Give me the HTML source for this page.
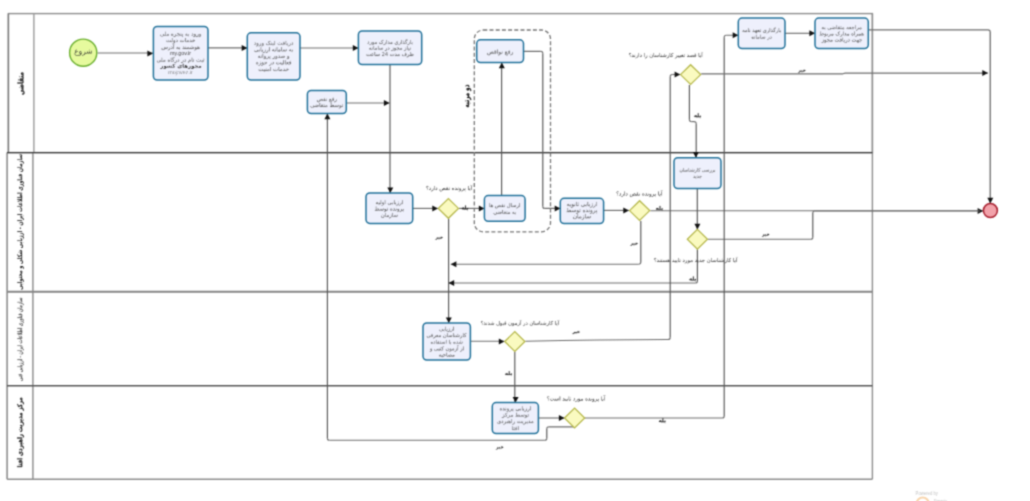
<!DOCTYPE html>
<html><head><meta charset="utf-8"><style>
html,body{margin:0;padding:0;background:#fff;width:1030px;height:501px;overflow:hidden}
svg{display:block;font-family:"Liberation Sans",sans-serif}

</style></head><body><div id="w">
<svg width="1030" height="501" viewBox="0 0 1030 501"><defs><filter id="bl" x="-2%" y="-2%" width="104%" height="104%" color-interpolation-filters="sRGB"><feConvolveMatrix order="3" kernelMatrix="1 3 1 3 9 3 1 3 1" divisor="25" edgeMode="none" preserveAlpha="false"/></filter></defs><g filter="url(#bl)">
<rect x="8.4" y="13.6" width="864" height="139" fill="none" stroke="#8e8e8e" stroke-width="1.4"/>
<line x1="8.4" y1="13.6" x2="8.4" y2="152.4" stroke="#7a7a7a" stroke-width="1.4"/>
<line x1="33.9" y1="13.6" x2="33.9" y2="152.4" stroke="#9a9a9a" stroke-width="1.4"/>
<line x1="7.1" y1="152.4" x2="7.1" y2="479.3" stroke="#8e8e8e" stroke-width="1.6"/>
<line x1="32.9" y1="152.4" x2="32.9" y2="479.3" stroke="#999" stroke-width="1.6"/>
<line x1="872.4" y1="13.6" x2="872.4" y2="479.3" stroke="#8e8e8e" stroke-width="1.4"/>
<line x1="7.1" y1="479.3" x2="872.4" y2="479.3" stroke="#8e8e8e" stroke-width="1.6"/>
<line x1="7" y1="152.7" x2="872.4" y2="152.7" stroke="#3a3a3a" stroke-width="1.3"/>
<line x1="7" y1="291.7" x2="872.4" y2="291.7" stroke="#858585" stroke-width="2"/>
<line x1="7" y1="385.8" x2="872.4" y2="385.8" stroke="#555" stroke-width="1.5"/>
<path d="M97.5 53.0H153.0" fill="none" stroke="#6e6e6e" stroke-width="1.15"/>
<polygon points="153,53.4 147.4,50.4 147.4,56.4" fill="#111"/>
<path d="M208.0 47.8H247.0" fill="none" stroke="#6e6e6e" stroke-width="1.15"/>
<polygon points="247.3,47.9 241.70000000000002,44.9 241.70000000000002,50.9" fill="#111"/>
<path d="M300.0 48.0H358.0" fill="none" stroke="#6e6e6e" stroke-width="1.15"/>
<polygon points="358.4,48 352.79999999999995,45.0 352.79999999999995,51.0" fill="#111"/>
<path d="M390.0 65.0V193.0" fill="none" stroke="#555" stroke-width="1.15"/>
<polygon points="390.3,193 387.3,187.4 393.3,187.4" fill="#111"/>
<path d="M346.3 103.0H389.5" fill="none" stroke="#6e6e6e" stroke-width="1.15"/>
<polygon points="389.5,103 383.9,100.0 383.9,106.0" fill="#111"/>
<path d="M412.7 208.4H437.9" fill="none" stroke="#6e6e6e" stroke-width="1.15"/>
<polygon points="437.9,208.4 432.29999999999995,205.4 432.29999999999995,211.4" fill="#111"/>
<path d="M458.9 208.4H484.4" fill="none" stroke="#6e6e6e" stroke-width="1.15"/>
<polygon points="484.4,208.4 478.79999999999995,205.4 478.79999999999995,211.4" fill="#111"/>
<path d="M501.6 195.6V62.6" fill="none" stroke="#555" stroke-width="1.15"/>
<polygon points="501.8,62.6 498.8,68.2 504.8,68.2" fill="#111"/>
<path d="M523.5 51.4H540.8M544.8 208.4H560.3" fill="none" stroke="#6e6e6e" stroke-width="1.15"/>
<path d="M540.8 51.4Q542.8 51.4 542.8 53.4M542.8 206.4Q542.8 208.4 544.8 208.4" fill="none" stroke="#6e6e6e" stroke-width="1.15"/>
<path d="M542.8 53.4V206.4" fill="none" stroke="#555" stroke-width="1.15"/>
<polygon points="560.3,208.4 554.6999999999999,205.4 554.6999999999999,211.4" fill="#111"/>
<path d="M603.6 210.4H628.9" fill="none" stroke="#6e6e6e" stroke-width="1.15"/>
<polygon points="628.9,210.5 623.3,207.5 623.3,213.5" fill="#111"/>
<path d="M650.3 210.7H983.2" fill="none" stroke="#6e6e6e" stroke-width="1.15"/>
<polygon points="983.2,210.9 977.6,207.9 977.6,213.9" fill="#111"/>
<path d="M638.6 264.2H450.8" fill="none" stroke="#6e6e6e" stroke-width="1.15"/>
<path d="M640.8 262.0Q640.8 264.2 638.6 264.2" fill="none" stroke="#6e6e6e" stroke-width="1.15"/>
<path d="M640.8 221.0V262.0" fill="none" stroke="#555" stroke-width="1.15"/>
<polygon points="450.8,264.3 456.40000000000003,261.3 456.40000000000003,267.3" fill="#111"/>
<path d="M448.6 218.6V323.0" fill="none" stroke="#555" stroke-width="1.15"/>
<polygon points="448.8,323 445.8,317.4 451.8,317.4" fill="#111"/>
<path d="M695.4 283.0H448.6" fill="none" stroke="#6e6e6e" stroke-width="1.15"/>
<path d="M697.4 281.0Q697.4 283.0 695.4 283.0" fill="none" stroke="#6e6e6e" stroke-width="1.15"/>
<path d="M697.4 249.3V281.0" fill="none" stroke="#555" stroke-width="1.15"/>
<polygon points="448.6,283.1 454.20000000000005,280.1 454.20000000000005,286.1" fill="#111"/>
<path d="M697.3 188.5V229.4" fill="none" stroke="#555" stroke-width="1.15"/>
<polygon points="697.4,229.4 694.4,223.8 700.4,223.8" fill="#111"/>
<path d="M707.8 239.2H810.8M814.8 211.0H980.0" fill="none" stroke="#6e6e6e" stroke-width="1.15"/>
<path d="M810.8 239.2Q812.8 239.2 812.8 237.2M812.8 213.0Q812.8 211.0 814.8 211.0" fill="none" stroke="#6e6e6e" stroke-width="1.15"/>
<path d="M812.8 237.2V213.0" fill="none" stroke="#555" stroke-width="1.15"/>
<path d="M470.4 341.2H504.4" fill="none" stroke="#6e6e6e" stroke-width="1.15"/>
<polygon points="504.4,341.4 498.79999999999995,338.4 498.79999999999995,344.4" fill="#111"/>
<path d="M672.2 74.5H680.2" fill="none" stroke="#6e6e6e" stroke-width="1.15"/>
<path d="M525.3 341.2Q600.0 339.5 668.0 339.5M668.0 339.5Q670.2 339.5 670.2 337.5M670.2 76.6Q670.2 74.5 672.2 74.5" fill="none" stroke="#6e6e6e" stroke-width="1.15"/>
<path d="M670.2 337.5V76.6" fill="none" stroke="#555" stroke-width="1.15"/>
<polygon points="680.2,74.5 674.6,71.5 674.6,77.5" fill="#111"/>
<path d="M514.8 351.7V402.6" fill="none" stroke="#555" stroke-width="1.15"/>
<polygon points="515.6,402.6 512.6,397.0 518.6,397.0" fill="#111"/>
<path d="M538.4 418.0H564.5" fill="none" stroke="#6e6e6e" stroke-width="1.15"/>
<polygon points="564.5,418 558.9,415.0 558.9,421.0" fill="#111"/>
<path d="M584.8 418.0H722.2M726.2 35.2H738.3" fill="none" stroke="#6e6e6e" stroke-width="1.15"/>
<path d="M722.2 418.0Q724.2 418.0 724.2 416.0M724.2 37.2Q724.2 35.2 726.2 35.2" fill="none" stroke="#6e6e6e" stroke-width="1.15"/>
<path d="M724.2 416.0V37.2" fill="none" stroke="#555" stroke-width="1.15"/>
<polygon points="738.3,35.2 732.6999999999999,32.2 732.6999999999999,38.2" fill="#111"/>
<path d="M574.6 426.8H548.8M544.8 440.2H329.4" fill="none" stroke="#6e6e6e" stroke-width="1.15"/>
<path d="M548.8 426.8Q546.8 426.8 546.8 428.8M546.8 438.2Q546.8 440.2 544.8 440.2M329.4 440.2Q327.4 440.2 327.4 438.2" fill="none" stroke="#6e6e6e" stroke-width="1.15"/>
<path d="M546.8 428.8V438.2M327.4 438.2V113.6" fill="none" stroke="#555" stroke-width="1.15"/>
<polygon points="327.4,113.6 324.4,119.19999999999999 330.4,119.19999999999999" fill="#111"/>
<path d="M691.6 121.6H694.0" fill="none" stroke="#6e6e6e" stroke-width="1.15"/>
<path d="M689.4 119.8Q689.4 121.6 691.6 121.6M694.0 121.6Q696.2 121.6 696.2 123.6" fill="none" stroke="#6e6e6e" stroke-width="1.15"/>
<path d="M689.4 84.9V119.8M696.2 123.6V157.7" fill="none" stroke="#555" stroke-width="1.15"/>
<polygon points="695.9,157.7 692.9,152.1 698.9,152.1" fill="#111"/>
<path d="M701.2 73.8H843.0M843.0 73.8L845.0 73.1M845.0 73.1H987.9" fill="none" stroke="#6e6e6e" stroke-width="1.15"/>
<polygon points="987.9,73.1 982.3,70.1 982.3,76.1" fill="#111"/>
<path d="M785.0 33.3H815.0" fill="none" stroke="#6e6e6e" stroke-width="1.15"/>
<polygon points="815,33.3 809.4,30.299999999999997 809.4,36.3" fill="#111"/>
<path d="M868.3 29.8H988.0" fill="none" stroke="#6e6e6e" stroke-width="1.15"/>
<path d="M988.0 29.8Q990.2 29.8 990.2 32.0" fill="none" stroke="#6e6e6e" stroke-width="1.15"/>
<path d="M990.2 32.0V203.4" fill="none" stroke="#555" stroke-width="1.15"/>
<polygon points="990.3,203.4 987.3,197.8 993.3,197.8" fill="#111"/>
<rect x="474.3" y="30" width="76.2" height="201.8" rx="9" fill="none" stroke="#777" stroke-width="1.3" stroke-dasharray="4 2.2"/>
<rect x="153.4" y="26.5" width="54.6" height="53.5" rx="3.8" fill="#eef0fc" stroke="#22729a" stroke-width="1.5"/>
<rect x="247.3" y="32.8" width="52.7" height="47.2" rx="3.8" fill="#eef0fc" stroke="#22729a" stroke-width="1.5"/>
<rect x="358.4" y="31" width="63.3" height="33.6" rx="3.8" fill="#eef0fc" stroke="#22729a" stroke-width="1.5"/>
<rect x="307.4" y="90.5" width="38.9" height="23.1" rx="3.8" fill="#eef0fc" stroke="#22729a" stroke-width="1.5"/>
<rect x="476.7" y="39.8" width="46.8" height="22.8" rx="3.8" fill="#eef0fc" stroke="#22729a" stroke-width="1.5"/>
<rect x="366" y="193" width="46.7" height="30.4" rx="3.8" fill="#eef0fc" stroke="#22729a" stroke-width="1.5"/>
<rect x="484.4" y="195.6" width="40.7" height="25.7" rx="3.8" fill="#eef0fc" stroke="#22729a" stroke-width="1.5"/>
<rect x="560.3" y="198.3" width="43.3" height="25.2" rx="3.8" fill="#eef0fc" stroke="#22729a" stroke-width="1.5"/>
<rect x="674" y="157.7" width="47.0" height="30.8" rx="3.8" fill="#eef0fc" stroke="#22729a" stroke-width="1.5"/>
<rect x="738.3" y="18.1" width="46.7" height="30.4" rx="3.8" fill="#eef0fc" stroke="#22729a" stroke-width="1.5"/>
<rect x="815" y="18.1" width="53.3" height="30.4" rx="3.8" fill="#eef0fc" stroke="#22729a" stroke-width="1.5"/>
<rect x="423" y="323" width="47.4" height="37.1" rx="3.8" fill="#eef0fc" stroke="#22729a" stroke-width="1.5"/>
<rect x="492.3" y="402.6" width="46.1" height="30.9" rx="3.8" fill="#eef0fc" stroke="#22729a" stroke-width="1.5"/>
<polygon points="438.29999999999995,208.4 448.4,198.5 458.5,208.4 448.4,218.3" fill="#fafac0" stroke="#b4b648" stroke-width="1.2"/>
<polygon points="629.5,210.6 639.6,200.7 649.7,210.6 639.6,220.5" fill="#fafac0" stroke="#b4b648" stroke-width="1.2"/>
<polygon points="680.5,74.6 690.6,64.69999999999999 700.7,74.6 690.6,84.5" fill="#fafac0" stroke="#b4b648" stroke-width="1.2"/>
<polygon points="687.3,239.3 697.4,229.4 707.5,239.3 697.4,249.20000000000002" fill="#fafac0" stroke="#b4b648" stroke-width="1.2"/>
<polygon points="504.69999999999993,341.5 514.8,331.6 524.9,341.5 514.8,351.4" fill="#fafac0" stroke="#b4b648" stroke-width="1.2"/>
<polygon points="564.5,418 574.6,408.1 584.7,418 574.6,427.9" fill="#fafac0" stroke="#b4b648" stroke-width="1.2"/>
<circle cx="83.2" cy="52.7" r="13.6" fill="#e6fa9e" stroke="#6cb030" stroke-width="1.4"/>
<circle cx="990.4" cy="210.6" r="7.0" fill="#f2a2aa" stroke="#a82030" stroke-width="1.5"/>
<path fill="#575757" stroke="#575757" stroke-width="0.12" d="M182.4 36.6L182.4 36.9L182.7 37L182.8 36.6ZM188.6 36.1L188.6 36.4L188.8 36.4L188.8 36.2ZM178.4 36.1L178.2 36.2L178.2 36.4L178.4 36.4ZM182.9 36L182.8 36.3L183.1 36.3L183.1 36.1ZM182.2 36L182.1 36.3L182.4 36.3L182.4 36.1ZM198.1 34.3L197.9 34.3L198 35.1L197.8 35.7L197.2 36.3L196 36.6L196 37L196.5 37L197.2 36.8L198 36.2L198.4 35.4L198.4 34.6ZM200.5 34.2L199.8 34.1L199.3 34.5L199.3 35.2L199.8 35.6L200.3 35.6L200.4 35.9L199.8 36.4L198.6 36.6L198.6 37L199.8 36.9L200.6 36.3L200.8 35.9L200.8 34.6ZM199.8 34.5L200.2 34.5L200.5 34.8L200.5 35.2L200.4 35.3L199.8 35.2L199.6 34.8ZM195.2 34.2L194.6 34.1L194.1 34.4L194 34.7L194.1 35.3L194.3 35.5L195.1 35.6L195.2 35.7L195.1 36L194.3 36.5L193.3 36.6L193.3 37L194.6 36.9L195 36.6L195.5 36.2L195.7 35.6L195.7 34.8L195.6 34.5ZM194.4 34.7L194.7 34.5L195 34.5L195.2 34.7L195.2 35.2L195.1 35.3L194.7 35.2L194.4 35ZM171.8 33.8L171.3 34.4L171.3 35.2L171.4 35.4L171.9 35.7L172.5 35.7L173 35.5L173.4 35L173.2 34.5L172.7 34ZM171.8 34.4L172 34.2L172.5 34.3L172.9 34.7L172.9 35.1L172.5 35.4L172 35.4L171.7 35.1ZM185.5 34.7L185.5 35.1L185.6 35.3L185.8 35.4L186.7 35.4L186.9 35.3L187.4 35.6L188.4 35.6L188.6 35.5L188.8 35.2L188.9 34.2L188.5 34.2L188.5 35L188 35.3L187.6 35.3L187.3 35L187 34.3L187 33.8L186.9 33.7L186.7 33.7L186.5 34.1L185.9 34.2ZM186.6 34.3L186.8 34.6L186.8 35L186.4 35.2L186 35.2L185.8 35L185.9 34.6L186.4 34.3ZM173.6 37L174.6 36.9L175.3 36.5L175.7 36.1L175.9 35.5L176.2 35.6L177.5 35.6L178.3 35.3L178.7 34.8L178.8 34.8L179.3 35.4L179.7 35.6L180.6 35.6L181 35.4L181.3 35.6L182.3 35.6L182.6 35.5L182.8 35.1L182.8 34.2L182.4 34.2L182.4 34.8L182.3 35.1L182 35.3L181.5 35.3L181.2 35L181.2 34.2L180.8 34.2L180.8 35L180.4 35.3L179.7 35.2L179.3 34.7L179.3 34.6L179.6 34.4L179.6 34.1L178.2 33.6L177.2 33.6L177.2 34L177.3 34.1L178.5 34.1L179 34.3L177.7 35.2L176.4 35.3L176 35L175.9 34.4L175.8 34.3L175.5 34.3L175.6 34.5L175.6 35.4L175.5 35.6L174.8 36.3L174.4 36.5L173.6 36.6ZM192.5 33.4L192.1 33.4L192.5 33.8L192.8 34.3L192.8 34.8L192.4 35.2L192.1 35.3L191.5 35.2L191.5 35.5L191.8 35.6L192.6 35.5L192.9 35.4L193.1 35.1L193.2 34.4L193.1 34.1ZM180.9 33.1L180.9 33.4L181.1 33.4L181.1 33.1ZM168.8 34.6L168.6 34.4L168.3 34.2L167.5 34.2L167.2 34.4L166.8 35.2L166.6 35.3L166.1 35.3L165.8 35.2L165.6 34.8L165.6 31.7L165.3 31.7L165.3 34.8L165 35.2L164.6 35.3L164.3 35.1L163.9 34.5L163.4 34.4L163.1 34.5L162.8 35L163.3 35.6L162.7 36L161.5 36L161.2 35.9L160.8 35.4L161 34.7L160.7 34.7L160.6 34.8L160.4 35.5L160.6 35.9L161 36.2L161.3 36.3L162.7 36.3L163.3 36.1L163.6 35.7L163.6 35.3L163.3 35.1L163.5 34.7L164 35.4L164.4 35.6L165.2 35.6L165.3 35.5L165.6 35.5L165.7 35.6L167 35.6L167.2 35.5L167.5 35.7L168.3 35.7L168.5 35.6L168.8 35.3ZM167.7 34.5L168.1 34.5L168.3 34.7L168.3 35.2L168.1 35.4L167.7 35.4L167.4 35.2L167.4 34.8ZM174.7 40.6L174 40.5L173.5 40.9L173.5 41.6L174 42L174.5 42L174.6 42.3L174 42.8L172.8 43L172.8 43.4L174 43.3L174.8 42.7L175 42.3L175 41ZM174 40.9L174.4 40.9L174.7 41.2L174.7 41.6L174.6 41.7L174 41.6L173.8 41.2ZM184.2 40.4L183.9 40.4L183.9 40.8L183.4 41.4L182.8 41.6L182.2 41.6L182.1 41.7L180.9 41.6L180.4 41.2L180.4 40.7L180.5 40.5L180.2 40.5L180.1 40.6L180.1 41.4L180.4 41.8L181 42L183 41.9L183.8 41.6L184.2 41ZM182.2 40L182.2 40.2L182.4 40.4L182.4 40ZM181.5 40L181.5 40.2L181.8 40.4L181.9 40ZM168.5 40L168.5 40.2L168.8 40.4L168.9 40ZM167.9 40L167.9 40.2L168.1 40.4L168.2 40ZM189.6 42L190.5 42L191.1 41.7L191.5 42L192.9 42L193.7 41.7L194.1 41.2L194.9 40.8L194.9 40.5L194.4 40.2L193.5 40.1L193.4 40L192.5 40L192.5 40.4L192.6 40.5L193.8 40.5L194.2 40.7L193.4 41.4L193 41.6L191.9 41.7L191.3 41.2L191.2 40.6L190.6 39.8L190.2 39.8L190.6 40.2L190.9 40.7L190.9 41.2L190.5 41.6L189.6 41.7ZM176.9 39.8L176.5 39.8L176.9 40.2L177.2 40.7L177.2 41.2L176.8 41.6L176.5 41.7L175.9 41.6L175.9 41.9L176.2 42L177.1 41.9L177.3 41.8L177.5 41.5L177.6 40.8L177.5 40.5ZM193.8 39.2L193.5 39.2L193.5 39.6L193.8 39.5ZM185.2 38.1L185.2 41.4L185.4 41.7L185.8 42L187 42L187.2 41.9L187.5 42.1L188.3 42.1L188.7 41.8L188.7 40.9L188.4 40.6L187.5 40.6L187.2 40.9L187 41.4L186.7 41.7L186 41.7L185.7 41.4L185.7 38.1ZM187.6 41L188 40.9L188.4 41.2L188.4 41.6L188.2 41.8L187.5 41.7L187.4 41.5ZM172.3 38.1L172 38.1L172 41.4L171.6 41.7L170.9 41.6L170.7 41.2L170.7 40.6L170.5 40.4L170.2 40.4L170.3 40.7L169.8 41.4L169.1 41.6L168.6 41.6L168.5 41.7L167.7 41.7L167.1 41.5L166.7 41L166.8 40.5L166.6 40.5L166.4 40.8L166.5 41.5L166.8 41.8L167.4 42L168.8 42L168.9 41.9L169.8 41.8L170.2 41.5L170.9 42L171.9 42L172.1 41.9L172.3 41.6ZM179.7 49.3L179.7 49.7L179.9 49.7L179.9 49.3ZM169.9 47.5L169.7 47.5L169.8 48.3L169.6 49L169 49.6L167.8 49.9L167.8 50.2L168.2 50.2L169 50L169.8 49.4L170.2 48.7L170.2 47.9ZM176.5 48L176.5 48.3L176.9 48.7L177.8 48.7L178.1 48.5L178.5 48.9L179.5 48.9L179.9 48.5L180 47.4L179.6 47.4L179.6 48.2L179.2 48.5L178.7 48.5L178.2 48L178.2 47.4L178 47L177.9 47L177.7 47.3L177.3 47.3L176.9 47.5ZM177.7 47.5L177.9 47.8L177.9 48.2L177.4 48.4L177 48.3L176.9 48.1L177.3 47.6ZM167.5 47L167.3 46.9L167 47L167 48.1L166.8 48.4L166.6 48.4L166.2 48.2L166.1 48L166.1 47.3L165.7 47.3L165.7 47.9L165.3 48.4L165 48.4L164.8 48.2L164.5 47.8L164.5 47.3L164.1 47.3L164.3 47.9L164.3 48.8L163.5 49.7L162.9 49.8L162.2 49.4L162.1 49L162.2 48.9L162.2 48.3L162.4 48L162 48L161.7 48.5L161.7 49.4L162.2 50L163.5 50.1L164 49.9L164.4 49.4L164.8 48.8L164.9 48.9L165.4 48.9L165.7 48.8L165.9 48.4L166.1 48.8L166.8 48.9L167.3 48.4ZM182.6 48.9L183.5 48.9L184.1 48.5L184.5 48.9L185.5 48.9L185.9 48.7L186.2 48.9L187.3 48.9L187.5 48.8L187.9 49L188.7 49L188.9 48.8L189.2 48.9L190.3 48.9L190.8 48.5L191.1 48.9L191.8 48.9L192 48.8L192.3 48.4L192.5 48.8L193.2 48.9L193.7 48.4L193.8 48.1L193.8 47L193.4 47L193.4 48.2L193 48.5L192.6 48.2L192.5 48L192.5 47.4L192.4 47.3L192 47.4L192 48L191.6 48.5L191.1 48.3L190.9 47.8L190.9 47.3L190.6 47.4L190.6 48.1L190 48.5L189.5 48.5L189.1 48.2L189 47.8L188.7 47.4L187.9 47.4L187.4 47.8L187.3 48.2L187 48.5L186.4 48.5L186.1 48.3L186.1 47.4L185.6 47.4L185.6 48.2L185.2 48.5L184.9 48.5L184.3 48.1L184.2 47.4L183.6 46.6L183.2 46.6L183.6 47.1L183.8 47.5L183.8 48.1L183.5 48.4L182.6 48.5ZM188.1 47.8L188.4 47.8L188.7 48L188.7 48.4L188.4 48.7L188.1 48.7L187.8 48.4L187.8 48.1ZM171.9 46.6L171.5 46.6L172.1 47.3L172.2 48L171.9 48.3L171.5 48.5L170.9 48.4L170.9 48.8L171.1 48.9L172.1 48.8L172.5 48.3L172.5 47.4ZM199.5 48.1L199.3 47.6L198.7 47L197.6 46.4L197.6 46.8L197.9 47L197.5 47.3L197.6 48.4L197.5 48.5L196.6 48.5L196.4 48.3L196.4 47.9L196.1 47.4L195.8 47.3L195.2 47.4L194.8 47.8L194.8 48.4L195.4 48.9L195.8 48.9L196 49.1L195.4 49.7L194.2 49.9L194.2 50.2L194.8 50.2L195.6 50L196.1 49.7L196.5 48.9L197.9 48.9L198.1 48.8L198.3 49L199.1 49.1L199.3 49L199.5 48.7ZM195.4 47.8L195.8 47.8L196.1 48.1L196.1 48.4L196 48.5L195.4 48.4L195.2 48.1ZM198.9 47.6L199.2 48.1L199.2 48.5L199 48.8L198.7 48.8L198.5 48.4L198.8 48.2L198.8 47.8ZM198 47.3L198.3 47.3L198.5 47.6L198.2 48.2L197.9 48L197.9 47.4ZM192.5 46.4L192.3 46.4L192.3 46.8L192.5 46.6ZM191.6 46.4L191.6 46.8L191.8 46.8L191.8 46.4ZM185.7 46.3L185.7 46.6L186 46.6L186 46.4ZM192.1 45.7L191.9 45.7L191.9 46.1L192.1 46ZM173.5 45L173.5 48.9L173.9 48.9L173.9 45ZM172.8 44.4L173.2 44.2L173.9 44.5L174.4 44.3L174.5 44.1L174.1 44.3L173.6 44.3L173.3 44.1L172.8 44.2ZM187.1 54.4L187.1 54.9L187.5 54.9L187.5 54.4ZM177.3 54.4L177.3 54.9L177.8 54.9L177.8 54.4ZM190.9 52.1L190.5 52.1L190.1 52.5L190 52.4L190 52.1L189.7 52.1L189.7 54.9L190 54.9L190 53.1L190.1 52.8L190.5 52.4L190.9 52.4ZM188.4 52.1L188.4 54.9L188.9 54.9L188.9 52.1ZM184.4 52.1L185.3 54.9L185.9 54.9L186.9 52.1L186.4 52.1L185.6 54.4L185.4 54.2L184.9 52.5L184.9 52.2L184.7 52.1ZM182 52.2L181.7 52.5L181.6 52.9L181.6 54.1L181.8 54.6L182.4 54.9L183.2 54.9L183.6 54.7L184 54.1L184 52.9L183.7 52.4L183.2 52.1ZM182.6 52.3L183.2 52.4L183.5 52.8L183.6 53.1L183.5 54.2L182.9 54.7L182.4 54.6L182 54.2L181.9 53.9L181.9 53L182 52.8ZM180.8 52.1L180.5 52.1L180.5 52.4L180.4 52.5L180.3 52.3L179.8 52.1L179.2 52.1L178.7 52.5L178.6 52.9L178.6 54.2L178.8 54.7L179.1 54.9L179.8 54.9L180.4 54.4L180.5 54.6L180.5 55.2L180.1 55.7L179.6 55.8L179 55.3L178.8 55.3L178.7 55.6L179 55.9L180 56L180.4 55.9L180.8 55.3ZM179.6 52.3L180 52.4L180.4 52.8L180.5 53.1L180.4 54.2L179.8 54.7L179.2 54.6L178.9 53.9L179 52.8ZM177.1 52.1L176.7 52.1L176.2 53.7L175.9 54.3L175.7 54L175 52.1L174.5 52.1L175.7 54.8L175.4 55.5L175.2 55.7L174.8 55.8L174.8 56L175.2 56L175.8 55.6ZM170.4 52.1L170.4 54.9L170.8 54.9L170.8 52.9L170.9 52.6L171.4 52.3L171.8 52.4L172.1 52.8L172.1 54.9L172.4 54.9L172.4 53.1L172.5 52.8L173.1 52.3L173.3 52.3L173.7 52.9L173.7 54.9L174.1 54.9L174.1 52.6L173.6 52.1L173.1 52.1L172.5 52.5L171.9 52.1L171.4 52.1L170.8 52.5L170.7 52.4L170.7 52.1ZM188.4 51.1L188.4 51.4L188.9 51.4L188.9 51.1ZM202.1 62.1L202.1 62.4L202.3 62.4L202.3 62.2ZM183.2 60.3L182.9 60.4L183 60.5L183 61.5L182.9 61.7L182.1 62.4L181 62.6L181 63L182 62.9L183 62.3L183.3 61.7L183.3 61.3L183.4 61.2L183.4 60.7ZM176.5 60.3L176.3 60.3L176.4 61.1L176.2 61.7L175.6 62.3L174.4 62.6L174.4 63L174.8 63L175.6 62.7L176.4 62.2L176.7 61.4L176.7 60.6ZM204 60.2L203.6 60.2L203.5 61.1L203.2 61.3L202.7 61.3L202.4 61.1L202.4 60.2L202 60.2L202 61L201.5 61.3L200.9 61.2L200.7 60.8L200.7 60.2L200.6 59.9L200.3 59.9L200.4 60.3L199.8 61L199.2 61.2L198.7 61.2L198.6 61.3L197.4 61.2L197.1 61.1L196.8 60.6L196.9 60.1L196.6 60.2L196.5 60.8L196.9 61.4L197.5 61.6L198.8 61.6L198.9 61.5L199.8 61.4L200.3 61.1L200.9 61.6L201.8 61.6L202.2 61.4L202.5 61.6L203.5 61.6L204 61.1ZM190.4 59.9L189.6 59.8L189.2 60.2L189.1 60.8L188.7 61L188.4 61.3L188.3 61.6L188.3 63L188.7 63L188.7 61.6L189.1 61.3L189.5 61.5L190.2 61.5L190.7 61.2L190.7 60.4ZM189.4 60.6L189.7 60.3L190.2 60.3L190.4 60.6L190.4 60.8L190.1 61.2L189.8 61.2L189.4 61ZM168.3 59.8L167.9 60.4L167.9 61.2L168 61.4L168.4 61.7L169 61.7L169.5 61.5L169.9 61L169.8 60.5L169.2 59.9ZM168.3 60.4L168.5 60.2L169 60.3L169.4 60.7L169.4 61.1L169 61.4L168.5 61.4L168.2 61.1ZM198.6 59.6L198.6 59.8L198.8 59.9L198.9 59.6ZM197.9 59.6L197.9 59.8L198.1 59.9L198.3 59.6ZM185.2 59.4L184.7 59.4L185.2 59.9L185.5 60.4L185.5 60.7L184.8 61.3L184.1 61.2L184.1 61.5L184.3 61.6L185 61.6L185.5 61.4L185.8 61L185.7 59.9ZM178.5 59.4L178.1 59.4L178.6 60.1L178.7 60.7L178.5 61.1L178.1 61.3L177.5 61.2L177.5 61.5L177.6 61.6L178.6 61.5L179.1 61.1L179.1 60.2ZM204.1 59L204 59.4L204.3 59.4L204.3 59.2ZM203.4 59L203.3 59.4L203.6 59.4L203.6 59.2ZM193.5 59L193.5 59.4L193.8 59.4L193.8 59ZM203.8 58.4L203.6 58.7L204 58.7L204 58.5ZM191.8 57.7L191.8 61L191.9 61.3L192.3 61.6L193.3 61.6L193.8 61.3L193.9 60.2L193.4 60.2L193.4 61L193.1 61.3L192.5 61.3L192.2 61L192.2 57.7ZM170.9 57.7L170.9 61.2L171 61.4L171.3 61.6L173 61.6L173.2 61.5L173.7 61L173.7 60.5L173.5 60.1L172.7 59.2L172.7 58.8L173 58.6L174.4 58.1L174.5 58L174.5 57.7L172.9 58.3L172.2 58.7L172.2 59.3L173.2 60.5L173.2 61L172.8 61.3L171.6 61.3L171.2 61L171.2 57.7ZM165.3 60.6L165.2 60.4L164.8 60.2L164 60.2L163.7 60.4L163.4 61.2L163.1 61.3L162.6 61.3L162.4 61.2L162.1 60.8L162.1 57.7L161.8 57.7L161.8 60.8L161.6 61.2L161.1 61.3L160.8 61.1L160.4 60.5L159.9 60.4L159.7 60.5L159.3 61L159.8 61.6L159.2 62L158 62L157.8 61.9L157.3 61.4L157.5 60.7L157.2 60.7L157.1 60.8L157 61.5L157.1 61.9L157.5 62.2L157.9 62.3L159.2 62.3L159.8 62.1L160.1 61.7L160.1 61.3L159.8 61.1L160 60.7L160.6 61.4L160.9 61.6L161.7 61.6L161.8 61.5L162.1 61.5L162.2 61.6L163.5 61.6L163.7 61.5L164 61.7L164.8 61.7L165 61.6L165.3 61.3ZM164.3 60.5L164.6 60.5L164.8 60.7L164.8 61.2L164.6 61.4L164.3 61.4L163.9 61.2L163.9 60.8ZM174.5 56.9L172.7 57.7L172.5 57.7L172.2 58L172.6 58L174.2 57.3L174.5 57.3ZM287.9 45.3L287.8 45.6L288.2 45.6L288.2 45.4ZM287.3 45.3L287.2 45.6L287.5 45.6L287.5 45.4ZM273.3 45.3L273.3 45.6L273.5 45.6L273.5 45.4ZM272.8 45.3L272.6 45.4L272.6 45.6L272.8 45.6ZM290.5 43.6L290.3 43.5L290.1 43.6L290.2 43.7L290.2 44.6L290 45.1L289.6 45.4L289 45.7L288.2 45.9L288.2 46.2L289.2 46.1L289.9 45.7L290.3 45.3L290.5 44.8ZM260.8 43.5L260.6 43.5L260.7 44.3L260.5 45L259.9 45.5L258.7 45.9L258.7 46.2L259.1 46.2L259.9 46L260.7 45.4L261 44.6L261 43.8ZM263.2 43.4L262.5 43.3L261.9 43.7L261.9 44.4L262.5 44.8L263 44.8L263.1 45.1L262.5 45.6L261.3 45.9L261.3 46.2L262.5 46.1L263.3 45.5L263.5 45.1L263.5 43.8ZM262.5 43.7L262.9 43.7L263.2 44.1L263.2 44.4L263.1 44.5L262.5 44.4L262.3 44.1ZM257.8 43.3L257.2 43.3L256.8 43.7L256.8 44.4L256.9 44.6L257.3 44.8L257.8 44.8L257.9 45.1L257.3 45.6L256.1 45.9L256.1 46.2L256.8 46.2L257.5 46L258 45.6L258.3 45L258.3 43.9ZM257.1 43.9L257.3 43.7L257.7 43.7L257.9 43.9L258 44.4L257.9 44.5L257.5 44.5L257.1 44.2ZM279.8 42.8L279.8 43L280 43.1L280.1 42.8ZM279.1 42.8L279.1 43L279.4 43.1L279.5 42.8ZM292.4 42.6L291.9 42.6L292.6 43.4L292.6 44.1L292.2 44.4L291.9 44.5L291.3 44.4L291.3 44.7L291.6 44.8L292.2 44.8L292.9 44.4L293 43.5L292.6 42.7ZM255.2 42.6L254.7 42.6L255.2 43L255.4 43.5L255.4 44.1L255.1 44.4L254.7 44.5L254.1 44.4L254.1 44.7L254.4 44.8L255.3 44.7L255.5 44.6L255.7 44.3L255.8 43.6L255.7 43.3ZM284.8 43.3L284.7 43.1L284.7 42.8L284.1 42.4L283.4 42.5L283.1 42.9L283.2 43.6L283.7 43.9L284 43.9L284.1 43.8L284.3 43.9L283.9 44.4L283.5 44.5L282.4 44.5L282.2 44.4L282 44.1L282 43.4L281.8 43.1L281.5 43.1L281.6 43.5L281.1 44.2L280.4 44.4L279.9 44.4L279.8 44.5L278.6 44.4L278.3 44.3L278 43.8L278.1 43.3L277.8 43.4L277.7 44.1L278.1 44.6L278.7 44.8L280 44.8L280.1 44.7L281.1 44.6L281.5 44.3L282.2 44.8L283.9 44.8L284.4 44.5L284.7 44.1ZM283.5 43L283.8 42.8L284.1 42.8L284.3 43L284.3 43.4L284.1 43.6L283.8 43.6L283.5 43.4ZM271.3 42.2L271.3 42.6L271.6 42.6L271.6 42.4ZM283.9 41.5L283.8 41.8L284.1 41.8L284.1 41.6ZM285.8 40.9L285.8 44.4L285.9 44.6L286.3 44.8L287.4 44.8L287.8 44.3L287.8 43.4L287.5 43.4L287.4 44.3L287 44.5L286.5 44.5L286.1 44.2L286.1 40.9ZM266.1 43.9L266.2 44.5L266.6 44.8L267.1 45.1L268.4 45.1L268.5 45L268.8 45L269.5 44.6L269.9 44.3L270 44.5L270.4 44.8L271.1 44.8L271.4 44.6L271.8 44.8L272.7 44.8L273 44.6L273.4 44.8L274.5 44.8L274.7 44.7L274.9 44.4L274.9 40.9L274.6 40.9L274.6 44.1L274.5 44.3L274.2 44.5L273.6 44.5L273.3 44.2L273.3 43.4L272.8 43.4L272.8 44.2L272.5 44.5L272 44.5L271.7 44.3L271.7 43.4L271.2 43.4L271.2 44.2L271 44.4L270.5 44.4L268.7 42.2L269.1 41.8L270.4 41.3L270.5 41.2L270.5 40.9L269.8 41.1L268.4 41.8L268.3 42.2L268.5 42.7L269.4 43.7L269.4 44.1L269.1 44.4L268.2 44.7L267.4 44.7L266.8 44.5L266.6 44.3L266.6 43.6L266.7 43.5L266.4 43.5ZM292.3 51.7L292.3 52.1L292.5 52.1L292.5 51.7ZM262.9 51.7L262.8 52.1L263.1 52.1L263.1 51.9ZM262.2 51.7L262.1 52.1L262.5 52.1L262.5 51.9ZM259.4 51.7L259.3 52.1L259.6 52.1L259.6 51.9ZM268 49.9L267.8 49.9L267.9 50.7L267.7 51.4L267.1 52L265.8 52.3L265.8 52.7L266.3 52.7L267.1 52.4L267.9 51.9L268.2 51.1L268.2 50.3ZM265.4 49.9L265.1 50.1L265.2 50.2L265.2 51.2L265.1 51.4L264.3 52.1L263.1 52.3L263.1 52.7L263.7 52.7L264.7 52.3L265.4 51.6L265.6 50.8L265.6 50.4ZM259.6 49.8L259.3 49.8L259.3 50.5L259.2 50.7L258.8 51L258.5 50.8L258 50.2L257.8 50.1L257.3 50.2L256.9 50.6L257.4 51.3L256.8 51.6L255.6 51.6L255.3 51.5L254.9 51.1L255.1 50.4L254.8 50.4L254.7 50.5L254.5 51.2L254.7 51.5L255.1 51.9L255.4 52L256.8 52L257.4 51.7L257.7 51.4L257.7 51L257.4 50.7L257.6 50.4L258.2 51.1L258.5 51.3L259.2 51.3L259.4 51.2L259.6 50.7ZM289.1 50.4L289.1 50.7L289.5 51.1L290.4 51.1L290.7 51L291.1 51.3L292.1 51.3L292.5 51L292.6 49.8L292.2 49.8L292.2 50.6L291.8 51L291.3 51L290.8 50.4L290.8 49.8L290.6 49.4L290.5 49.4L290.3 49.7L289.9 49.7L289.5 49.9ZM290.3 49.9L290.5 50.2L290.5 50.6L290 50.8L289.6 50.7L289.5 50.5L289.9 50.1ZM272.3 50.3L272.3 50.8L272.6 51.1L273.5 51.1L273.8 51L274.2 51.3L275.2 51.3L275.5 51.2L275.7 50.7L275.7 49.8L275.3 49.8L275.3 50.5L275.1 50.8L274.9 51L274.2 50.8L273.9 50.2L273.9 49.5L273.8 49.4L273.5 49.4L273.3 49.7L272.7 49.8ZM273.4 49.9L273.6 50.6L273.2 50.8L272.9 50.8L272.6 50.6L272.6 50.4L273 50.1ZM265.1 48.9L265.1 49.1L265.3 49.3L265.4 48.9ZM275.5 48.7L275.3 49L275.7 49L275.7 48.8ZM281.3 47.3L281.3 50.6L281.7 51.2L281.9 51.3L283 51.3L283.5 51L283.8 51.3L284.5 51.3L285 51L285.4 51.3L285.9 51.3L286.3 51L286.5 50.3L286.5 49.4L286.4 49.3L286.1 49.4L286.1 50.6L285.7 51L285.3 50.7L285.1 49.7L284.7 49.7L284.6 50.6L284.2 51L283.7 50.6L283.6 49.7L283.3 49.7L283.3 50.4L282.9 50.8L282.7 51L282.1 51L281.8 50.6L281.8 47.3ZM276.8 47.3L276.8 50.7L277.3 51.3L278.5 51.3L278.6 51.2L279.1 51.4L279.9 51.4L280.1 51.3L280.3 51L280.3 50.3L280.2 50.1L279.9 49.8L279.1 49.8L278.8 49.9L278.5 50.7L278.2 51L277.6 51L277.3 50.7L277.2 50.4L277.2 47.3ZM279.3 50.2L279.6 50.2L279.9 50.4L279.9 50.8L279.6 51.1L279.3 51.1L279 50.8L279 50.5ZM269.1 47.3L269.1 51.3L269.6 51.3L269.6 47.3ZM260.8 47.3L260.8 50.8L260.9 51.1L261.2 51.3L262.3 51.3L262.6 51.2L262.8 50.7L262.8 49.8L262.5 49.8L262.5 50.5L262.2 50.8L261.6 51L261.2 50.7L261.1 50.5L261.1 47.3ZM269.9 58.8L269.9 59L270.1 59.1L270.2 58.8ZM270.3 58.1L270.2 58.4L270.5 58.4L270.5 58.2ZM269.6 58.1L269.5 58.4L269.9 58.4L269.9 58.2ZM274.5 56.4L274.3 56.4L274.4 57.4L274 58.1L273.1 58.6L272.3 58.8L272.3 59.1L272.8 59.1L273.6 58.9L274 58.6L274.5 58.2L274.7 57.6L274.7 56.6ZM270.2 56.3L269.9 56.3L269.9 57L269.8 57.2L269.4 57.4L268.7 57.3L268.4 56.7L268.4 56.4L268.1 56.4L268.2 57.2L267.9 57.9L267.4 58.4L266.1 58.8L266.1 59.1L266.7 59.1L267.6 58.8L268.1 58.4L268.5 57.6L268.7 57.7L269.8 57.7L270 57.6L270.2 57.2ZM288.6 56.3L287.9 56.2L287.5 56.5L287.4 56.8L287.5 57.4L287.7 57.6L288.5 57.7L288.6 57.9L288.5 58.1L287.7 58.6L286.7 58.8L286.7 59.1L287.9 59L288.4 58.8L288.9 58.3L289.1 57.7L289.1 57L289 56.6ZM287.8 56.8L288.1 56.6L288.4 56.6L288.6 56.8L288.6 57.3L288.5 57.4L288.1 57.3L287.8 57.1ZM276.9 56.3L276.2 56.2L276 56.3L275.6 56.7L275.6 57.2L276 57.6L276.8 57.7L276.9 57.9L276.6 58.2L276 58.6L274.9 58.8L274.9 59.1L276.2 59L276.6 58.8L277.1 58.3L277.3 57.2L277.2 57.1L277.2 56.7ZM276.1 56.7L276.2 56.6L276.6 56.6L276.9 57L276.9 57.3L276.8 57.4L276.3 57.3L276.1 57.1ZM265.2 56.2L264.7 56.2L264.2 56.6L264.2 57.3L264.3 57.5L264.8 57.7L265.2 57.7L265.3 58L264.8 58.5L263.5 58.8L263.5 59.1L264.2 59.1L265 58.9L265.5 58.5L265.8 57.9L265.8 56.8ZM264.5 56.8L264.8 56.6L265.1 56.6L265.3 56.8L265.5 57.3L265.3 57.4L265 57.4L264.5 57.1ZM258.1 57L258.4 57.5L259.5 57.5L259.7 57.4L260.1 57.7L261.2 57.7L261.6 57.2L261.6 56.3L261.3 56.3L261.2 57.2L260.8 57.4L260.3 57.4L259.9 57.1L259.8 55.9L259.7 55.8L259.5 55.8L259.2 56.2L258.9 56.2L258.4 56.4ZM259.3 56.4L259.6 57.1L259.1 57.3L258.8 57.3L258.6 57.1L258.6 56.8L258.9 56.5ZM278.1 57.7L279 57.7L279.6 57.4L280 57.7L281.2 57.7L281.6 57.4L282.1 57.7L283.5 57.7L284.2 57.5L284.7 57.1L284.7 56.3L284.1 55.9L283.4 55.9L282.8 56.3L282 57.1L281.7 56.8L281.7 56.5L281.4 56.5L281.4 56.8L281.1 57.3L280.4 57.4L279.8 57L279.7 56.3L279.1 55.5L278.7 55.5L279.1 55.9L279.4 56.4L279.4 57L279 57.3L278.1 57.4ZM284.3 56.6L284.3 56.8L283.7 57.3L283.2 57.3L283.1 57.4L282.4 57.4L282.3 57.3L283.1 56.5L283.5 56.3L284 56.3ZM261.4 55.1L261.3 55.5L261.6 55.5L261.6 55.3ZM262.7 53.8L262.7 57.7L263.1 57.7L263.1 53.8ZM282.3 64.6L282.2 65L282.5 65L282.5 64.8ZM281.6 64.6L281.5 65L281.8 65L281.8 64.8ZM271.3 63L271.1 62.8L270.9 63L271 63.1L271 64L270.8 64.4L270.4 64.8L269.8 65.1L269 65.2L269 65.5L270 65.4L270.7 65.1L271.1 64.6L271.3 64.2ZM260.7 62.8L260.4 63L260.5 63.1L260.5 64.1L260.4 64.3L259.6 65L258.4 65.2L258.4 65.5L259 65.5L260 65.2L260.7 64.5L260.9 63.7L260.9 63.3ZM256.6 62.4L256.3 62.7L256.3 63.1L256.2 63.2L256.3 64L256.8 64.3L257.4 64.3L257.9 64.1L258.2 63.6L258.2 63.3L258 62.8L257.5 62.5ZM256.9 62.7L257.5 63L257.9 63.4L257.4 64L256.9 64L256.6 63.7L256.6 63ZM278.5 62.2L278.5 62.4L278.7 62.5L278.8 62.2ZM277.8 62.2L277.8 62.4L278 62.5L278.1 62.2ZM266.9 62.6L266.5 62.4L265.6 62.3L265.5 62.2L264.5 62.2L264.5 62.5L264.7 62.6L265.8 62.6L266.2 62.8L265.5 63.5L264.4 63.9L263.5 63.9L263.3 63.1L262.9 62.6L262.3 62.6L261.8 63L261.7 63.3L261.8 63.9L262.1 64.1L262.9 64.2L263 64.3L262.5 64.9L262.1 65.1L261 65.2L261 65.5L261.8 65.5L262.7 65.2L263.2 64.8L263.4 64.2L264.9 64.2L265.7 63.9L266.5 63.2L266.9 63ZM262.2 63.3L262.4 63.1L262.7 63.1L263.1 63.6L262.9 63.9L262.6 63.9L262.2 63.5ZM273.1 61.9L272.7 61.9L273.4 62.7L273.4 63.4L273 63.7L272.7 63.9L272.1 63.7L272.1 64.1L272.3 64.2L273 64.2L273.7 63.7L273.8 62.8L273.4 62ZM260.4 61.8L260.4 62L260.6 62.2L260.7 61.8ZM290.1 60.8L290 61.1L290.3 61.1L290.3 60.9ZM285.1 60.2L285.1 63.7L285.3 64.1L285.6 64.2L286.7 64.2L287.5 63.7L288.2 64.2L290.1 64.2L290.7 63.9L290.9 63.4L291 62.6L290.9 62.5L290.9 62.2L290.3 61.7L289.6 61.8L289.3 62.3L289.3 62.7L289.6 63.2L289.9 63.3L290.4 63.2L290.5 63.3L290.1 63.7L289.8 63.9L288.4 63.9L287.8 63.5L288.3 63L288.3 62.5L287.9 62.3L287 62.3L286.8 62.4L286.6 62.7L287 63.5L286.6 63.9L285.8 63.9L285.5 63.5L285.5 60.2ZM287.2 62.8L287.4 62.6L287.6 62.6L287.8 62.8L287.5 63.2ZM289.8 62.4L290 62.2L290.3 62.2L290.5 62.4L290.5 62.7L290.3 63L290 63L289.8 62.7ZM284 60.2L283.5 60.2L283.5 63.5L283.2 63.9L282.6 63.9L282.3 63.6L282.2 63.4L282.2 62.7L281.8 62.7L281.8 63.4L281.7 63.6L281.4 63.9L281.1 63.9L280.6 63.5L280.5 62.5L280.1 62.5L280.1 63.1L279.8 63.4L279 63.7L278.6 63.7L278.5 63.9L277.1 63.7L276.6 63.3L276.8 62.6L276.5 62.6L276.3 62.8L276.3 63.5L276.5 63.9L277.2 64.2L278.7 64.2L278.8 64.1L279.6 64L280.1 63.6L280.8 64.2L281.7 64.2L281.8 64.1L282.2 64.1L282.3 64.2L283.4 64.2L283.9 63.9L284 63.5ZM264.7 71.4L264.6 71.7L264.9 71.7L264.9 71.5ZM264 71.4L264 71.7L264.3 71.7L264.3 71.5ZM277.7 69.2L277.4 69.2L277.4 69.7L276.9 70.2L276.2 70.5L275.7 70.5L275.6 70.6L274.3 70.5L273.9 70.1L273.9 69.6L274 69.3L273.6 69.3L273.5 69.5L273.5 70.2L273.9 70.7L274.4 70.9L276.5 70.8L277.3 70.5L277.7 69.9ZM258.7 69.7L258.8 70.4L259.2 70.7L259.7 70.9L261.1 70.9L261.2 70.8L262.1 70.7L262.6 70.4L263.2 70.9L264.2 70.9L264.5 70.7L264.8 70.9L265.7 70.9L266.1 70.7L266.4 70.9L267.5 70.9L267.8 70.8L268.1 71L268.9 71L269.1 70.9L269.4 70.6L269.4 69.9L269.2 69.7L268.9 69.5L268.1 69.5L267.9 69.6L267.5 70.4L267.2 70.6L266.6 70.6L266.3 70.2L266.3 69.5L265.8 69.5L265.8 70.2L265.5 70.6L265.1 70.6L264.7 70.4L264.7 69.5L264.3 69.5L264.3 70.2L263.8 70.6L263.5 70.6L263.1 70.4L262.9 69.2L262.6 69.2L262.7 69.6L262.1 70.2L261.4 70.5L261 70.5L260.9 70.6L260.1 70.6L259.4 70.4L259.1 69.9L259.2 69.3L259 69.3ZM268.3 69.8L268.7 69.8L268.9 70L268.9 70.5L268.7 70.7L268.3 70.7L268 70.5L268 70.1ZM275.7 68.9L275.7 69.1L275.9 69.2L275.9 68.9ZM275 68.9L275 69.1L275.2 69.2L275.3 68.9ZM260.9 68.9L260.9 69.1L261.1 69.2L261.2 68.9ZM260.2 68.9L260.2 69.1L260.4 69.2L260.5 68.9ZM283.1 70.9L284 70.9L284.6 70.6L285.1 70.9L286.4 70.9L287.2 70.6L287.7 70.1L288.5 69.7L288.5 69.3L288 69.1L287.1 69L287 68.9L286.1 68.9L286.1 69.2L286.2 69.3L287.3 69.3L287.8 69.6L287 70.2L286.5 70.5L285.4 70.6L284.8 70.1L284.7 69.5L284.2 68.7L283.7 68.7L284.2 69.1L284.4 69.6L284.4 70.1L284 70.5L283.1 70.6ZM266 68.3L266 68.7L266.2 68.7L266.2 68.3ZM287.3 68.1L287.1 68.1L287.1 68.4L287.3 68.3ZM278.7 67L278.7 70.4L279.2 70.9L280.5 70.9L280.7 70.8L281 71L281.8 71L282 70.9L282.2 70.6L282.2 69.9L281.9 69.5L281 69.5L280.8 69.6L280.5 70.2L280.1 70.6L279.5 70.6L279.2 70.4L279.1 70L279.1 67ZM280.9 70.5L280.9 70.2L281.2 69.8L281.6 69.8L281.9 70.1L281.9 70.4L281.6 70.7L281.2 70.7ZM270.4 67L270.4 70.9L270.8 70.9L270.8 67ZM412.2 44.2L412.1 44.5L412.4 44.5L412.4 44.3ZM409.5 42.6L409.3 42.5L409.1 42.6L409.2 42.7L409.2 43.5L409 44L408.7 44.3L408 44.6L407.3 44.7L407.3 45L408.2 44.9L408.9 44.6L409.3 44.2L409.5 43.7ZM400.3 42.5L400.1 42.5L400.2 43.2L400 43.9L399.5 44.4L398.3 44.7L398.3 45L398.7 45L399.5 44.8L400.2 44.3L400.6 43.5L400.6 42.8ZM385.4 42.5L385.1 42.6L385.2 42.7L385.2 43.6L385.1 43.9L384.3 44.5L383.3 44.7L383.3 45L384.2 44.9L385.2 44.4L385.5 43.9L385.5 43.4L385.6 43.3L385.6 42.9ZM371.3 42.5L371.1 42.5L371.2 43.2L371 43.9L370.5 44.4L369.3 44.7L369.3 45L369.7 45L370.5 44.8L371.2 44.3L371.6 43.5L371.6 42.8ZM371.8 45L372.4 45L373.3 44.7L373.7 44.3L374 43.7L375.2 43.7L375.3 43.6L375.6 43.9L376.4 43.9L376.6 43.7L376.8 43.4L376.8 42.8L376.5 42.4L375.6 42.4L375.4 42.5L375.2 43.1L374.8 43.4L374 43.4L373.8 42.7L373.4 42.3L372.9 42.3L372.5 42.5L372.4 42.7L372.4 43.3L372.5 43.5L372.9 43.7L373.4 43.7L373.5 44L372.9 44.5L371.8 44.7ZM375.5 43.3L375.5 43.1L375.8 42.7L376.1 42.7L376.5 43L376.5 43.2L376.1 43.5L375.8 43.5ZM372.7 42.9L372.9 42.7L373.3 42.7L373.5 42.9L373.6 43.3L373.5 43.4L373.2 43.4L372.7 43.1ZM398 42.1L397.7 41.8L397.4 41.7L396.6 41.8L396.3 42.1L396.4 42.8L397 43.1L397.3 43.1L397.5 43.3L397.5 43.5L397.1 43.9L396.4 44.1L395.7 44.1L395.4 44L395.1 43.5L395.3 43L394.9 43L394.8 43.2L394.8 43.7L395.2 44.3L395.8 44.5L396.7 44.4L397.4 44.2L397.8 43.9L397.9 43.2L397.6 42.9L396.9 42.7L396.6 42.4L397 42L397.4 42L397.6 42.1L397.7 42.4L398 42.4ZM387.8 43.7L388.6 43.7L389 43.4L389.3 43.4L389.4 43.6L389.6 43.7L390.6 43.7L390.9 43.6L391.2 43.9L391.9 43.9L392.1 43.7L392.3 43.4L392.3 42.8L392.2 42.6L391.9 42.4L391.2 42.4L390.9 42.6L390.5 43.3L389.9 43.4L389.4 43.1L389.3 42.5L388.9 41.8L388.7 41.6L388.3 41.6L388.8 42.3L388.9 42.9L388.7 43.2L388.3 43.4L387.8 43.4ZM391.4 42.7L391.7 42.7L391.9 42.9L391.9 43.3L391.7 43.5L391.4 43.5L391.1 43.3L391.1 43ZM368.5 41.6L368 41.6L368.5 42L368.7 42.5L368.7 43L368.4 43.3L368 43.4L367.5 43.3L367.5 43.6L367.7 43.7L368.6 43.6L368.8 43.5L369 43.2L369.1 42.6L369 42.3ZM403.4 40.8L403.2 40.8L403.2 41.1L403.4 41ZM410.5 40L410.5 43.3L410.6 43.5L410.9 43.7L412 43.7L412.2 43.6L412.4 43.2L412.4 42.4L412.1 42.4L412.1 43L411.9 43.3L411.2 43.4L410.9 43.2L410.8 43L410.8 40ZM407.4 40L406.4 40.3L405.4 40.9L405.2 41.4L406.3 42.8L406.3 43L406.1 43.3L405.8 43.4L404.8 43.4L404.3 43L404.2 42.4L403.9 41.8L403.5 41.6L403.2 41.6L403.9 42.5L403.9 43L403.2 43.4L402.7 43.4L402.7 43.7L403.5 43.7L404.1 43.4L404.5 43.7L406.1 43.7L406.3 43.6L406.6 43.2L406.6 42.6L406.2 41.9L405.7 41.4L405.7 41.2L406.3 40.8L407.3 40.4L407.4 40.3ZM401.4 40L401.4 43.7L401.8 43.7L401.8 40ZM386.5 40L386.5 43.7L386.8 43.7L386.8 40ZM383.4 40L382.6 40.2L381.4 40.9L381.3 41.2L381.4 41.5L382.3 42.7L382.3 43L382 43.3L381.1 43.6L380.1 43.5L379.7 43.2L379.7 42.6L379.8 42.5L379.4 42.5L379.2 42.9L379.3 43.4L379.7 43.7L380.3 44L381.3 44L382.4 43.5L382.6 43.3L382.7 42.8L382.6 42.5L381.9 41.6L381.7 41.2L382 40.9L383.3 40.4L383.4 40.3ZM407.4 39.3L405.4 40.1L405.4 40.3L407.4 39.6ZM409.1 50L409 50.4L409.3 50.4L409.3 50.2ZM408.4 50L408.3 50.4L408.7 50.4L408.7 50.2ZM397.8 50L397.8 50.4L398 50.4L398 50.2ZM406 48.3L405.7 48.5L405.8 48.6L405.8 49.5L405.7 49.7L404.9 50.4L403.9 50.6L403.9 50.9L404.4 50.9L405.4 50.6L406 49.9L406.2 49.2L406.2 48.8ZM393.2 48.3L392.9 48.5L393 48.6L393 49.5L392.9 49.7L392.1 50.4L391.1 50.6L391.1 50.9L391.6 50.9L392.6 50.6L393.2 49.9L393.4 49.2L393.4 48.8ZM386.8 48.3L386.6 48.3L386.7 49.1L386.5 49.7L385.9 50.3L384.8 50.6L384.8 50.9L385.2 50.9L385.9 50.7L386.7 50.2L387 49.4L387 48.7ZM369.3 48.9L369.6 49.4L370.6 49.4L370.8 49.3L371.2 49.6L372.2 49.6L372.6 49.1L372.6 48.2L372.3 48.2L372.2 49.1L371.9 49.3L371.3 49.3L371 49L370.9 47.9L370.8 47.8L370.6 47.8L370.4 48.1L370.1 48.1L369.6 48.3ZM370.5 48.3L370.7 49L370.3 49.2L370 49.2L369.7 49L369.7 48.8L370.1 48.5ZM393.6 50.9L394.7 50.8L395.1 50.6L395.5 50.2L395.9 49.6L397.1 49.6L397.9 49.3L398.3 48.9L398.4 48.9L398.9 49.4L399.3 49.6L400.3 49.6L400.5 49.5L400.8 49.7L401.5 49.7L401.7 49.6L401.9 49.3L401.9 48.7L401.6 48.2L400.8 48.2L400.6 48.3L400.3 49L400.1 49.2L399.5 49.3L398.9 48.8L399.1 48.5L399.1 48.1L399 48L398.2 47.8L397.8 47.8L397.7 47.7L396.8 47.7L396.8 48L396.9 48.1L398.1 48.1L398.5 48.3L397.3 49.2L395.9 49.3L395.7 48.6L395.2 48.1L394.8 48.1L394.4 48.3L394.3 48.6L394.3 49.2L394.4 49.4L394.8 49.6L395.2 49.6L395.3 49.8L394.8 50.4L393.6 50.6ZM400.7 49.2L400.7 49L401 48.6L401.3 48.6L401.6 48.9L401.6 49.1L401.3 49.4L401 49.4ZM394.6 48.8L394.8 48.6L395.1 48.6L395.3 48.8L395.4 49.2L395.3 49.3L395 49.3L394.6 49ZM388.7 47.5L388.3 47.5L388.8 48.1L388.9 48.8L388.7 49.1L388.3 49.3L387.8 49.2L387.8 49.5L387.9 49.6L388.8 49.5L389.3 49.1L389.3 48.2ZM405.7 47.4L405.7 47.6L405.9 47.7L406 47.4ZM392.9 47.4L392.9 47.6L393.1 47.7L393.2 47.4ZM410.3 47.2L410.3 47.5L410.5 47.5L410.5 47.2ZM372.4 47.2L372.3 47.5L372.6 47.5L372.6 47.3ZM407.1 45.9L407.1 49.1L407.5 49.6L408.6 49.6L408.7 49.5L410 49.6L410.3 49.5L410.6 49L410.6 48.2L410.2 48.2L410.2 49L409.8 49.3L409.4 49.3L409.1 49.1L409 48.9L409 48.2L408.7 48.2L408.7 48.9L408.4 49.2L407.8 49.3L407.5 49.1L407.4 48.8L407.4 45.9ZM378 45.9L378 49.1L378.4 49.6L379.5 49.6L379.9 49.3L380.3 49.6L380.9 49.6L381.3 49.3L381.8 49.6L382.2 49.6L382.6 49.3L382.7 49.1L382.7 47.8L382.6 47.7L382.4 47.8L382.4 48.9L382.3 49.1L382 49.3L381.7 49.1L381.5 48.7L381.5 48.1L381.1 48.1L381 48.9L380.9 49.1L380.5 49.3L380.1 48.8L380.1 48.1L379.8 48.1L379.8 48.6L379.4 49.2L379.1 49.3L378.5 49.2L378.3 48.8L378.3 45.9ZM373.7 45.9L373.7 49.2L373.8 49.4L374.1 49.6L375.3 49.6L375.5 49.5L375.8 49.7L376.6 49.7L377 49.2L377 48.8L376.8 48.3L376.6 48.2L375.8 48.2L375.4 48.6L375.3 49L375 49.3L374.3 49.3L374 49L374 45.9ZM376 48.6L376.4 48.6L376.6 48.8L376.6 49.2L376.4 49.4L376 49.4L375.7 49.2L375.7 48.9ZM394.2 54.3L393.7 54.3L393.8 54.4L393.7 54.9L393.4 55.2L392.8 55.4L392.2 55.4L392.1 55.6L391 55.4L390.5 55.1L390.5 54.6L390.6 54.4L390.3 54.4L390.2 54.5L390.1 55L390.2 55.3L390.5 55.7L391.1 55.9L393 55.8L393.7 55.4L394.1 55.1ZM392.5 54L392.2 54L392.2 54.3L392.5 54.2ZM391.8 54L391.6 54L391.6 54.3L391.8 54.2ZM368.5 54L368.5 54.2L368.7 54.3L368.8 54ZM367.8 54L367.8 54.2L368 54.3L368.1 54ZM394.9 55.9L395.9 55.9L396.4 55.6L396.8 55.9L397.9 55.9L398 55.8L398.3 56L399.1 56L399.5 55.7L399.5 54.8L399.2 54.5L398.3 54.5L398 54.8L397.9 55.2L397.6 55.6L397 55.6L396.6 55.2L396.5 54.6L396 53.7L395.4 53.7L396 54.3L396.2 55L395.5 55.6L394.9 55.6ZM398.4 54.9L398.9 54.8L399.2 55.1L399.2 55.4L399 55.7L398.3 55.6L398.2 55.3ZM406.4 54.1L406.3 53.8L405.9 53.5L405.5 53.5L404.9 54L404.9 54.6L405.1 54.9L405.4 55L406 54.9L406.1 55L405.5 55.6L404.6 55.7L404.5 55.8L403.2 55.8L402.7 55.6L402.4 55.2L402.5 54.6L402.2 54.6L402 54.7L402 55.4L402.3 55.8L403 56.1L404.5 56.1L404.6 56L405.6 55.9L406.3 55.3L406.4 55ZM405.5 54L405.8 54L406.1 54.3L405.9 54.7L405.6 54.7L405.2 54.4ZM411.6 53.4L411.5 53.7L411.9 53.7L411.9 53.5ZM373.6 54.7L373.4 54.7L372.7 55L372.4 55L372 54.5L372.1 54.1L372.4 53.7L373 53.6L373 53.3L372.6 53.3L372.5 53.4L372.2 53.4L371.8 53.8L371.7 54.6L371.8 54.9L372.2 55.2L371.9 55.4L371.4 55.4L371.3 55.6L370.7 55.4L370.5 55.1L370.5 54.5L370.4 54.3L370.1 54.3L370.2 54.6L369.6 55.2L369 55.4L368.6 55.4L368.5 55.6L367.3 55.4L367.1 55.3L366.8 54.9L366.9 54.4L366.5 54.5L366.4 55.1L366.9 55.7L367.4 55.9L368.7 55.9L368.8 55.8L369.6 55.7L370.1 55.3L370.7 55.9L371.7 55.9L373.6 55ZM405.6 52.7L405.5 53L405.8 53L405.8 52.8ZM386.7 52.2L385.2 54.5L385.2 55L386.8 55L386.9 55.1L386.9 55.9L387.2 55.9L387.2 55.1L387.3 55L387.8 55L387.8 54.7L387.3 54.7L387.2 54.6L387.2 52.2ZM386.8 52.7L386.9 52.8L386.9 54.6L386.8 54.7L385.6 54.7L385.5 54.6ZM382.1 52.4L382.1 52.8L382.6 52.6L383.5 52.6L383.9 53.1L383.9 53.4L383.6 54L382.1 55.4L382.1 55.9L384.3 55.9L384.3 55.6L382.7 55.6L382.6 55.4L384.1 53.8L384.3 53.3L384.1 52.6L383.6 52.2L382.4 52.2ZM413.5 54.7L413.1 54.3L412.2 54.2L411.5 54.5L410.9 55.1L410.8 55L410.8 52.1L410.5 52.1L410.5 55.3L410.3 55.6L409.5 55.6L409.1 55.2L409 54.6L408.6 54.6L408.7 54.7L408.7 55.7L408.4 56.1L407.8 56.6L406.7 56.8L406.7 57.2L407.4 57.2L408.3 56.7L408.8 56.3L409.1 55.8L409.3 55.9L412.3 55.9L412.4 55.8L412.7 55.8L413.4 55.3ZM413 54.7L413 55L412.7 55.3L412 55.4L411.9 55.6L411.3 55.6L411.2 55.4L411.9 54.7L412.3 54.5L412.7 54.5ZM374.6 52.1L374.6 55.2L375 55.8L375.2 55.9L376.2 55.9L376.7 55.6L377 55.9L377.6 55.9L377.8 55.8L378.1 55.4L378.3 55.8L378.9 55.9L379.4 55.4L379.5 55.1L379.5 54.1L379.2 54L379.1 54.1L379.1 55.2L378.8 55.6L378.7 55.6L378.3 55L378.3 54.4L377.8 54.4L377.8 55L377.4 55.6L377 55.3L376.8 54.8L376.8 54.4L376.5 54.4L376.5 55.1L375.9 55.6L375.4 55.6L375.1 55.2L375.1 52.1ZM336.3 99.5L336 99.6L336.1 99.7L336.1 100.7L336 100.9L335.2 101.6L334.1 101.8L334.1 102.2L335.1 102L336.1 101.5L336.4 100.9L336.4 100.5L336.5 100.4L336.5 100ZM326.7 99.4L326.4 99.4L326.4 100.1L326.2 100.4L326 100.5L325.2 100.5L325.1 100.4L325.2 100.1L325.2 99.4L325.1 99.2L324.8 99L324.2 99L323.8 99.3L323.9 100.4L323.8 100.5L322.9 100.5L322.6 100.3L322.6 100L322.7 99.8L322.6 99.7L322.6 99.4L322.3 99.2L321.3 99.1L320.6 99.5L319.9 100.2L319.7 99.8L319.4 99.8L319.5 100L319.5 100.9L319.4 101.3L319 101.6L318.5 101.8L318.1 101.8L317.5 101.5L317.4 100.9L317.5 100.8L317.5 100.4L317.7 100.1L317.3 100.1L317 100.7L317 101.5L317.5 102L318.8 102.2L319.2 101.9L319.7 101.5L319.9 100.7L320.1 100.8L321.5 100.8L321.6 100.7L322.3 100.6L322.7 100.8L324.1 100.8L324.2 100.7L326.3 100.8L326.5 100.7L326.7 100.3ZM322.2 99.7L322.2 100L321.6 100.4L321.1 100.4L321 100.5L320.4 100.5L320.2 100.4L321 99.6L321.5 99.4L321.9 99.4ZM324.5 99.3L324.9 99.6L324.8 100.1L324.4 100.3L324.2 100.1L324.1 99.6ZM333.8 98.9L333.4 98.4L332.8 98.4L332.4 98.7L332.2 99.1L332.4 99.6L332.8 100L333.2 100L333.4 100.1L333.1 100.4L332.8 100.4L332.7 100.5L331.3 100.5L330.6 100.1L331.1 99.6L331.1 99.3L330.7 99L329.9 99L329.5 99.3L329.5 99.6L329.8 100L329.4 100.5L329.4 101.4L329.8 101.9L330.5 102.2L331.5 102.2L332 101.9L332 101.6L331.3 101.8L330.5 101.8L330 101.6L329.7 101.3L329.7 100.7L330.2 100.3L331.1 100.8L333 100.8L333.4 100.7L333.7 100.4L333.9 99.7L333.9 99.1ZM333.2 100L333.4 99.8L333.5 100L333.4 100.1ZM330 99.6L330.2 99.3L330.5 99.3L330.6 99.4L330.4 99.7ZM332.7 99.1L332.9 98.9L333.2 98.9L333.5 99.1L333.5 99.4L333.2 99.6L332.9 99.6L332.7 99.4ZM326.5 98.3L326.4 98.6L326.7 98.6L326.7 98.4ZM324.6 98L324.6 98.2L324.9 98.3L325 98ZM324 98L324 98.2L324.2 98.3L324.3 98ZM333 97.5L332.9 97.9L333.2 97.9L333.2 97.6ZM342.7 105.5L342.3 105.5L342.2 106.4L341.9 106.6L341.2 106.6L341 106.3L341 105.9L340.7 105.5L340.5 105.4L339.8 105.5L339.5 105.9L339.6 106.6L339.8 106.8L340.6 106.9L340.7 107L340.2 107.6L339.8 107.8L338.8 107.9L338.8 108.2L339.6 108.2L340.2 108L340.8 107.6L341.1 106.9L342.2 106.9L342.7 106.4ZM339.9 105.9L340 105.8L340.5 105.8L340.7 106.1L340.7 106.5L340.6 106.6L340.1 106.5L339.9 106.3ZM318.6 105.6L318.5 105.4L318.1 105.1L317.4 105.1L316.8 105.5L316 106.3L315.8 106L315.8 105.7L315.4 105.7L315.3 106.3L314.9 106.6L314.5 106.5L314 105.8L313.5 105.7L313.2 105.8L312.9 106.3L313.4 106.9L312.8 107.2L311.6 107.2L311.4 107.1L310.9 106.7L311.2 106L310.8 106L310.7 106.1L310.6 106.8L310.7 107.1L311.2 107.5L311.5 107.6L312.8 107.6L313.4 107.4L313.7 107L313.7 106.6L313.4 106.4L313.6 106L314.1 106.7L314.5 106.9L315.1 106.9L315.6 106.6L316.1 106.9L317.4 106.9L318.3 106.6L318.6 106.3ZM318.3 105.8L318.3 105.9L317.7 106.5L317.1 106.5L317 106.6L316.4 106.6L316.3 106.5L316.4 106.3L317.2 105.6L317.9 105.5ZM316 104.5L315.9 104.8L316.2 104.8L316.2 104.6ZM342.8 104.4L342.7 104.7L343 104.7L343 104.5ZM342.1 104.4L342 104.7L342.3 104.7L342.3 104.5ZM324.5 104.4L324.4 104.7L324.7 104.7L324.7 104.5ZM323.8 104.4L323.7 104.7L324 104.7L324 104.5ZM322.5 104L322.3 104L322.3 104.4L322.5 104.3ZM321.6 104L321.6 104.3L321.8 104.4L321.8 104ZM330 106.9L332.9 106.9L333.4 106.7L333.7 106.7L334.1 106.9L335.1 106.9L335.5 106.6L335.8 106.9L336.5 106.9L336.7 106.8L336.9 106.5L337.4 106.9L337.8 106.9L338 106.8L338.5 106.3L338.5 105L338.1 104.9L338.1 106L338 106.4L337.6 106.6L337.2 106L337.2 105.4L336.8 105.4L336.7 105.6L336.7 106.1L336.3 106.6L335.9 106.5L335.7 106.1L335.7 105.4L335.3 105.4L335.3 106.1L334.9 106.5L334.3 106.6L334 106.4L334 106L334.1 105.9L334 105.8L334 105.5L333.4 105.1L332.7 105.1L332.1 105.5L331.4 106.1L331.3 106L331.3 103.1L330.9 103.1L330.9 106.5L330.8 106.6L330 106.6ZM333.6 105.8L333.6 106L333 106.5L332.5 106.5L332.4 106.6L331.8 106.6L331.6 106.5L332.4 105.7L332.9 105.5L333.2 105.5ZM319.6 103.1L319.6 106.3L319.7 106.6L320.2 106.9L321.7 106.9L321.8 106.8L323.9 106.9L324.2 106.7L324.5 106.9L325.7 106.9L325.8 106.8L326.1 107L326.9 107L327.1 106.9L327.3 106.6L327.3 105.9L327 105.5L326.1 105.5L325.9 105.6L325.7 106.3L325.3 106.6L324.6 106.5L324.4 106.3L324.4 105.5L324 105.5L324 106L323.8 106.5L323.6 106.6L322.8 106.6L322.6 106.4L322.8 106.1L322.8 105.5L322.7 105.3L322.4 105L321.7 105L321.4 105.4L321.3 105.9L321.5 106.4L321.3 106.6L320.4 106.6L320.1 106.3L320.1 103.1ZM326 106.5L326 106.3L326.4 105.8L326.7 105.8L327 106.1L327 106.4L326.7 106.7L326.4 106.7ZM322.2 105.4L322.5 105.8L322.1 106.4L321.7 106L321.7 105.7ZM512.8 52.4L512.5 52.3L512.3 52.4L512.4 52.5L512.4 53.5L512.2 54L511.8 54.3L511.1 54.7L510.3 54.8L510.3 55.2L511.3 55L512.1 54.7L512.5 54.2L512.8 53.7ZM502.3 52.2L501.9 52.2L501.9 52.9L501.8 53.1L501.4 53.4L500.7 53.4L500.5 53L500.5 52.6L500.1 52.2L499.9 52L499.1 52.2L498.8 52.6L498.9 53.4L499.1 53.6L500 53.7L500.1 53.8L499.6 54.4L499.1 54.7L498.1 54.8L498.1 55.2L498.9 55.2L499.6 54.9L500.2 54.4L500.6 53.7L501.8 53.7L502 53.6L502.3 53.1ZM499.3 52.6L499.4 52.5L499.9 52.5L500.1 52.9L500.1 53.2L500 53.4L499.5 53.2L499.3 53ZM509.9 51.6L509.3 51.1L508.8 51.1L508.4 51.4L508.2 51.7L508.4 52.4L508.8 52.8L509.2 52.8L509.3 52.6L509.6 52.8L509.1 53.2L508.7 53.4L507.2 53.4L506.6 53.1L506.4 52.9L506.9 52.5L507 52.3L506.9 51.9L506.6 51.7L505.6 51.7L505.2 51.9L505.2 52.4L505.5 52.9L505.1 53.2L505 53.6L505.1 54.4L505.6 54.9L506.2 55.2L507.3 55.2L508 54.9L508 54.6L507.2 54.8L506 54.7L505.5 54.2L505.5 53.6L505.6 53.4L506 53.1L506.9 53.7L509.1 53.7L509.6 53.5L509.9 52.9L509.9 52.4L510 52.3ZM505.7 52.3L506 52L506.3 52L506.4 52.2L506.2 52.5L506 52.5ZM508.7 51.8L509 51.6L509.3 51.6L509.6 51.8L509.6 52.2L509.3 52.4L509 52.4L508.7 52.2ZM496.2 51.7L496 51.4L495.6 51.1L495.1 51.1L494.5 51.6L494.5 52.3L494.6 52.5L495 52.8L495.4 52.8L495.6 52.6L495.7 52.8L495.3 53.2L495 53.4L493.6 53.4L493.3 53.1L493.3 52.8L493.4 52.6L493.3 52.5L493.3 52.2L492.7 51.8L492 51.8L491.5 52L490.4 53L490.2 52.6L489.8 52.6L489.9 52.8L489.9 53.8L489.8 54.2L489.5 54.6L488.9 54.8L488.5 54.8L487.8 54.4L487.7 53.8L487.8 53.7L487.8 53.2L488 52.9L487.5 52.9L487.3 53.6L487.3 54.4L487.8 55L489.2 55.2L489.7 54.9L490.2 54.4L490.4 53.6L490.6 53.7L492.1 53.7L492.2 53.6L493 53.5L493.4 53.7L495.2 53.7L495.8 53.5L496.2 52.8ZM492.9 52.5L492.9 52.8L492.2 53.2L491.7 53.2L491.6 53.4L490.9 53.4L490.8 53.2L491.6 52.4L492.1 52.2L492.6 52.2ZM495.1 51.6L495.6 51.6L495.8 51.9L495.6 52.4L495.2 52.4L494.8 51.9ZM502 51L501.9 51.3L502.3 51.3L502.3 51.1ZM509.1 50.1L509 50.5L509.3 50.5L509.3 50.2ZM495.6 50.1L495.6 50.5L495.8 50.5L495.8 50.2ZM495.1 50.1L494.8 50.2L494.8 50.5L495.1 50.5ZM497.2 49.5L497.2 53.7L497.7 53.7L497.7 49.5ZM396 204.6L396 204.9L396.2 204.9L396.2 204.7ZM395.6 204.6L395.4 204.7L395.4 204.9L395.6 204.9ZM392.7 204.6L392.6 204.9L392.9 204.9L392.9 204.7ZM379.6 204.6L379.5 204.9L379.8 204.9L379.8 204.7ZM378.9 204.6L378.8 204.9L379.1 204.9L379.1 204.7ZM401.1 202.8L400.8 202.9L400.9 203L400.9 204L400.8 204.2L400 204.9L398.9 205.1L398.9 205.5L399.9 205.3L400.9 204.8L401.2 204.2L401.2 203.8L401.4 203.7L401.4 203.2ZM398.7 202.9L398.5 202.8L398.2 202.9L398.4 203.1L398.4 203.9L398.1 204.3L397.1 205L396.4 205.1L396.4 205.5L397.4 205.3L398 205L398.5 204.6L398.7 204.1ZM392.9 202.7L392.6 202.7L392.5 203.6L392.1 203.8L391.9 203.8L391.1 202.9L390.5 203L390.2 203.3L390.2 203.7L390.6 204.1L390 204.5L388.9 204.5L388.6 204.3L388.2 204L388.2 203.5L388.4 203.2L388 203.2L387.9 203.3L387.9 204.2L388.7 204.8L390 204.8L390.8 204.5L391 204.1L391 203.9L390.7 203.6L390.8 203.2L390.9 203.2L391.7 204.1L392.5 204.1L392.9 203.6ZM383.5 202.7L382.8 202.6L382.2 203L382.2 203.7L382.8 204.1L383.2 204.1L383.4 204.3L382.8 204.9L381.6 205.1L381.6 205.5L382.8 205.3L383.6 204.8L383.8 204.3L383.8 203.1ZM382.8 203L383.1 203L383.5 203.3L383.5 203.7L383.4 203.8L382.8 203.7L382.6 203.3ZM398.5 201.8L398.2 201.8L398.2 202.1L398.5 202ZM402.2 200.2L402.2 204.1L402.6 204.1L402.6 200.2ZM394 200.2L394 203.7L394.1 203.9L394.5 204.1L395.5 204.1L395.9 203.8L396 202.7L395.6 202.7L395.6 203.5L395.2 203.8L394.7 203.8L394.4 203.5L394.4 200.2ZM384.9 200.2L384.9 204.1L385.2 204.1L385.2 200.2ZM381.1 200.2L380.8 200.2L380.8 203.5L380.4 203.8L379.7 203.7L379.5 203.5L379.5 202.7L379.1 202.7L379 203.6L378.7 203.8L378.1 203.8L377.8 203.5L377.7 202.3L377.6 202.2L377.4 202.2L377.1 202.6L376.8 202.6L376.4 202.8L376 203.3L376.1 203.7L376.4 203.9L377.4 203.9L377.6 203.8L378 204.1L379 204.1L379.2 203.9L379.6 204.1L380.7 204.1L380.9 204L381.1 203.7ZM377.2 202.8L377.5 203.5L377 203.7L376.7 203.7L376.5 203.5L376.5 203.2L376.8 202.9ZM403.2 211.5L403.2 211.8L403.4 211.8L403.4 211.5ZM403.5 210.8L403.5 211.1L403.7 211.1L403.7 210.9ZM403.1 210.8L402.9 210.9L402.9 211.1L403.1 211.1ZM403.5 209L403.1 209L403.1 209.8L402.7 210.1L402.2 210.1L401.9 209.8L401.7 209.2L401.6 209.1L401.3 209.1L401.4 209.4L401.4 210.2L401.3 210.5L400.6 211.1L400.2 211.4L399.4 211.5L399.4 211.8L400.4 211.7L401.1 211.4L401.5 210.9L401.7 210.4L402 210.5L403 210.5L403.2 210.4L403.5 209.8ZM398.7 209L398.1 208.9L397.9 209L397.5 209.5L397.5 209.9L397.9 210.4L398.6 210.5L398.7 210.6L398.5 210.9L397.9 211.4L396.9 211.5L396.9 211.8L398.1 211.7L398.5 211.5L399 211L399.2 209.9L399.1 209.8L399.1 209.5ZM398 209.5L398.1 209.4L398.5 209.4L398.7 209.7L398.7 210L398.6 210.1L398.2 210L398 209.8ZM387.7 209L387.3 209L387.3 209.8L387 210.1L386.3 210.1L386.1 209.9L386.1 209.5L385.7 209L385.5 208.9L384.9 209L384.5 209.4L384.5 210L385.1 210.5L385.5 210.5L385.6 210.7L385.1 211.2L383.9 211.5L383.9 211.8L385.1 211.7L385.7 211.2L386.2 210.5L387.2 210.5L387.4 210.4L387.7 209.8ZM385.1 209.4L385.5 209.4L385.7 209.7L385.7 210L385.6 210.1L385.1 210L384.9 209.7ZM390.4 209.1L390.4 210.1L390.6 210.5L390.9 210.6L391.5 210.6L392.2 210.2L392.3 210L392.3 209.5L391.9 208.9L391.4 208.7L390.7 208.7ZM391.1 209L391.6 209.2L392 209.7L391.9 210L391.5 210.2L391.1 210.2L390.7 209.9L390.7 209.4ZM393.6 208.2L394.1 208.7L394.3 209.1L394.3 209.7L394 210L393.1 210.1L393.1 210.5L394 210.5L394.5 210.1L395 210.5L396 210.5L396.4 210.1L396.5 209L396.1 209L396.1 209.8L395.7 210.1L395.3 210.1L394.7 209.7L394.7 209.2L394.4 208.6L394.1 208.2ZM396.2 207.9L396.2 208.2L396.4 208.2L396.4 207.9ZM387.7 207.9L387.7 208.2L388 208.2L388 208ZM387.3 207.9L387.1 208L387.1 208.2L387.3 208.2ZM374.9 210.5L377.7 210.5L378.3 210.2L378.7 210.2L379.1 210.5L380.1 210.5L380.5 210.1L380.9 210.5L381.5 210.5L381.7 210.4L382 210L382.2 210.4L382.9 210.5L383.4 210L383.5 209.7L383.5 208.6L383.4 208.5L383.1 208.6L383.1 209.8L382.7 210.1L382.6 210.1L382.2 209.6L382.2 208.9L381.7 208.9L381.7 209.6L381.3 210.1L380.9 209.9L380.6 209.4L380.6 208.9L380.3 208.9L380.3 209.7L380 210L379.3 210.1L379 209.9L379 209.1L378.9 208.9L378.4 208.7L377.4 208.8L376.3 209.7L376.2 209.6L376.2 206.6L375.9 206.6L375.9 210L375.7 210.1L374.9 210.1ZM378.6 209.4L378.6 209.5L378 210L377.4 210L377.3 210.1L376.7 210.1L376.6 210L376.7 209.8L377.5 209.1L378.2 209ZM391.2 215.5L391 215.5L391.1 216.3L390.9 216.9L390.3 217.5L389.1 217.8L389.1 218.2L389.5 218.2L390.3 217.9L391 217.5L391.4 216.6L391.4 215.8ZM384.1 215L383.6 215L383.9 215.5L383.9 216.5L383.2 217.3L382.9 217.3L382.7 217.4L382.1 217.3L381.6 216.8L381.6 215.9L381.7 215.7L381.3 215.7L381.3 216.3L381.2 216.4L381.3 217L381.7 217.5L382.2 217.7L383 217.7L383.7 217.4L384 217.2L384.3 216.4L384.3 215.7ZM390.9 214.5L390.9 214.7L391.1 214.8L391.2 214.5ZM382.6 214.5L382.4 214.5L382.4 214.8L382.6 214.7ZM392.3 212.9L392.3 216.2L392.6 216.7L392.9 216.8L394 216.8L394.4 216.5L394.7 216.8L395.4 216.8L395.6 216.7L395.9 216.4L396.1 216.7L396.7 216.8L397.3 216.4L397.4 216L397.4 214.9L397.1 214.8L397 214.9L397 216.2L396.6 216.5L396.5 216.5L396.1 215.9L396.1 215.3L395.6 215.3L395.6 215.9L395.2 216.5L394.7 216.3L394.5 215.7L394.5 215.3L394.2 215.3L394.2 216L393.6 216.5L393.1 216.5L392.7 216.2L392.7 212.9ZM385.3 212.9L385.3 216.4L385.4 216.6L385.7 216.8L387 216.8L387.1 216.7L387.5 216.9L388.3 216.9L388.5 216.8L388.7 216.5L388.7 215.8L388.6 215.6L388.3 215.4L387.5 215.4L387.3 215.5L387 216.3L386.6 216.5L386.1 216.5L385.7 216.3L385.6 216L385.6 212.9ZM387.7 215.7L388.1 215.7L388.3 215.9L388.3 216.4L388.1 216.6L387.7 216.6L387.4 216.4L387.4 216ZM518.3 205.7L518.1 205.7L518.2 206.4L518 207.1L517.5 207.6L516.3 207.9L516.3 208.3L516.7 208.3L517.5 208L518.2 207.5L518.6 206.8L518.6 206ZM504.8 205.6L504.3 205.6L504.3 206.3L503.9 206.7L503.1 206.7L503 206.5L503.3 205.9L503.1 205.8L503.1 205.5L502.7 205.2L502.2 205.2L502 205.3L501.8 205.6L501.9 206.5L501.8 206.7L500.9 206.7L500.6 206.4L500.7 205.8L500.4 205.4L499.4 205.3L498.6 205.7L498.1 206.3L497.9 206.2L497.9 206L497.6 206L497.6 207.2L497.1 207.7L496.6 207.9L496 207.8L495.7 207.5L495.7 206.7L495.9 206.2L495.4 206.2L495.2 207L495.2 207.4L495.4 207.9L495.7 208.2L496.9 208.3L497.4 208L497.8 207.6L498 206.9L498.2 207L499.5 207L499.6 206.9L500.4 206.8L500.7 207L502.1 207L502.2 206.9L504.2 207L504.4 206.9L504.6 206.5ZM500.3 205.8L500.3 206.1L499.9 206.4L499.2 206.5L499.1 206.7L498.5 206.7L498.4 206.5L499 205.9L499.5 205.6L499.9 205.6ZM502.4 205.5L502.8 205.8L502.8 206.1L502.6 206.3L502.3 206.3L502.1 205.9ZM504.4 204.5L504.4 204.8L504.6 204.8L504.6 204.6ZM502.6 204.2L502.6 204.4L502.8 204.5L502.9 204.2ZM502 204.2L502 204.4L502.2 204.5L502.3 204.2ZM519.4 203.2L519.4 207L519.8 207L519.8 203.2ZM511.1 203.2L511.1 206.3L511.4 206.9L511.6 207L512.7 207L513.1 206.7L513.4 207L514.1 207L514.3 206.9L514.5 206.5L514.7 206.9L515.3 207L515.9 206.5L516 206.2L516 205.2L515.7 205.1L515.6 205.2L515.6 206.3L515.2 206.7L515.1 206.7L514.7 206.1L514.7 205.5L514.3 205.5L514.3 206.1L513.8 206.7L513.4 206.4L513.2 205.9L513.2 205.5L512.9 205.5L512.9 206.2L512.4 206.7L511.8 206.7L511.5 206.3L511.5 203.2ZM510.1 203.2L509.7 203.2L509.7 206.7L509.6 206.9L508.9 207.4L508.2 207.5L507.6 207.1L507.6 206.5L507.7 206.4L507.5 206.3L507.3 206.4L507.2 206.8L507.3 207.3L507.5 207.6L508 207.8L508.7 207.8L508.8 207.7L509.1 207.7L509.8 207.3L510.1 206.3ZM489.6 203.2L489.6 206.5L489.7 206.8L490 207L491.3 207L491.5 206.9L492 207.2L492.7 207.1L492.9 206.9L492.9 206.2L492.7 205.8L491.9 205.1L491 204.6L491 204.9L491.3 205.2L490.9 205.6L491 206.5L490.9 206.7L490.2 206.7L489.9 206.3L489.9 203.2ZM492.2 205.9L492.5 206.1L492.5 206.7L492.3 206.9L492 206.9L491.9 206.7ZM491.5 205.5L491.7 205.5L491.9 205.7L491.9 205.9L491.6 206.4L491.3 206L491.3 205.7ZM515.5 214.2L515.4 214.5L515.7 214.5L515.7 214.3ZM501.5 212.5L501.4 212.2L500.9 212L500.3 212L499.7 212.4L498.9 213.1L498.7 212.9L498.7 212.6L498.4 212.6L498.3 213.1L497.8 213.4L497.4 213.3L497 212.7L496.5 212.6L496.2 212.7L495.9 213.1L496.3 213.7L495.8 214.1L494.6 214.1L494.4 214L494 213.5L494.2 212.9L493.9 212.9L493.8 213L493.7 213.6L493.8 214L494.2 214.3L494.5 214.4L495.8 214.4L496.3 214.2L496.7 213.9L496.7 213.4L496.3 213.2L496.6 212.9L497.1 213.5L497.4 213.7L498.1 213.7L498.5 213.4L499 213.7L500.3 213.7L501.2 213.4L501.5 213.1ZM501.2 212.7L501.2 212.8L500.5 213.3L500 213.3L499.9 213.4L499.3 213.4L499.2 213.3L499.3 213.1L500.1 212.5L500.7 212.4ZM512.5 212.8L512.5 213.3L512.8 213.5L513.7 213.5L513.9 213.4L514.3 213.7L515.3 213.7L515.7 213.2L515.7 212.4L515.4 212.4L515.4 212.9L515.2 213.3L515 213.4L514.3 213.3L514 212.7L514 212L513.9 211.9L513.7 211.9L513.5 212.2L512.9 212.4ZM513.6 212.5L513.8 213.1L513.4 213.3L513 213.3L512.8 213.1L512.8 212.9L513.2 212.6ZM498.9 211.4L498.8 211.7L499.1 211.7L499.1 211.5ZM507.2 211.3L507.1 211.6L507.4 211.6L507.4 211.4ZM506.5 211.3L506.4 211.6L506.7 211.6L506.7 211.4ZM505.2 211L505 211L505 211.3L505.2 211.2ZM504.4 211L504.4 211.2L504.6 211.3L504.6 211ZM502.4 210L502.4 213.1L502.6 213.4L503 213.7L504.5 213.7L504.6 213.6L506.6 213.7L506.8 213.5L507.2 213.7L508.3 213.7L508.4 213.6L508.8 213.9L509.5 213.9L509.7 213.7L509.9 213.4L509.9 212.8L509.6 212.4L508.8 212.4L508.6 212.5L508.3 213.1L507.9 213.4L507.3 213.3L507.1 213.1L507.1 212.4L506.7 212.4L506.7 212.9L506.5 213.3L506.3 213.4L505.6 213.4L505.3 213.2L505.6 213L505.6 212.4L505.4 212.1L505.1 211.9L504.5 211.9L504.2 212.2L504.1 212.8L504.3 213.2L504.1 213.4L503.2 213.4L502.9 213.1L502.9 210ZM508.7 213.3L508.7 213.1L509 212.7L509.3 212.7L509.6 213L509.6 213.2L509.3 213.5L509 213.5ZM504.9 212.2L505.2 212.7L504.8 213.2L504.5 212.9L504.5 212.6ZM589.8 206.5L589.8 206.8L590 206.8L590 206.6ZM589.3 206.5L589.1 206.6L589.1 206.8L589.3 206.8ZM586.2 206.5L586.2 206.8L586.4 206.8L586.4 206.5ZM570.8 206.5L570.7 206.8L571 206.8L571 206.6ZM570.1 206.5L570 206.8L570.3 206.8L570.3 206.6ZM595.3 204.7L595.1 204.6L594.9 204.7L595 204.8L595 205.8L594.7 206.2L594.4 206.6L593.7 206.9L592.9 207L592.9 207.4L593.9 207.3L594.6 206.9L595.1 206.5L595.3 206ZM592.4 204.6L592.2 204.6L592.2 204.9L592.3 205.1L592.2 206L591.5 206.7L591 206.9L590.2 207L590.2 207.4L590.6 207.4L591.5 207.2L592.3 206.6L592.6 205.9L592.6 204.8ZM586.5 204.5L586.1 204.5L586.1 205.3L585.7 205.6L585.5 205.6L584.6 204.7L583.9 204.8L583.7 205.2L583.7 205.5L584.1 206L583.5 206.3L582.3 206.3L582 206.2L581.6 205.9L581.6 205.3L581.7 205.1L581.4 205.1L581.2 205.2L581.2 206.1L582.1 206.7L583.5 206.7L584.3 206.3L584.5 206L584.5 205.8L584.2 205.4L584.3 205.1L584.4 205.1L585.2 206L585.9 206L586.4 205.6ZM575.1 204.5L574.8 204.5L574.8 205.2L574.7 205.4L574.3 205.6L573.6 205.6L573.4 205.3L573.4 204.9L573 204.5L572.8 204.3L572.1 204.5L571.7 204.9L571.9 205.6L572.1 205.9L572.9 206L573 206.1L572.6 206.7L572.1 206.9L571 207L571 207.4L571.9 207.4L572.6 207.2L573.2 206.7L573.5 206L574.7 206L574.9 205.9L575.1 205.4ZM572.2 204.9L572.3 204.8L572.8 204.8L573 205.2L573 205.5L572.9 205.6L572.4 205.5L572.2 205.3ZM567.1 205.2L567.4 205.8L568.5 205.8L568.7 205.6L569.2 206L570.2 206L570.7 205.4L570.7 204.5L570.3 204.5L570.2 205.4L569.9 205.6L569.3 205.6L568.9 205.3L568.8 204.1L568.7 204L568.5 204L568.2 204.3L567.9 204.3L567.4 204.6ZM568.3 204.6L568.6 205.3L568.1 205.5L567.8 205.5L567.5 205.3L567.5 205.1L567.9 204.7ZM592 203.5L592 203.8L592.3 203.9L592.4 203.5ZM578.5 203.3L578.4 203.6L578.8 203.6L578.8 203.4ZM577.8 203.3L577.7 203.6L578.1 203.6L578.1 203.4ZM574.9 203.3L574.8 203.6L575.1 203.6L575.1 203.4ZM578.2 202.6L578.1 202.9L578.4 202.9L578.4 202.7ZM596.4 201.9L596.4 206L596.7 206L596.7 201.9ZM587.6 201.9L587.6 205.3L587.7 205.6L588.2 206L589.2 206L589.7 205.6L589.8 204.5L589.3 204.5L589.3 205.3L589 205.6L588.4 205.6L588.1 205.3L588.1 201.9ZM576.3 201.9L576.3 205.5L576.4 205.8L576.8 206L578 206L578.2 205.9L578.4 205.4L578.4 204.5L578.1 204.5L578.1 205.2L577.8 205.5L577.1 205.6L576.8 205.4L576.7 205.2L576.7 201.9ZM596.6 213.1L596.6 213.5L596.8 213.5L596.8 213.1ZM596.9 212.4L596.9 212.8L597.1 212.8L597.1 212.6ZM596.4 212.4L596.2 212.6L596.2 212.8L596.4 212.8ZM596.9 210.6L596.4 210.6L596.4 211.4L596.1 211.7L595.5 211.7L595.1 211.4L595 210.8L594.9 210.7L594.6 210.7L594.7 210.9L594.7 211.9L594.6 212.1L593.9 212.8L593.4 213L592.6 213.1L592.6 213.5L593.6 213.4L594.3 213L594.8 212.6L595 212L595.3 212.1L596.3 212.1L596.6 212L596.9 211.4ZM591.9 210.6L591.2 210.4L590.9 210.6L590.6 211L590.6 211.5L590.9 212L591.7 212.1L591.9 212.2L591.6 212.6L590.9 213L589.9 213.1L589.9 213.5L591.2 213.4L591.6 213.1L592.1 212.7L592.3 211.5L592.2 211.4L592.2 211ZM591 211L591.2 210.9L591.6 210.9L591.9 211.3L591.9 211.6L591.7 211.7L591.3 211.6L591 211.4ZM580.2 210.6L579.8 210.6L579.8 211.4L579.4 211.7L578.7 211.7L578.5 211.5L578.5 211L578.1 210.6L577.9 210.4L577.2 210.6L576.8 210.9L576.8 211.6L577.4 212.1L577.9 212.1L578 212.3L577.4 212.9L576.1 213.1L576.1 213.5L577.4 213.4L578.1 212.9L578.6 212.1L579.7 212.1L579.9 212L580.2 211.4ZM577.4 210.9L577.9 210.9L578.1 211.3L578.1 211.6L578 211.7L577.4 211.6L577.2 211.3ZM583.1 210.7L583.1 211.7L583.3 212.1L583.5 212.2L584.2 212.2L584.9 211.9L585.1 211.6L585.1 211L584.6 210.4L584.1 210.2L583.4 210.2ZM583.8 210.6L584.4 210.8L584.7 211.3L584.6 211.6L584.2 211.9L583.8 211.9L583.4 211.5L583.4 210.9ZM586.5 209.7L586.9 210.2L587.2 210.7L587.2 211.3L586.8 211.6L585.9 211.7L585.9 212.1L586.8 212.1L587.4 211.7L587.9 212.1L588.9 212.1L589.4 211.7L589.5 210.6L589 210.6L589 211.4L588.7 211.7L588.2 211.7L587.6 211.3L587.6 210.8L587.3 210.1L586.9 209.7ZM589.2 209.4L589.2 209.7L589.4 209.7L589.4 209.4ZM580.2 209.4L580.2 209.7L580.5 209.7L580.5 209.5ZM579.8 209.4L579.5 209.5L579.5 209.7L579.8 209.7ZM566.6 212.1L569.7 212.1L570.3 211.9L570.7 211.9L571.1 212.1L572.2 212.1L572.6 211.7L573 212.1L573.7 212.1L573.9 212L574.1 211.6L574.4 212L575.1 212.1L575.7 211.6L575.8 211.3L575.8 210.1L575.7 210L575.3 210.1L575.3 211.4L575 211.7L574.9 211.7L574.4 211.2L574.4 210.4L573.9 210.4L573.9 211.2L573.4 211.7L573 211.5L572.7 210.9L572.7 210.4L572.4 210.4L572.4 211.3L572 211.6L571.3 211.7L571 211.5L571 210.7L570.9 210.4L570.4 210.2L569.3 210.3L568.2 211.3L568 211.2L568 208L567.7 208L567.7 211.6L567.6 211.7L566.6 211.7ZM570.6 210.9L570.6 211L569.9 211.6L569.3 211.6L569.2 211.7L568.6 211.7L568.5 211.6L568.6 211.4L569.5 210.7L570.2 210.6ZM583.9 216.8L583.7 216.8L583.8 217.6L583.5 218.3L582.9 218.9L581.7 219.2L581.7 219.6L582.1 219.6L582.9 219.4L583.7 218.9L584.1 218L584.1 217.1ZM576.4 216.3L575.9 216.3L576.1 216.8L576.1 217.8L575.4 218.7L575.1 218.7L575 218.8L574.3 218.7L573.8 218.2L573.8 217.3L573.9 217L573.4 217L573.4 217.6L573.3 217.7L573.4 218.4L573.9 218.9L574.4 219.1L575.2 219.1L576 218.8L576.3 218.5L576.6 217.7L576.6 217ZM583.5 215.7L583.5 216L583.8 216.1L583.9 215.7ZM574.9 215.7L574.6 215.7L574.6 216.1L574.9 216ZM585.1 214.1L585.1 217.5L585.4 218.1L585.6 218.2L586.8 218.2L587.3 217.8L587.6 218.2L588.3 218.2L588.6 218.1L588.8 217.7L589 218.1L589.8 218.2L590.3 217.7L590.5 217.4L590.5 216.2L590.1 216.1L590 216.2L590 217.5L589.6 217.8L589.5 217.8L589 217.3L589 216.5L588.6 216.5L588.6 217.3L588.1 217.8L587.6 217.6L587.4 217L587.4 216.5L587.1 216.5L587.1 217.4L586.5 217.8L585.9 217.8L585.5 217.5L585.5 214.1ZM577.7 214.1L577.7 217.7L577.8 218L578.1 218.2L579.4 218.2L579.5 218.1L580 218.3L580.8 218.3L581.1 218.2L581.3 217.8L581.3 217.1L581.2 216.9L580.8 216.7L580 216.7L579.8 216.8L579.4 217.6L579.1 217.8L578.5 217.8L578.1 217.6L578 217.4L578 214.1ZM580.2 217L580.6 217L580.8 217.3L580.8 217.7L580.6 218L580.2 218L579.9 217.7L579.9 217.4ZM714.8 171.8L714.8 172.1L715 172.1L715 171.9ZM711.2 170.3L711 170.3L711.1 171L710.9 171.5L710.4 172L709.4 172.3L709.4 172.6L709.8 172.6L710.4 172.4L711.1 171.9L711.4 171.3L711.4 170.6ZM696.4 170.3L696.2 170.3L696.3 171L696.1 171.5L695.6 172L694.5 172.3L694.5 172.6L694.9 172.6L695.6 172.4L696.3 171.9L696.5 171.3L696.5 170.6ZM715.1 170.2L714.7 170.2L714.7 170.9L714.3 171.2L713.8 171.1L713.6 170.8L713.5 170.3L713.2 170.3L713.3 171.2L713.1 171.5L712.6 172L712.2 172.2L711.6 172.3L711.6 172.6L712.1 172.6L712.8 172.3L713.3 171.9L713.6 171.4L713.8 171.4L714.6 171.4L714.8 171.4L715 171.1ZM682.3 169.9L681.9 169.9L682.1 170.3L682.1 171.2L681.5 171.8L681.2 171.8L681.1 171.9L680.6 171.8L680.2 171.4L680.2 170.7L680.3 170.5L679.9 170.5L679.9 171L679.8 171.1L679.9 171.6L680.3 172L680.7 172.2L681.3 172.2L682 171.9L682.2 171.7L682.5 171.1L682.5 170.5ZM709.1 169.8L709 169.7L708.7 169.8L708.7 170.9L708.4 171.2L708.1 171L707.9 170.1L707.6 170.1L707.5 170.9L707.1 171.2L706.7 170.9L706.6 170.1L706.4 170.1L706.4 170.7L706.3 170.9L705.9 171.2L705.7 171.2L705.2 170.6L704.9 170.4L704.4 170.5L704.3 170.7L704.3 171.1L704.5 171.4L704.1 171.7L703.1 171.7L702.8 171.6L702.5 171.4L702.5 170.9L702.6 170.7L702.4 170.7L702.3 170.8L702.2 171.4L702.5 171.8L702.9 172L704.1 172L704.8 171.6L704.9 171.4L704.5 170.9L704.8 170.7L705.5 171.4L706.2 171.4L706.5 171.2L706.8 171.4L707.4 171.4L707.7 171.2L708.2 171.4L708.5 171.4L708.7 171.4L709 171ZM681 169.4L680.8 169.4L680.8 169.7L681 169.6ZM692.8 169.4L692.8 169.5L693 169.6L693.1 169.4ZM692.6 169.4L692.4 169.4L692.4 169.6L692.6 169.5ZM690.1 169.3L690 169.5L690.3 169.5L690.3 169.4ZM692.6 168.8L692.6 169L692.7 169.1L692.8 168.8ZM697.3 168.1L697.3 171L697.7 171.4L699.2 171.4L699.4 171.4L699.7 171L699.7 170.4L699.3 169.8L698.8 169.4L698.8 169.2L699.4 168.8L700.3 168.5L700.4 168.4L700.4 168.1L699.5 168.4L698.5 168.9L698.5 169.4L699.4 170.6L699.3 171L698.9 171.2L698 171.2L697.7 171L697.6 170.7L697.6 168.1ZM688.6 168.1L688.6 171.1L688.7 171.4L688.9 171.4L689.9 171.4L690.1 171.3L690.4 171.4L691.3 171.4L691.7 171.2L692 171.4L692.6 171.4L692.9 171.2L693.3 171.4L693.7 171.4L694.1 171.2L694.3 170.6L694.3 169.8L693.9 169.8L693.9 170.9L693.6 171.2L693.1 170.8L693 170.1L692.7 170.2L692.6 170.9L692.4 171.2L691.9 170.9L691.8 170.2L691.7 170.1L691.5 170.2L691.5 170.7L691.4 170.9L691 171.2L690.6 171.2L690.3 170.9L690.3 170.2L690 170.2L690 170.7L689.8 171.1L689.6 171.2L689.1 171.2L688.8 170.9L688.8 168.1ZM683.3 168.1L683.3 171.1L683.5 171.4L683.7 171.4L684.7 171.4L685.1 171.2L685.2 171.4L685.4 171.4L686 171.4L686.4 171.2L686.7 171.4L687.1 171.4L687.5 171.2L687.6 171L687.6 169.8L687.5 169.7L687.3 169.8L687.3 170.8L687.2 171L686.9 171.2L686.7 171L686.5 170.6L686.5 170.1L686.2 170.1L686.1 170.8L686 171L685.6 171.2L685.2 170.7L685.2 170.1L684.9 170.1L684.9 170.5L684.7 171.1L684.4 171.2L683.8 171.1L683.6 170.8L683.6 168.1ZM700.4 178.1L700.3 178.3L700.6 178.3L700.6 178.1ZM696.3 178.1L696.2 178.3L696.5 178.3L696.5 178.1ZM695.7 178.1L695.7 178.3L695.9 178.3L695.9 178.1ZM697 177.7L697.8 177.7L698.2 177.4L698.7 177.7L699.7 177.7L699.8 177.6L700.1 177.6L701 176.9L701.5 176.6L701.5 176.3L700.3 176L699.5 176L699.5 176.1L699.5 176.3L700.5 176.3L701 176.5L699.9 177.3L698.9 177.4L698.5 177.1L698.4 176.5L697.9 175.8L697.5 175.8L697.9 176.2L698.1 176.9L697.5 177.4L697 177.4ZM693.8 175.8L694.2 176.1L694.4 176.5L694.4 177L694.1 177.3L693.4 177.4L693.4 177.7L694.1 177.7L694.6 177.4L695 177.7L695.8 177.7L696.1 177.5L696.3 176.8L696.3 176.4L695.9 176.4L695.9 177.1L695.5 177.4L695.3 177.4L694.8 177L694.7 176.4L694.2 175.8ZM780.5 32.4L780.4 32.7L780.7 32.7L780.7 32.5ZM777.8 30.8L777.6 30.7L777.4 30.8L777.5 30.9L777.5 31.7L777.3 32.2L777 32.5L776.3 32.8L775.6 32.9L775.6 33.2L776.5 33.1L777.2 32.8L777.6 32.4L777.8 31.9ZM768.7 30.7L768.4 30.8L768.5 30.9L768.5 31.8L768.4 32L767.6 32.7L766.5 32.9L766.5 33.2L767.5 33.1L768.5 32.6L768.8 32L768.8 31.6L768.9 31.5L768.9 31.1ZM742.5 31.2L742.8 31.7L743.8 31.7L744 31.6L744.4 31.9L745.5 31.9L745.7 31.8L746 32L746.8 32L747.2 31.5L747.2 31.1L747 30.7L746.8 30.6L746 30.6L745.6 30.9L745.5 31.3L745.2 31.6L744.5 31.6L744.2 31.3L744.1 30.2L744 30.1L743.8 30.1L743.6 30.5L743.2 30.5L742.8 30.7ZM746.2 30.9L746.5 30.9L746.8 31.1L746.8 31.5L746.5 31.7L746.2 31.7L745.9 31.5L745.9 31.2ZM743.7 30.7L743.9 31.3L743.5 31.5L743.1 31.5L742.9 31.3L742.9 31.1L743.2 30.8ZM766.3 30.3L766 30L765.7 29.9L765.3 29.9L764.6 30.2L764.6 30.9L765.4 31.3L765.6 31.3L765.8 31.5L765.8 31.7L765.5 32L764.7 32.3L763.9 32.3L763.5 31.8L763.6 31.2L763.2 31.2L763.1 31.3L763.1 32L763.6 32.5L764.1 32.7L765.7 32.4L766.2 31.8L766.2 31.5L765.9 31.1L765.1 30.8L764.9 30.6L765.3 30.2L765.7 30.2L766 30.6L766.3 30.6ZM752.6 31.9L753.5 31.9L753.9 31.6L754.1 31.6L754.2 31.8L754.4 31.9L755.3 31.9L755.4 32L755.5 32.8L756 33.2L756.4 33.2L756.8 32.9L756.8 32.4L756.6 32.2L756.4 32L756.5 31.9L757.8 31.9L758.5 31.5L759.2 31.9L760.2 31.9L760.4 31.8L760.6 31.5L760.7 30.6L760.3 30.6L760.3 31.3L759.8 31.6L759.3 31.6L758.9 31.3L759.3 30.7L759.2 30.3L758.9 30.1L758 30.1L757.7 30.3L757.7 30.8L758.1 31.3L757.6 31.6L756.5 31.6L756.4 31.5L756.8 31.2L756.8 30.6L756.4 30.3L756 30.3L755.5 30.8L755.4 31.4L755.2 31.6L754.7 31.6L754.2 31.3L754.1 30.7L753.8 30L753.6 29.8L753.1 29.8L753.7 30.5L753.8 31.1L753.6 31.4L753.1 31.6L752.6 31.6ZM755.8 31.9L756.2 32.2L756.4 32.5L756.4 32.7L756.2 32.9L756 32.8L755.7 32.4L755.7 32ZM756.2 30.7L756.4 30.9L756.4 31.1L755.8 31.6L755.7 31.5L755.7 31.2L755.8 31ZM758.1 30.7L758.4 30.5L758.6 30.5L758.8 30.7L758.5 31ZM760.7 29.5L760.6 29.8L760.9 29.8L760.9 29.6ZM760.1 29.5L760.1 29.8L760.3 29.8L760.3 29.6ZM749.8 29.5L749.7 29.8L750.1 29.8L750.1 29.6ZM771.4 29L771.4 29.2L771.7 29.3L771.8 29ZM778.8 28.2L778.8 31.5L778.9 31.7L779.2 31.9L780.3 31.9L780.7 31.4L780.7 30.6L780.4 30.6L780.3 31.4L779.9 31.6L779.4 31.6L779.1 31.3L779.1 28.2ZM775.7 28.2L773.8 29L773.6 29.3L773.7 29.8L774.6 31L774.6 31.2L774.1 31.6L773.1 31.6L772.8 31.5L772.5 31L772.5 30.7L772.3 30.2L771.9 29.8L771.5 29.8L772 30.3L772.2 30.8L772.2 31.1L772 31.4L771.5 31.6L771 31.6L771 31.9L771.9 31.9L772.3 31.6L772.5 31.6L772.6 31.8L772.8 31.9L774.3 31.9L774.7 31.7L774.9 31.4L774.9 30.8L774 29.6L774 29.4L774.8 28.9L775.6 28.6L775.7 28.5ZM769.7 28.2L769.7 31.9L770.1 31.9L770.1 28.2ZM748.1 28.2L748.1 31.4L748.6 31.9L749.6 31.9L749.8 31.8L750.1 31.4L750.1 30.6L749.7 30.6L749.7 31.2L749.5 31.5L748.9 31.6L748.6 31.4L748.5 31.1L748.5 28.2ZM775.7 27.5L773.7 28.3L773.7 28.5L775.7 27.8ZM769.1 37.3L768.9 37.3L769 38L768.8 38.7L768.2 39.2L767.1 39.5L767.1 39.8L767.5 39.8L768.2 39.6L769 39.1L769.3 38.4L769.3 37.6ZM751.6 37.8L752 38.4L752.9 38.4L753.1 38.3L753.6 38.6L754.5 38.6L754.9 38L754.9 37.2L754.6 37.2L754.5 38L754.2 38.3L753.7 38.3L753.4 37.9L753.2 36.9L753.1 36.8L752.9 36.8L752.7 37.1L752.4 37.1L752 37.3ZM752.8 37.3L753 37.9L752.6 38.1L752.3 38.1L752.1 37.9L752.1 37.7L752.4 37.4ZM771 36.4L770.6 36.4L771.1 37.1L771.2 37.7L771 38L770.6 38.3L770.1 38.1L770.1 38.5L770.2 38.6L771.1 38.5L771.5 38L771.5 37.2ZM754.7 36.1L754.6 36.4L754.9 36.4L754.9 36.2ZM760.3 34.8L760.3 38L760.7 38.6L761.9 38.6L762.2 38.3L762.6 38.6L763.2 38.6L763.6 38.3L764.1 38.6L764.5 38.6L764.9 38.3L765.1 38L765.1 36.8L764.9 36.7L764.7 36.8L764.7 37.8L764.6 38L764.3 38.3L764 38L763.8 37.6L763.8 37.1L763.5 37.1L763.4 37.8L763.2 38L762.8 38.3L762.4 37.7L762.4 37.1L762.1 37.1L762.1 37.5L761.8 38.1L761.4 38.3L760.8 38.1L760.6 37.7L760.6 34.8ZM756 34.8L756 38.1L756.1 38.4L756.4 38.6L757.6 38.6L757.8 38.5L758.1 38.7L758.9 38.7L759.3 38.1L759.3 37.7L759.1 37.3L758.9 37.2L758.1 37.2L757.7 37.5L757.6 37.9L757.3 38.3L756.6 38.3L756.3 37.9L756.3 34.8ZM758.4 37.5L758.7 37.5L758.9 37.7L758.9 38.1L758.7 38.4L758.4 38.4L758 38.1L758 37.8ZM852.9 29.5L852.9 29.8L853.2 29.8L853.2 29.6ZM825 29.5L824.8 29.8L825.2 29.8L825.2 29.6ZM861.4 28.2L861.2 27.8L860.9 27.7L860.2 27.7L859.8 28L859.6 28.4L859.3 28.8L858.8 28.8L858.5 28.5L858.2 28.1L858.2 27.8L857.9 27.8L858 28.5L857.8 29.2L857.3 29.7L856.1 30.1L856.1 30.4L856.6 30.4L857.5 30.1L857.9 29.7L858.3 29L858.6 29.1L859.6 29.1L859.9 29L860.2 29.2L860.9 29.2L861.4 28.7ZM860.4 28L860.7 28L860.9 28.2L860.9 28.7L860.7 28.9L860.4 28.9L860.1 28.7L860.1 28.3ZM835.5 27.7L835 27.4L834.4 27.4L833.7 27.7L832.9 28.4L832.7 28.2L832.7 27.9L832.4 27.9L832.3 28.4L831.9 28.8L831.7 28.8L831 28L830.5 27.9L830 28.2L830 28.7L830.4 29.1L829.8 29.4L828.7 29.4L828.4 29.3L828.1 29L828.1 28.4L828.2 28.2L827.9 28.2L827.8 28.3L827.7 29L828.1 29.5L828.5 29.7L829.8 29.7L830.7 29.3L830.8 29L830.4 28.4L830.7 28.2L831.4 29.1L832.2 29.1L832.6 28.8L833.1 29.1L834.5 29.1L835.1 28.9L835.5 28.4ZM835.2 28L835.2 28.2L834.6 28.7L834.1 28.7L834 28.8L833.4 28.8L833.3 28.7L834 27.9L834.5 27.7L834.9 27.7ZM821.8 28.3L822.1 28.9L823.1 28.9L823.3 28.8L823.8 29.1L824.7 29.1L825.2 28.5L825.2 27.7L824.8 27.7L824.7 28.5L824.4 28.8L823.9 28.8L823.5 28.4L823.4 27.4L823.3 27.3L823.1 27.3L822.9 27.6L822.6 27.6L822.1 27.8ZM823 27.8L823.2 28.4L822.8 28.7L822.5 28.7L822.2 28.4L822.2 28.2L822.6 27.9ZM854.2 27.6L853.8 27.4L852.9 27.3L852.8 27.1L852 27.1L852 27.5L852.1 27.6L853.2 27.6L853.6 27.8L852.8 28.4L852.4 28.7L851.1 28.8L850.7 28.4L851 28L851.1 27.6L850.7 27.3L849.9 27.3L849.5 27.6L849.5 27.9L849.9 28.4L849.4 28.8L848.7 28.8L848.3 28.2L848.2 27.4L847.9 27.3L847.6 27.6L847.1 27.7L846.8 28L846.7 28.5L846.8 28.8L847 28.9L847.9 28.9L848.1 28.8L848.5 29.1L849.6 29.1L850.2 28.7L851 29.1L852.3 29.1L853.1 28.8L853.5 28.3L854.2 27.9ZM847.8 27.8L848 28.1L848 28.4L847.5 28.7L847.2 28.7L847 28.4L847.1 28.1L847.5 27.8ZM850 27.9L850.1 27.6L850.5 27.6L850.6 27.7L850.4 28.1ZM832.9 26.7L832.8 27L833.2 27L833.2 26.8ZM841.3 26.6L841.2 26.9L841.5 26.9L841.5 26.7ZM840.6 26.6L840.5 26.9L840.8 26.9L840.8 26.7ZM839.1 26.3L839.1 26.5L839.3 26.6L839.4 26.3ZM838.5 26.3L838.5 26.5L838.7 26.6L838.8 26.3ZM855.3 25.3L855.3 29.1L855.6 29.1L855.6 25.3ZM836.6 25.3L836.6 28.7L836.7 28.9L837.1 29.1L838.6 29.1L838.7 29L839.2 29L839.3 29.1L840.7 29.1L840.8 29L841.2 29L841.3 29.1L842.5 29.1L842.6 29L842.9 29.2L843.6 29.2L844.1 28.9L844.1 28L843.8 27.7L842.9 27.7L842.6 28L842.5 28.4L842.1 28.8L841.6 28.8L841.4 28.7L841.2 28.3L841.2 27.7L840.8 27.7L840.8 28.3L840.6 28.7L840.4 28.8L839.7 28.8L839.5 28.7L839.7 27.7L839.5 27.5L839.2 27.3L838.7 27.3L838.2 27.6L838.2 28.3L838.4 28.4L838.2 28.8L837.3 28.8L836.9 28.4L836.9 25.3ZM843 28.1L843.4 28L843.8 28.3L843.8 28.7L843.5 28.9L842.9 28.8L842.8 28.5ZM839 27.6L839.3 27.9L839.2 28.3L838.9 28.5L838.7 28.3L838.6 27.9ZM827.4 35.7L827.4 36L827.6 36L827.6 35.8ZM842.2 34.1L842 34L841.8 34.1L841.9 34.2L841.9 35.1L841.6 35.5L841.3 35.8L840.7 36.2L839.9 36.3L839.9 36.6L840.9 36.5L841.5 36.2L842 35.7L842.2 35.3ZM833.3 34.3L833.2 34.1L832.9 33.9L832.1 33.9L831.8 34.1L831.5 34.9L831.3 35L830.7 35L830.4 34.7L830.2 34.3L830.2 34L829.9 34L830 34.7L829.8 35.4L829.2 35.9L828 36.3L828 36.6L828.6 36.6L829.4 36.3L829.9 35.9L830.3 35.2L830.5 35.3L831.6 35.3L831.8 35.2L832.1 35.4L832.9 35.4L833.1 35.3L833.3 35ZM832.4 34.2L832.7 34.2L832.9 34.4L832.9 34.9L832.7 35.1L832.4 35.1L832 34.9L832 34.5ZM827.7 33.9L827.3 33.9L827.3 34.6L826.8 35L826.2 35L826 34.2L825.5 33.8L825.1 33.8L824.7 34L824.6 34.2L824.6 34.9L824.7 35.1L825.1 35.3L825.5 35.3L825.7 35.5L825.1 36L823.9 36.3L823.9 36.6L824.6 36.6L825.4 36.3L825.9 35.8L826.2 35.3L827.2 35.3L827.4 35.2L827.6 34.9ZM824.9 34.4L825.1 34.2L825.4 34.2L825.7 34.4L825.8 34.9L825.7 35L825.3 35L824.9 34.6ZM852 33.6L851.6 34.1L851.6 34.9L851.7 35.1L852.1 35.4L852.7 35.4L853.2 35.2L853.5 34.6L853.4 34.2L852.9 33.7ZM852 34.1L852.2 33.9L852.7 34L853.1 34.4L853.1 34.7L852.7 35.1L852.2 35.1L851.9 34.7ZM844.4 35.3L845.3 35.3L845.9 35L846.3 35.3L847.4 35.3L847.6 35.2L847.9 35.4L848.7 35.4L849.1 34.9L849.1 34.4L848.9 34L848.7 33.9L847.9 33.9L847.5 34.2L847.4 34.6L847.1 35L846.5 35L846.1 34.6L846 34L845.4 33.1L844.9 33.1L845.4 33.7L845.6 34.4L845 35L844.4 35ZM848.1 34.2L848.5 34.2L848.7 34.4L848.7 34.9L848.5 35.1L848.1 35.1L847.8 34.9L847.8 34.5ZM863.6 34.6L863.3 34L862.7 33.5L861.8 32.9L861.8 33.3L862 33.5L861.6 33.7L861.6 34.5L861.8 34.6L861.6 35L860.9 35L860.6 34.6L860.5 34.2L860.1 33.9L859.3 33.9L858.9 34.2L858.8 34.6L858.5 35L858 35L857.5 34.6L857.4 34L857 34L857.1 34.1L857.1 35.1L856.9 35.5L856.2 36L855.2 36.3L855.2 36.6L855.8 36.6L856.8 36.2L857.2 35.7L857.5 35.2L857.8 35.3L858.8 35.3L858.9 35.2L859.3 35.4L860 35.4L860.3 35.2L860.6 35.3L862 35.3L862.1 35.2L862.6 35.5L863.2 35.5L863.5 35.3ZM859.4 34.3L859.8 34.2L860.1 34.5L860.1 34.9L859.9 35.1L859.3 35L859.2 34.7ZM862.9 34.1L863.3 34.6L863.3 35L863.1 35.2L862.7 35.2L862.5 35L862.7 34.7ZM862.4 33.8L862.5 33.9L862.5 34.4L862.2 34.7L862 34.4L862 33.9L862.1 33.8ZM854.4 31.5L854.4 35.3L854.8 35.3L854.8 31.5ZM843.2 31.5L843.2 35.3L843.5 35.3L843.5 31.5ZM840 31.5L838.7 31.9L838.1 32.3L837.9 32.6L838 33.1L838.5 33.7L838.9 34.3L838.9 34.5L838.6 34.9L837.8 35.2L836.7 35.1L836.5 35L836.1 34.5L836.4 34L835.9 34L835.8 34.2L835.8 34.7L836.2 35.3L836.8 35.5L837.9 35.5L839.1 35.1L839.3 34.7L839.3 34.1L838.4 33L838.3 32.7L838.6 32.4L838.8 32.4L840 31.8ZM820.6 31.5L820.6 34.9L820.5 35L819.6 35L819.6 35.3L822.4 35.3L823.3 35L823.6 34.6L823.6 34L823.5 33.8L823.1 33.6L822.1 33.7L821.3 34.2L821.1 34.5L820.9 34.4L820.9 31.5ZM823.3 34.2L823.3 34.3L822.6 34.9L822.1 34.9L822 35L821.4 35L821.3 34.9L821.4 34.6L822.2 34L822.8 33.9ZM860.5 41.9L860.4 42.2L860.7 42.2L860.7 42ZM844.7 41.9L844.6 42.2L844.9 42.2L844.9 42ZM844.1 41.9L844 42.2L844.3 42.2L844.3 42ZM828.2 41.9L828.1 42.2L828.4 42.2L828.4 42ZM847.2 40.3L847 40.2L846.8 40.3L846.9 40.4L846.9 41.3L846.7 41.7L846.4 42L845.7 42.4L844.9 42.5L844.9 42.8L845.9 42.7L846.6 42.4L847 41.9L847.2 41.5ZM823.7 40.3L823.4 40.2L823.2 40.3L823.3 40.5L823.3 41.3L823.1 41.7L822.1 42.4L821.4 42.5L821.4 42.8L822.4 42.7L823 42.4L823.4 41.9L823.7 41.5ZM861.8 40L861.4 39.8L860.5 39.7L860.4 39.5L859.5 39.5L859.5 40L860.6 40L861.2 40.2L860.4 40.8L859.4 41.2L858.3 41.2L858.2 41.1L858.6 40.7L858.6 40.1L858.2 39.9L857.6 40L857.3 40.3L857.2 40.9L856.9 41.2L856.5 41.2L856.1 40.8L856 39.9L855.6 39.9L855.6 40.4L855.3 40.7L854.6 41.1L854.1 41.1L854 41.2L852.7 41.1L852.3 40.6L852.4 40L852.2 40L852 40.2L852 40.8L852.2 41.2L852.8 41.5L854.2 41.5L854.4 41.4L855.1 41.3L855.8 40.9L855.9 41.2L856.3 41.5L857.1 41.5L857.2 41.6L857.3 42.4L857.8 42.8L858.2 42.8L858.6 42.5L858.6 41.9L858.5 41.7L858.2 41.6L858.3 41.5L859.9 41.5L860.2 41.4L861.2 40.6L861.8 40.3ZM857.6 41.5L858 41.7L858.2 42L858.2 42.2L858 42.5L857.8 42.4L857.5 41.9L857.5 41.6ZM858 40.2L858.2 40.4L858.2 40.6L857.6 41.2L857.5 41.1L857.5 40.7L857.6 40.5ZM854 39.5L854 39.8L854.2 39.9L854.4 39.5ZM853.4 39.5L853.4 39.8L853.6 39.9L853.7 39.5ZM836.9 39.5L836.9 39.8L837.2 39.9L837.3 39.5ZM836.3 39.5L836.3 39.8L836.5 39.9L836.6 39.5ZM823.9 42.8L825.1 42.7L825.5 42.5L825.9 42L826.1 41.5L827.5 41.5L828.1 41.3L828.7 40.7L829.6 41.5L830.7 41.5L830.9 41.4L831.2 41.6L832 41.6L832.2 41.5L832.4 41.2L832.4 40.5L832.3 40.3L832 40.1L831.2 40.1L830.9 40.3L830.6 41.1L829.9 41.2L829.5 40.9L829.2 40.5L829.5 40.3L829.5 40L829.1 39.8L828.2 39.7L828.1 39.5L827.2 39.5L827.2 40L828.5 40L828.8 40.2L828.1 40.8L827.7 41.1L826.2 41.2L826 40.4L825.6 40L825.1 40L824.6 40.3L824.5 40.6L824.6 41.2L824.8 41.4L825.6 41.5L825.7 41.6L825.3 42.1L824.8 42.4L823.9 42.5ZM831.4 40.4L831.8 40.4L832 40.6L832 41.1L831.8 41.3L831.4 41.3L831.1 41.1L831.1 40.7ZM825 40.6L825.2 40.4L825.5 40.4L825.8 40.9L825.6 41.2L825.4 41.2L825 40.8ZM848.9 39.3L848.5 39.3L849.2 40.1L849.2 40.7L848.8 41.1L848.5 41.2L848 41.1L848 41.4L848.2 41.5L848.8 41.5L849.5 41.1L849.6 40.2L849.2 39.4ZM823.4 39.2L823.2 39.2L823.2 39.5L823.4 39.4ZM841.7 40L841.6 39.9L841.6 39.5L841.1 39.1L840.4 39.2L840.1 39.7L840.2 40.3L840.6 40.6L840.9 40.6L841.1 40.5L841.3 40.6L840.8 41.1L840.5 41.2L839.4 41.2L839.2 41.1L839 40.7L839 40.1L838.9 39.9L838.6 39.9L838.7 40.2L838.1 40.8L837.5 41.1L837.1 41.1L836.9 41.2L835.8 41.1L835.5 40.9L835.2 40.5L835.3 40L835 40.1L834.9 40.7L835.3 41.3L835.9 41.5L837.2 41.5L837.3 41.4L838.1 41.3L838.6 40.9L839.2 41.5L840.8 41.5L841.4 41.2L841.6 40.7ZM840.5 39.8L840.7 39.5L841.1 39.5L841.3 39.8L841.3 40.1L841.1 40.3L840.7 40.3L840.5 40.1ZM840.8 38.2L840.7 38.6L841.1 38.6L841.1 38.4ZM842.7 37.7L842.7 41.1L842.8 41.3L843.1 41.5L844.2 41.5L844.6 40.9L844.6 40.1L844.3 40.1L844.2 40.9L843.9 41.2L843.3 41.2L843 40.8L843 37.7ZM447.4 331L447.3 331.3L447.7 331.3L447.7 331.1ZM446.8 331L446.7 331.3L447 331.3L447 331.1ZM444.1 331L444 331.3L444.3 331.3L444.3 331.1ZM452.3 329.3L452.1 329.3L452.2 330L451.9 330.7L451.4 331.2L450.2 331.5L450.2 331.9L450.7 331.9L451.4 331.6L452.2 331.1L452.5 330.4L452.5 329.6ZM449.8 329.3L449.5 329.4L449.6 329.5L449.6 330.5L449.5 330.7L448.7 331.3L447.7 331.5L447.7 331.9L448.2 331.9L449.2 331.5L449.8 330.9L450 330.1L450 329.7ZM444.3 329.2L444 329.2L444 329.8L443.9 330L443.6 330.3L443.3 330.1L442.8 329.5L442.6 329.4L442.1 329.5L441.8 329.9L442.2 330.6L441.7 330.9L440.5 330.9L440.3 330.8L439.9 330.4L440.1 329.7L439.7 329.7L439.6 329.8L439.5 330.5L439.6 330.8L440.1 331.1L440.4 331.2L441.7 331.2L442.2 331L442.5 330.7L442.5 330.3L442.2 330L442.4 329.7L443 330.4L443.3 330.6L443.9 330.6L444.1 330.5L444.3 330ZM449.5 328.3L449.5 328.5L449.7 328.7L449.8 328.3ZM453.3 326.8L453.3 330.6L453.8 330.6L453.8 326.8ZM445.4 326.8L445.4 330.1L445.5 330.4L445.8 330.6L446.9 330.6L447.1 330.5L447.3 330L447.3 329.2L447 329.2L447 329.8L446.8 330.1L446.2 330.3L445.8 330L445.7 329.8L445.7 326.8ZM462.1 335.8L461.8 335.7L461.6 335.8L461.7 335.9L461.7 336.8L461.5 337.2L461.2 337.5L460.6 337.8L459.8 337.9L459.8 338.3L460.8 338.2L461.4 337.8L461.8 337.4L462.1 337ZM446 335.3L445.7 335.3L445.9 335.9L445.9 336.4L445.7 337L445.4 337.3L444.8 337.5L444.1 337.4L443.8 337.1L443.7 336.8L443.8 335.9L443.4 335.9L443.3 336.1L443.3 337L443.5 337.4L444.2 337.8L444.9 337.8L445.6 337.6L446 337.2L446.2 336.8L446.2 335.7ZM440.8 335.9L440.4 335.6L439.6 335.6L439.3 335.9L439.2 336.3L438.8 336.7L438.2 336.7L437.7 336.3L438.1 335.8L438.1 335.5L437.7 335.2L436.9 335.2L436.5 335.5L436.5 335.7L436.9 336.3L436.4 336.7L435.7 336.7L435.4 336.3L435.3 335.8L435.2 335.7L434.9 335.7L435 335.9L435 336.8L434.9 337L434.2 337.6L433.8 337.8L433.1 337.9L433.1 338.3L434 338.2L434.7 337.8L435.1 337.4L435.3 336.9L435.5 337L436.6 337L436.9 336.9L437.2 336.5L438 337L439.2 337L439.3 336.9L439.6 337.1L440.3 337.1L440.8 336.8ZM439.7 336L440.1 335.9L440.4 336.2L440.4 336.5L440.2 336.8L439.6 336.7L439.5 336.4ZM437 335.6L437.1 335.5L437.4 335.5L437.6 335.8L437.2 336ZM444.4 334.7L444.4 334.9L444.6 335.1L444.7 334.7ZM458 334.6L458 334.8L458.2 334.9L458.2 334.6ZM457.3 334.6L457.3 334.8L457.6 334.9L457.7 334.6ZM432.7 335.1L432.2 334.6L431.8 334.6L431.3 334.9L431.2 335.2L431.3 335.8L431.8 336.1L432.1 336.1L432.2 336L432.4 336.1L432 336.5L431.7 336.7L430.8 336.7L430.5 336.4L430.2 335.9L429.6 335.8L429.4 335.9L429.1 336.3L429.5 336.9L429.4 337.1L429 337.3L427.8 337.3L427.2 336.8L427.4 336.1L427.1 336.1L426.8 336.4L427 337.2L427.7 337.6L429 337.6L429.3 337.5L429.8 337.1L429.8 336.7L429.5 336.4L429.7 336.1L430.3 336.8L430.6 337L432 337L432.4 336.8L432.7 336.2L432.7 335.8L432.8 335.7ZM431.7 335.3L431.9 335.1L432.2 335.1L432.4 335.3L432.4 335.6L432.2 335.8L431.9 335.8L431.7 335.6ZM454.8 334.5L454.8 334.8L455 334.8L455 334.6ZM457.7 334L457.7 334.2L457.9 334.3L458 334ZM432 333.8L431.9 334.1L432.2 334.1L432.2 333.9ZM463 333.2L463 336.5L463.1 336.8L463.4 337L465.1 337L465.3 336.9L465.7 336.3L465.7 335.9L465.5 335.5L464.7 334.6L464.7 334.3L465.1 334.1L466.3 333.7L466.4 333.6L466.4 333.2L464.9 333.8L464.3 334.2L464.3 334.7L465.3 335.9L465.3 336.3L464.8 336.7L463.8 336.7L463.4 336.4L463.3 336.2L463.3 333.2ZM453.1 333.2L453.1 336.3L453.4 336.9L453.6 337L454.6 337L454.9 336.8L455.2 337L456.2 337L456.6 336.7L456.9 337L457.6 337L457.8 336.9L458 336.5L458.4 337L458.8 337L459.4 336.5L459.5 336.3L459.5 335.2L459.2 335.2L459.2 336.1L459.1 336.4L458.7 336.7L458.3 336.3L458.2 336.1L458.2 335.6L458.1 335.5L457.9 335.5L457.8 335.7L457.8 336.2L457.7 336.4L457.3 336.7L456.8 336.2L456.8 335.6L456.7 335.5L456.4 335.6L456.4 336.2L455.8 336.7L455.4 336.7L455.1 336.4L455.1 335.6L454.7 335.6L454.7 336.3L454.5 336.5L453.8 336.7L453.5 336.3L453.5 333.2ZM447.2 333.2L447.2 336.3L447.5 336.9L447.7 337L448.8 337L449.2 336.7L449.5 337L450.2 337L450.4 336.9L450.6 336.5L450.8 336.9L451.5 337L452 336.5L452.1 336.2L452.1 335.2L451.8 335.1L451.7 335.2L451.7 336.3L451.4 336.7L451.2 336.7L450.8 336.1L450.8 335.5L450.4 335.5L450.4 336.1L450 336.7L449.5 336.4L449.3 335.9L449.3 335.5L449 335.5L449 336.2L448.5 336.7L447.9 336.7L447.6 336.3L447.6 333.2ZM450.8 344.1L450.8 344.4L451 344.4L451 344.2ZM454 341.9L453.7 342.3L453.7 342.6L453.5 342.7L453.7 343.4L454.1 343.8L454.7 343.8L455.2 343.5L455.5 343.1L455.5 342.8L455.3 342.4L454.8 342ZM454.2 342.3L454.8 342.5L455.2 342.9L454.7 343.4L454.2 343.4L454 343.2L454 342.5ZM431.3 341.9L431 342.3L431 342.6L430.9 342.7L431 343.4L431.4 343.8L432 343.8L432.5 343.5L432.8 343.1L432.8 342.8L432.6 342.4L432.1 342ZM431.5 342.3L432.1 342.5L432.5 342.9L432 343.4L431.5 343.4L431.3 343.2L431.3 342.5ZM456.2 343.6L457.1 343.6L457.6 343.3L458 343.6L459.1 343.6L459.5 343.3L459.9 343.6L460.5 343.6L460.8 343.3L461.4 343.6L461.8 343.6L462 343.5L462.3 343.1L462.4 341.8L462 341.8L462 343L461.7 343.3L461.1 342.9L461 342.1L460.7 342.3L460.6 343L460.3 343.3L459.8 343L459.6 342.3L459.5 342.1L459.3 342.3L459.3 342.8L459.2 343L458.8 343.3L458.4 343.3L457.8 342.9L457.7 342.3L457.2 341.5L456.8 341.5L457.2 341.9L457.4 342.4L457.4 342.9L457.1 343.2L456.2 343.3ZM434.5 341.5L434.1 341.5L434.7 342.3L434.7 342.9L434.4 343.2L434.1 343.3L433.5 343.2L433.5 343.5L433.8 343.6L434.4 343.6L435 343.2L435.1 342.4L434.7 341.6ZM460.8 341.3L460.8 341.5L461 341.6L461.1 341.3ZM460.5 341.3L460.3 341.3L460.3 341.6L460.5 341.5ZM440.6 341.2L440.6 341.5L440.8 341.5L440.8 341.3ZM440.2 341.2L440 341.3L440 341.5L440.2 341.5ZM438.5 340.9L438.2 340.9L438.2 341.2L438.5 341.1ZM460.5 340.6L460.5 340.9L460.7 341L460.8 340.6ZM449.1 339.9L449.1 343L449.2 343.3L449.6 343.6L450.6 343.6L450.8 343.5L451 343.2L451.1 342.3L450.7 342.3L450.7 343L450.2 343.3L449.8 343.3L449.5 343L449.5 339.9ZM446.1 339.9L446.1 343.6L446.4 343.6L446.4 339.9ZM436 339.9L436 343.1L436.4 343.6L437.9 343.6L438 343.5L440.1 343.6L440.4 343.4L440.7 343.6L441.8 343.6L442.1 343.3L442.5 343.6L443.2 343.6L443.5 343.3L444 343.6L444.5 343.6L444.8 343.4L445 343.1L445 341.8L444.9 341.7L444.7 341.8L444.7 342.9L444.6 343.1L444.2 343.3L443.9 343.1L443.7 342.7L443.7 342.1L443.4 342.1L443.3 342.9L443.2 343.1L442.7 343.3L442.3 342.8L442.3 342.1L442 342.1L442 342.6L441.7 343.2L440.9 343.3L440.6 343L440.6 342.3L440.2 342.3L440.2 343L439.9 343.3L439.1 343.3L438.9 343.1L439.1 342.8L439 342.1L438.7 341.8L438 341.8L437.6 342.4L437.6 342.8L437.8 343.1L437.6 343.3L436.7 343.3L436.4 343.1L436.3 342.8L436.3 339.9ZM438.2 342.1L438.7 342.5L438.7 342.8L438.4 343.1L438 342.8L438 342.4ZM438.9 350.6L438.9 351L439.2 351L439.2 350.6ZM462.3 349L462.1 348.9L461.8 349L461.9 349.2L461.9 350L461.7 350.4L460.8 351.1L460 351.2L460 351.5L461 351.4L461.6 351.1L462.1 350.6L462.3 350.2ZM456.6 348.9L456.3 349L456.4 349.1L456.4 350.1L456.3 350.3L455.5 351L454.5 351.2L454.5 351.5L455 351.5L456 351.2L456.6 350.5L456.8 349.8L456.8 349.3ZM449.1 351.5L449.7 351.5L450.5 351.3L450.9 351L451.4 350.2L452.5 350.2L452.6 350.1L453 350.3L453.7 350.3L454.1 350L454.1 349.1L453.8 348.8L453 348.8L452.6 349.1L452.5 349.6L452.2 349.9L451.5 349.9L451.2 349.7L451.1 349L450.7 348.7L450.3 348.7L449.7 349.1L449.7 349.8L450.3 350.2L450.7 350.2L450.8 350.4L450.3 351L449.1 351.2ZM453.1 349.2L453.5 349.1L453.8 349.5L453.8 349.8L453.6 350L453 349.9L452.9 349.7ZM450.3 349.1L450.7 349.1L450.9 349.5L450.9 349.8L450.8 349.9L450.3 349.8L450.1 349.5ZM431.6 348.8L430.9 348.7L430.7 348.8L430.4 349.2L430.4 349.7L430.7 350.1L431.5 350.2L431.6 350.3L431.3 350.6L430.7 351.1L429.7 351.2L429.7 351.5L430.9 351.4L431.3 351.2L431.8 350.7L432 349.7L431.9 349.6L431.9 349.2ZM430.8 349.2L430.9 349.1L431.3 349.1L431.6 349.5L431.6 349.8L431.5 349.9L431 349.8L430.8 349.6ZM448.6 348.5L448.3 348.5L448.5 349.1L448.5 349.7L448.3 350.2L447.9 350.5L447.4 350.7L446.6 350.6L446.3 350.3L446.2 350L446.3 349.1L446 349.1L445.9 349.3L445.9 350.2L446.1 350.6L446.8 351.1L447.5 351.1L448.1 350.8L448.6 350.4L448.8 350L448.8 348.9ZM462.1 348L461.8 348L461.8 348.3L462.1 348.2ZM456.3 348L456.3 348.2L456.5 348.3L456.6 348ZM447 348L447 348.2L447.2 348.3L447.3 348ZM440.9 347.7L440.8 348.1L441.1 348.1L441.1 347.9ZM440.2 347.7L440.1 348.1L440.4 348.1L440.4 347.9ZM463.2 346.5L463.2 350.2L463.6 350.2L463.6 346.5ZM457.7 346.5L457.7 350.2L458 350.2L458 346.5ZM443.8 346.5L442.3 347.1L442 347.1L441.7 347.4L441.7 348L442.7 349.1L442.7 349.6L442.3 349.9L441.2 349.9L441 349.8L440.8 349.5L440.8 348.8L440.4 348.8L440.4 349.5L440.2 349.8L439.6 349.9L439.3 349.6L439.3 348.8L438.8 348.8L438.8 349.6L438.5 349.9L438.3 349.9L437.6 349L437.1 349L436.9 349.1L436.7 349.5L436.7 349.8L437 350.1L436.8 350.4L436.5 350.5L435.4 350.5L435.1 350.4L434.8 350.1L434.8 349.6L434.9 349.3L434.6 349.3L434.4 349.5L434.4 350.3L435.2 350.8L436.5 350.8L437.2 350.5L437.4 350.2L437.4 350L437.1 349.7L437.2 349.3L437.3 349.3L438.1 350.2L438.7 350.2L439 350L439.4 350.2L440.3 350.2L440.4 350.1L440.8 350.1L440.9 350.2L442.5 350.2L443 349.8L443.1 349.1L442 347.6L442.5 347.3L443.7 346.9L443.8 346.8ZM457 345.9L457.3 345.7L458.1 346L458.7 345.7L458.7 345.6L458.5 345.6L458.3 345.8L457.8 345.8L457.5 345.6L457.2 345.6ZM442 356.9L441.9 357.2L442.3 357.2L442.3 357ZM445.6 354.9L445.1 354.7L444.3 354.6L444.2 354.5L443.3 354.5L443.3 354.8L443.4 354.9L444.5 354.9L444.9 355.2L444.2 355.8L443.8 356L442.7 356.1L442.3 355.8L442.3 355.1L441.9 355.1L441.8 355.9L441.5 356.1L441 356.1L440.7 355.8L440.5 355.5L440.5 354.7L440.2 354.6L440 354.9L439.7 354.9L439.3 355.2L438.9 355.8L439.3 356.2L440.2 356.2L440.4 356.1L440.9 356.4L441.8 356.4L442 356.2L442.4 356.4L443.7 356.4L444.4 356.1L444.8 355.7L445.6 355.3ZM440.1 355.2L440.3 355.8L439.9 356L439.6 356L439.4 355.8L439.4 355.6L439.7 355.3ZM446.6 352.7L446.6 356L446.8 356.2L447.1 356.4L448.1 356.4L448.6 356.1L449 356.4L450.4 356.4L451.1 356.1L451.7 356.4L452.7 356.4L452.9 356.3L453.2 356.6L453.9 356.6L454.1 356.4L454.4 356.1L454.4 355.5L454 355.1L453.2 355.1L453 355.2L452.7 355.8L452.3 356.1L451.8 356.1L451.5 355.9L451.6 355.7L451.5 355.1L450.9 354.7L450.3 354.7L449.9 354.9L448.9 355.8L448.7 355.5L448.7 355.3L448.4 355.3L448.4 355.7L447.9 356.1L447.3 356.1L447 355.8L447 352.7ZM453.1 356L453.1 355.8L453.4 355.4L453.7 355.4L454 355.7L454 355.9L453.7 356.2L453.4 356.2ZM451.1 355.3L451.1 355.6L450.5 356L450.1 356L450 356.1L449.4 356.1L449.3 356L450 355.3L450.4 355.1L450.8 355.1ZM513.1 411.2L512.9 411.2L512.9 411.6L513.1 411.5ZM524.1 410.7L524 411L524.3 411L524.3 410.8ZM523.4 410.7L523.3 411L523.6 411L523.6 410.8ZM520.6 410.7L520.5 411L520.8 411L520.8 410.8ZM513.2 410.6L513.1 410.9L513.4 410.9L513.4 410.7ZM512.5 410.6L512.5 410.9L512.8 410.9L512.8 410.7ZM529.1 408.9L528.9 408.9L529 409.7L528.8 410.3L528.2 410.9L527 411.2L527 411.6L527.5 411.6L528.2 411.4L529 410.8L529.4 410L529.4 409.2ZM526.6 408.9L526.2 409L526.3 409.1L526.3 410.1L526.2 410.3L525.4 411L524.3 411.2L524.3 411.6L524.9 411.6L525.9 411.2L526.6 410.6L526.8 409.8L526.8 409.3ZM520.8 408.8L520.5 408.8L520.5 409.4L520.4 409.7L520.1 409.9L519.7 409.8L519.3 409.1L519.1 409L518.5 409.1L518.2 409.6L518.6 410.2L518 410.6L516.8 410.6L516.6 410.5L516.1 410L516.4 409.3L516 409.3L515.9 409.4L515.8 410.1L515.9 410.5L516.4 410.8L516.7 410.9L518 410.9L518.6 410.7L518.9 410.3L518.9 409.9L518.6 409.7L518.8 409.3L519.4 410L519.7 410.2L520.4 410.2L520.6 410.1L520.8 409.7ZM513.2 408.8L512.8 408.8L512.8 409.6L512.3 409.9L511.9 409.9L511.5 409.6L511.4 409L511.3 408.9L511 408.9L511.1 409.1L511.1 410L511 410.2L510.3 410.9L509.9 411.1L509.1 411.2L509.1 411.6L510.1 411.5L510.8 411.1L511.2 410.7L511.4 410.1L511.6 410.2L512.7 410.2L512.9 410.1L513.1 409.8ZM508.4 408.8L507.7 408.7L507.2 409.1L507.2 409.8L507.7 410.2L508.2 410.2L508.3 410.5L507.7 411L506.5 411.2L506.5 411.6L507.7 411.5L508.5 410.9L508.7 410.5L508.7 409.2ZM507.7 409.1L508.1 409.1L508.4 409.4L508.4 409.8L508.3 409.9L507.7 409.8L507.5 409.4ZM500.3 408.4L500 408.8L500 409.1L499.9 409.2L500 410L500.4 410.3L501.1 410.3L501.6 410.1L501.9 409.7L501.9 409.3L501.7 408.9L501.2 408.6ZM500.5 408.8L501.2 409L501.6 409.4L501.1 410L500.5 410L500.3 409.8L500.3 409ZM503.2 408L503.7 408.4L503.9 408.9L503.9 409.4L503.6 409.8L502.7 409.9L502.7 410.2L503.6 410.2L504.1 409.9L504.6 410.2L505.6 410.2L505.9 410L506.2 409.2L506.2 408.8L505.7 408.8L505.7 409.6L505.3 409.9L504.9 409.9L504.4 409.4L504.4 409L504 408.3L503.7 408ZM526.2 407.9L526.2 408.1L526.5 408.2L526.6 407.9ZM505.8 407.7L505.8 408L506 408L506 407.8ZM530.3 406.3L530.3 410.2L530.7 410.2L530.7 406.3ZM522 406.3L522 409.8L522.1 410L522.4 410.2L523.5 410.2L523.8 410.1L524 409.7L524 408.8L523.6 408.8L523.6 409.4L523.4 409.8L522.8 409.9L522.4 409.7L522.3 409.4L522.3 406.3ZM512.9 415.7L512.7 415.3L512.5 415.2L511.7 415.2L511.3 415.5L511.1 416L510.8 416.3L510.2 416.3L509.8 416L509.7 415.3L509.2 415.3L509.4 415.4L509.4 416.4L509.1 416.9L508.5 417.4L507.3 417.6L507.3 418L508 418L509 417.5L509.5 417.1L509.8 416.5L510 416.6L511.1 416.6L511.4 416.5L511.7 416.7L512.5 416.7L512.9 416.2ZM511.9 415.5L512.3 415.5L512.5 415.7L512.5 416.2L512.3 416.4L511.9 416.4L511.6 416.2L511.6 415.8ZM528.5 415.2L528.1 415.2L528.1 416L527.6 416.3L527 416.3L526.7 415.5L526.3 415.1L525.8 415.1L525.4 415.3L525.3 415.5L525.3 416.2L525.4 416.4L525.8 416.6L526.3 416.6L526.4 416.9L525.8 417.4L524.6 417.6L524.6 418L525.3 418L526.2 417.6L526.6 417.2L527 416.6L528 416.6L528.2 416.5L528.4 416.2ZM525.6 415.7L525.8 415.5L526.2 415.5L526.4 415.7L526.5 416.2L526.4 416.3L526.1 416.3L525.6 416ZM503.7 414.2L503.7 414.5L504 414.5L504 414.3ZM528.5 414.1L528.4 414.4L528.8 414.4L528.8 414.2ZM527.9 414.1L527.9 414.4L528.1 414.4L528.1 414.2ZM515.5 416.6L518.4 416.6L519 416.4L519.4 416.4L519.8 416.6L520.8 416.6L521.2 416.3L521.6 416.6L522.2 416.6L522.6 416.3L523.1 416.6L523.6 416.6L523.8 416.5L524.2 416.1L524.3 414.7L524.2 414.6L523.8 414.7L523.8 416L523.5 416.3L523 416.1L522.8 415.1L522.5 415.1L522.4 416L521.9 416.3L521.5 416L521.4 415.1L521 415.1L521 415.7L520.7 416.2L520.5 416.3L519.7 416.2L519.6 416.1L519.7 415.8L519.7 415.3L519.3 415L519 414.8L518.1 415L517.5 415.3L517 415.8L516.9 415.7L516.9 412.7L516.5 412.7L516.5 416.2L516.4 416.3L515.5 416.3ZM519.3 415.6L518.7 416.2L518.1 416.2L518 416.3L517.4 416.3L517.3 416.2L517.9 415.5L518.4 415.2L518.9 415.2L519.1 415.3ZM507.4 412.7L505.9 413.4L505.6 413.4L505.3 413.7L505.3 414.3L506.3 415.5L506.3 416L505.9 416.3L504.6 416.3L504.3 416L504.2 415.4L504.1 415.3L503.7 415.3L503.9 415.5L503.9 416.4L503.7 416.6L503.1 417.3L502.6 417.5L501.8 417.6L501.8 418L502.8 417.9L503.5 417.5L504 417.1L504.2 416.5L504.4 416.6L506.1 416.6L506.7 416.2L506.8 415.5L505.6 413.9L506.1 413.6L507.3 413.2L507.4 413ZM527.6 423.5L527.5 423.8L527.9 423.8L527.9 423.6ZM527 423.5L526.8 423.8L527.2 423.8L527.2 423.6ZM523.1 423.5L523 423.8L523.4 423.8L523.4 423.6ZM522.5 423.5L522.5 423.8L522.7 423.8L522.7 423.6ZM507.2 423.5L507.2 423.8L507.4 423.8L507.4 423.5ZM514.5 421.7L514.3 421.7L514.4 422.5L514.2 423.1L513.6 423.7L512.4 424L512.4 424.4L512.8 424.4L513.6 424.2L514.4 423.6L514.7 422.8L514.7 422ZM527.5 421.6L527.2 421.6L527.2 422.2L527.1 422.5L526.7 422.7L526.1 422.6L525.7 422L525.7 421.7L525.4 421.7L525.5 422.5L525.3 423.1L524.7 423.7L523.5 424L523.5 424.4L524 424.4L524.9 424L525.4 423.7L525.8 422.9L526.1 423L527.1 423L527.3 422.9L527.5 422.5ZM523.1 421.6L522.7 421.6L522.7 422.4L522.2 422.7L521.9 422.7L521.6 422.5L521.4 421.4L521 421.4L521.1 421.7L520.6 422.4L519.9 422.6L519.4 422.6L519.3 422.7L518.1 422.6L517.9 422.5L517.5 422L517.6 421.5L517.3 421.6L517.2 422.2L517.6 422.8L518.2 423L519.6 423L519.7 422.9L520.6 422.8L521 422.5L521.7 423L522.6 423L522.8 422.9L523 422.6ZM519.3 421L519.3 421.2L519.6 421.4L519.7 421ZM518.7 421L518.7 421.2L518.9 421.4L519 421ZM500.7 421.4L500.4 421L500 420.9L499.3 421L498.9 421.4L499 422L499.7 422.4L499.9 422.4L500.2 422.6L500.2 422.8L499.8 423.1L499 423.4L498.2 423.4L498 423.3L497.7 422.8L497.9 422.2L497.5 422.2L497.4 422.5L497.4 423L497.8 423.6L498.4 423.8L499.4 423.7L500 423.5L500.5 423.1L500.6 422.5L500.3 422.1L499.6 421.9L499.3 421.6L499.7 421.2L500 421.2L500.3 421.4L500.4 421.6L500.7 421.6ZM528.4 423L529.3 423L530 422.7L530.3 423L531.6 423L531.7 422.9L532 423.1L532.8 423.1L533.2 422.8L533.2 421.9L532.9 421.6L532 421.6L531.7 421.9L531.6 422.4L531.2 422.7L530.7 422.7L530.1 422.2L530.1 421.8L529.8 421.1L529.4 420.8L529 420.8L529.4 421.2L529.6 421.7L529.6 422.2L529.3 422.6L528.4 422.7ZM532.1 422L532.6 421.9L532.9 422.2L532.9 422.6L532.7 422.8L532 422.7L531.9 422.5ZM502.6 420.8L502.1 420.8L502.6 421.4L502.8 421.8L502.8 422.1L502.2 422.7L501.5 422.6L501.5 422.9L501.7 423L502.4 423L502.8 422.8L503.2 422.4L503.1 421.4ZM510.6 422.1L509.9 421.2L509.5 420.9L508.7 420.6L508.7 420.9L509 421.1L508.7 421.4L508.6 421.7L508.8 422.5L508.7 422.7L507.9 422.7L507.6 422.4L507.6 421.6L507.1 421.6L507.1 422.4L506.8 422.7L506.2 422.7L505.9 422.4L505.8 421.8L505.6 421.7L505.3 421.7L505.4 421.9L505.4 422.8L505.3 423L504.6 423.7L504.2 423.9L503.4 424L503.4 424.4L504.4 424.3L505.1 423.9L505.5 423.5L505.8 422.9L506 423L507 423L507.3 422.8L507.7 423L509 423L509.1 422.9L509.7 423.3L510.1 423.3L510.6 422.9L510.7 422.6L510.6 422.5ZM510 421.9L510.2 422.1L510.4 422.6L510 422.9L509.8 422.9L509.6 422.7ZM509.5 421.5L509.6 421.6L509.6 422L509.2 422.5L509 422.2L508.9 421.7L509.1 421.5ZM511.6 419.1L511.6 423L511.9 423L511.9 419.1ZM514.3 427.5L514.2 427.9L514.6 427.9L514.6 427.6ZM513.7 427.5L513.6 427.9L513.9 427.9L513.9 427.6ZM516.1 426.7L516 427.1L516.4 427.1L516.4 426.9ZM518 426.2L518 430.1L518.4 430.1L518.4 426.2ZM512.2 426.2L512.2 429.7L512.4 430L512.7 430.1L513.8 430.1L514 429.9L514.3 430.1L516.1 430.1L516.7 429.8L516.9 429.3L517 428.5L516.9 428.4L516.9 428.1L516.4 427.6L515.7 427.8L515.4 428.2L515.4 428.6L515.7 429.1L515.9 429.2L516.5 429.1L516.6 429.2L516.1 429.7L515.8 429.8L514.7 429.8L514.2 429.4L514.2 428.6L513.9 428.6L513.8 429.5L513.4 429.8L512.9 429.8L512.5 429.4L512.5 426.2ZM515.8 428.3L516 428.1L516.4 428.1L516.6 428.3L516.6 428.6L516.4 428.9L516 428.9L515.8 428.6Z"/>
<path fill="#333" d="M196.1 68.3L196.1 68.5L196.4 68.6L196.5 68.3ZM190.4 66.3L189.7 66.3L189.8 67.1L189.6 67.7L188.8 68.3L187.8 68.4L187.8 69L188.7 69L190 68.5L190.4 68.1L190.6 67.5L190.6 66.6ZM162.9 66.4L162.8 66.3L162.1 66.3L162 66.4L162.1 66.6L162.1 67.4L162 67.6L161.2 68.3L160.1 68.4L160.1 69L161.1 69L162.1 68.6L162.9 67.7ZM190.9 69L192.8 68.9L193.4 68.5L193.8 68.2L194 67.6L195.5 67.6L195.6 67.5L196 67.5L197 67L197.4 67.4L197.8 67.6L198.8 67.6L199.2 67.5L199.5 67.7L200.5 67.7L200.8 67.6L201.2 67.3L201.2 66.6L200.9 66.3L200.5 66.1L199.7 66.1L199.5 66.2L198.7 67.1L198 67.1L197.7 66.8L197.8 66.5L197.8 66.1L197.7 66L196.9 65.7L196.2 65.7L196.1 65.6L195 65.6L195 66.2L196.6 66.3L196.7 66.4L195.8 67L194.1 67.1L193.9 66.8L193.8 66.4L193.4 66.1L192.1 66.1L191.6 66.4L191.5 66.7L191.6 67.3L191.9 67.5L192.9 67.6L193 67.7L192.3 68.3L190.9 68.4ZM199.8 67.1L199.8 66.8L200.1 66.6L200.4 66.8L200.2 67.2ZM192.4 66.7L192.8 66.5L193.1 67L193 67.1L192.6 67.1ZM190 65.3L190 65.6L190.2 65.6L190.2 65.4ZM181.8 65.6L181.3 65.3L180 65.3L179.5 65.6L179.5 66.2L179.7 66.4L180.4 66.6L180.8 67L180.8 67.2L180.3 67.5L179 67.6L178.5 67.3L178.6 66.6L177.8 66.6L177.6 67.1L177.7 67.6L178.2 68.1L178.5 68.2L180 68.2L181.1 67.9L181.5 67.5L181.7 67L181.2 66.4L180.5 66.2L180.3 66L180.5 65.7L180.9 65.7L181.2 66L181.8 66ZM169.9 65.2L169.6 65.2L169.6 65.5L169.9 65.4ZM169 65.2L169 65.5L169.2 65.5L169.2 65.2ZM169.5 64.5L169.3 64.5L169.3 64.8L169.5 64.7ZM182.7 63.7L182.7 67L182.9 67.5L183.1 67.6L185.2 67.6L185.5 67.5L186 67.9L186.8 67.9L187.2 67.7L187.5 67.4L187.6 66.8L187.2 66.1L186.3 65.4L185.2 65.1L184.9 65.1L184.9 65.6L185.1 65.7L184.7 66.2L184.7 66.7L184.9 67L184.8 67.1L183.9 67.1L183.6 66.8L183.6 63.7ZM186.7 66.6L186.8 66.7L186.8 67.1L186.6 67.3L186.4 67.3L186.3 67.2ZM185.5 66.4L185.8 66.3L185.9 66.6L185.6 66.8L185.5 66.7ZM175.4 63.7L173 64.4L172.6 64.7L172.6 65.3L173.7 66.7L173.5 67.1L171.9 67.1L171.6 66.7L171.6 65.7L170.8 65.7L170.8 66.5L170.5 67L170.2 67L170 66.7L170 66.2L169.9 66.1L169.2 66.1L169.1 66.2L169.1 66.8L168.9 67.1L168.4 66.8L168.2 66.1L167.5 66.1L167.4 66.2L167.4 66.8L167.1 67.1L166.4 67.1L166.1 66.3L165.7 66.1L164.4 66.1L164.2 66.2L163.9 66.5L163.9 67.2L164.5 67.6L165.2 67.6L165.3 67.9L164.6 68.3L163.3 68.4L163.3 69L164.4 69L164.5 68.9L165.4 68.8L166.2 68.1L166.2 67.9L166.4 67.6L167.5 67.6L167.9 67.4L168.2 67.6L169.1 67.6L169.5 67.3L170.1 67.6L171 67.6L171.1 67.5L171.4 67.6L174 67.6L174.4 67.5L174.6 67.3L174.7 66.8L174.6 66.5L173.6 65.2L173.6 64.9L174.1 64.6L175.3 64.3L175.4 64.2ZM164.7 66.7L164.9 66.5L165.2 66.5L165.4 66.7L165.4 67L165.3 67.1L164.9 67.1Z"/>
<path fill="#666" d="M188.8 73.6L188.8 74.1L189.3 74.1L189.3 73.6ZM192.6 71.3L192.1 71.4L191.9 71.7L191.8 71.6L191.8 71.3L191.4 71.3L191.4 74.1L191.8 74.1L191.8 72.5L191.9 72.4L191.9 72.1L192.1 71.7L192.6 71.6ZM190.2 71.3L190.2 74.1L190.6 74.1L190.6 71.3ZM186 71.3L186 71.5L187.3 71.5L187.4 71.7L186 73.5L185.9 74.1L187.9 74.1L187.9 73.9L186.5 73.9L186.4 73.8L187.9 71.6L187.9 71.3ZM183.8 71.3L183.4 71.4L183.1 71.7L182.9 72.3L182.9 73.1L183.1 73.6L183.4 74L184.5 74.1L184.8 74L185.2 73.5L184.9 73.4L184.3 73.9L183.9 73.9L183.4 73.5L183.3 72.9L183.4 72.7L185.4 72.7L185.2 72L184.8 71.4ZM183.3 72.1L183.6 71.7L184.2 71.5L184.8 71.8L184.9 72.4L184.8 72.5L183.4 72.5L183.3 72.4ZM180 71.3L180.4 72.3L181 74.1L181.5 74.1L181.7 73.5L181.9 73.2L182.1 72.3L182.6 71.3L182.1 71.3L181.4 73.4L181.2 73.6L180.4 71.3ZM177.5 71.5L177.4 72L177.7 72L177.7 71.8L178.2 71.5L178.6 71.5L179 71.7L179.1 72.3L179 72.4L177.8 72.4L177.3 72.9L177.2 73.2L177.3 73.8L177.7 74.1L178.4 74.1L179 73.6L179.3 74.1L179.9 74.1L179.9 73.9L179.6 73.9L179.4 73.5L179.4 71.8L179.3 71.6L178.8 71.3L178.1 71.3ZM177.6 73L178.1 72.6L179 72.6L179.1 72.7L179 73.4L178.3 73.9L178 73.9L177.6 73.5ZM176.5 71.3L176.2 71.3L176.2 74.7L175.7 75L175.7 75.2L176.2 75.2L176.4 75.1L176.5 74.9ZM173.8 71.3L173.1 71.8L173.1 72.2L173 72.3L173.1 73.5L173.8 74.1L174.9 74L175.3 73.6L175.5 73L175.4 72L174.9 71.4ZM174.1 71.5L174.7 71.6L175 72.1L175 73.2L174.9 73.5L174.5 73.9L173.8 73.8L173.5 73.3L173.5 72.1L173.8 71.6ZM168.6 71.3L168.6 74.1L169.1 74.1L169.1 72.1L169.2 71.8L169.6 71.5L170.1 71.6L170.3 72L170.3 74.1L170.7 74.1L170.7 72.3L170.8 72L171.3 71.5L171.6 71.5L172 72.1L172 74.1L172.3 74.1L172.3 71.8L171.9 71.3L171.3 71.3L170.8 71.7L170.2 71.3L169.6 71.3L169.1 71.7L169 71.6L169 71.3ZM190.2 70.3L190.2 70.6L190.6 70.6L190.6 70.3ZM176.2 70.3L176.2 70.6L176.5 70.6L176.5 70.3Z"/>
<path fill="#333" stroke="#333" stroke-width="0.1" d="M464.9 190.9L464.9 191.2L465.2 191.3L465.3 190.9ZM470.2 190.4L470.1 190.7L470.4 190.7L470.4 190.5ZM469.5 190.4L469.5 190.7L469.7 190.7L469.7 190.5ZM465.4 190.3L465.3 190.6L465.6 190.6L465.6 190.4ZM464.7 190.3L464.6 190.6L464.9 190.6L464.9 190.4ZM427.3 189.4L427.3 189.9L427.6 189.9L427.6 189.4ZM433.1 188.6L432.9 188.6L433 189.6L432.6 190.3L431.7 190.8L431 190.9L431 191.3L431.4 191.3L432.2 191L432.6 190.8L433.1 190.4L433.3 189.8L433.3 188.8ZM465.3 188.5L464.9 188.5L464.9 189.1L464.8 189.4L464.5 189.6L463.8 189.5L463.5 188.9L463.5 188.6L463.2 188.6L463.3 189.4L463 190L462.5 190.6L461.3 190.9L461.3 191.3L461.8 191.3L462.7 190.9L463.2 190.6L463.6 189.8L463.8 189.9L464.8 189.9L465 189.8L465.3 189.4ZM460.4 188.4L459.8 188.4L459.4 188.8L459.4 189.5L459.5 189.7L459.9 189.9L460.4 189.9L460.5 190.1L459.9 190.7L458.7 190.9L458.7 191.3L459.4 191.3L460.1 191L460.6 190.7L460.9 190L460.9 189ZM459.7 189L459.9 188.8L460.3 188.8L460.5 189L460.6 189.5L460.5 189.6L460.1 189.6L459.7 189.3ZM452.6 188.1L452.1 188.7L452.1 189.5L452.2 189.7L452.7 190L453.2 190L453.8 189.8L454.1 189.3L454 188.8L453.5 188.3ZM452.6 188.7L452.8 188.5L453.2 188.6L453.7 189L453.7 189.4L453.2 189.7L452.8 189.7L452.5 189.4ZM449.5 188.5L449.1 188.5L449.1 189.1L448.9 189.5L448.7 189.6L447.9 189.6L447.8 189.5L447.9 189.1L447.9 188.5L447.8 188.3L447.5 188L446.9 188L446.4 188.4L446.6 189.5L446.4 189.6L445.6 189.6L445.2 189.4L445.2 189L445.3 188.9L445.2 188.8L445.2 188.5L445 188.3L444 188.1L443.2 188.6L442.6 189.3L442.3 188.9L442 188.9L442.1 189L442.1 190L442 190.4L441.7 190.7L441.1 190.9L440.8 190.9L440.1 190.6L440 190L440.1 189.9L440.1 189.5L440.3 189.1L439.9 189.1L439.7 189.8L439.7 190.6L440.1 191.2L441.4 191.3L441.9 191L442.3 190.6L442.6 189.8L442.8 189.9L444.1 189.9L444.2 189.8L445 189.7L445.3 189.9L446.8 189.9L446.9 189.8L449 189.9L449.2 189.8L449.5 189.4ZM444.9 188.8L444.9 189L444.2 189.5L443.8 189.5L443.7 189.6L443 189.6L442.9 189.5L443.7 188.7L444.1 188.5L444.6 188.5ZM447.2 188.4L447.6 188.7L447.5 189.1L447.1 189.4L446.9 189.1L446.8 188.7ZM455.5 187.7L456 188.4L456.1 189L455.9 189.4L455.5 189.6L454.9 189.6L454.9 189.9L455.8 189.9L456.2 189.6L456.5 189.6L456.6 189.8L456.8 189.9L457.8 189.9L458 189.8L458.3 189.4L458.3 188.5L457.9 188.5L457.9 189.1L457.8 189.4L457.5 189.6L457.1 189.6L456.6 189.3L456.5 188.6L456.1 187.9L455.9 187.7ZM436.5 187.7L436.1 187.7L436.8 188.5L436.8 189.1L436.4 189.5L436.1 189.6L435.5 189.5L435.5 189.8L435.8 189.9L436.4 189.9L437.1 189.5L437.2 188.6L436.8 187.8ZM430.2 187.7L429.6 187.7L430.2 188.3L430.4 188.7L430.4 189L429.7 189.6L429.1 189.5L429.1 189.8L429.3 189.9L430 189.9L430.4 189.7L430.7 189.3L430.6 188.3ZM458 187.4L457.9 187.7L458.3 187.7L458.3 187.5ZM449.2 187.4L449.1 187.7L449.5 187.7L449.5 187.5ZM447.3 187L447.3 187.3L447.6 187.4L447.7 187ZM446.7 187L446.7 187.3L446.9 187.4L447 187ZM471.2 186L471.2 189.9L471.6 189.9L471.6 186ZM468.1 186L468.1 189.3L468.2 189.6L468.6 189.9L469.6 189.9L469.8 189.8L470.1 189.5L470.2 188.5L469.7 188.5L469.7 189.3L469.3 189.6L468.8 189.6L468.5 189.3L468.5 186ZM434.3 186L434.3 189.9L434.6 189.9L434.6 186ZM427.2 186L426.5 186.4L426.4 186.6L426.4 187.3L427.3 188.3L427.3 188.8L427.6 188.9L427.6 188.1L426.8 187.3L426.7 186.8L427.2 186.4L427.7 186.4L428.3 186.7L428.3 186.3L427.6 186ZM472.3 185L471.8 185.4L471.3 185.4L471.1 185.1L470.7 185.1L470.5 185.4L470.5 185.6L470.8 185.2L471.6 185.6L472.2 185.4ZM655.2 196.4L655.2 196.7L655.4 196.8L655.6 196.4ZM660.5 195.9L660.4 196.2L660.7 196.2L660.7 196ZM659.8 195.9L659.8 196.2L660 196.2L660 196ZM655.7 195.8L655.6 196.1L655.9 196.1L655.9 195.9ZM655 195.8L654.9 196.1L655.2 196.1L655.2 195.9ZM617.5 194.9L617.5 195.4L617.8 195.4L617.8 194.9ZM623.3 194.1L623.1 194.1L623.2 195.1L622.9 195.8L622 196.3L621.2 196.4L621.2 196.8L621.6 196.8L622.4 196.5L622.9 196.3L623.3 195.9L623.5 195.3L623.5 194.3ZM655.6 194L655.2 194L655.2 194.6L655.1 194.9L654.8 195.1L654.1 195L653.8 194.4L653.8 194.1L653.4 194.1L653.5 194.9L653.3 195.5L652.8 196.1L651.5 196.4L651.5 196.8L652.1 196.8L653 196.4L653.4 196.1L653.9 195.3L654.1 195.4L655.1 195.4L655.3 195.3L655.6 194.9ZM650.6 193.9L650.1 193.9L649.6 194.3L649.6 195L649.8 195.2L650.2 195.4L650.6 195.4L650.8 195.7L650.2 196.2L649 196.4L649 196.8L649.6 196.8L650.4 196.5L650.9 196.2L651.2 195.5L651.2 194.5ZM650 194.5L650.2 194.3L650.5 194.3L650.8 194.5L650.9 195L650.8 195.1L650.4 195.1L650 194.8ZM642.8 193.6L642.4 194.2L642.4 195L642.5 195.2L642.9 195.5L643.5 195.5L644.1 195.3L644.4 194.8L644.3 194.3L643.7 193.8ZM642.8 194.2L643.1 194L643.5 194.1L643.9 194.5L643.9 194.9L643.5 195.2L643.1 195.2L642.7 194.9ZM639.7 194L639.4 194L639.4 194.6L639.1 195L638.9 195.1L638.1 195.1L638 195L638.1 194.6L638.1 194L638 193.8L637.7 193.5L637.1 193.5L636.7 193.9L636.8 195L636.7 195.1L635.8 195.1L635.5 194.9L635.5 194.5L635.6 194.4L635.5 194.3L635.5 194L635.2 193.8L634.2 193.6L633.5 194.1L632.8 194.8L632.6 194.4L632.2 194.4L632.3 194.5L632.3 195.5L632.2 195.9L631.9 196.2L631.3 196.4L631 196.4L630.3 196.1L630.2 195.5L630.3 195.4L630.3 195L630.6 194.6L630.1 194.6L629.9 195.3L629.9 196.1L630.3 196.7L631.7 196.8L632.1 196.5L632.6 196.1L632.8 195.3L633 195.4L634.3 195.4L634.5 195.3L635.2 195.2L635.6 195.4L637 195.4L637.1 195.3L639.3 195.4L639.5 195.3L639.7 194.9ZM635.1 194.3L635.1 194.5L634.5 195L634 195L633.9 195.1L633.2 195.1L633.1 195L633.9 194.2L634.3 194L634.8 194ZM637.5 193.9L637.8 194.2L637.7 194.6L637.4 194.9L637.1 194.6L637 194.2ZM645.7 193.2L646.3 193.9L646.4 194.5L646.2 194.9L645.7 195.1L645.2 195.1L645.2 195.4L646.1 195.4L646.5 195.1L646.7 195.1L646.8 195.3L647.1 195.4L648.1 195.4L648.3 195.3L648.5 194.9L648.5 194L648.2 194L648.2 194.6L648.1 194.9L647.7 195.1L647.4 195.1L646.8 194.8L646.7 194.1L646.4 193.4L646.2 193.2ZM626.8 193.2L626.3 193.2L627 194L627 194.6L626.6 195L626.3 195.1L625.8 195L625.8 195.3L626 195.4L626.6 195.4L627.3 195L627.4 194.1L627 193.3ZM620.4 193.2L619.8 193.2L620.4 193.8L620.6 194.2L620.6 194.5L619.9 195.1L619.3 195L619.3 195.3L619.5 195.4L620.2 195.4L620.6 195.2L621 194.8L620.8 193.8ZM648.3 192.9L648.2 193.2L648.5 193.2L648.5 193ZM639.5 192.9L639.4 193.2L639.7 193.2L639.7 193ZM637.6 192.5L637.6 192.8L637.8 192.9L637.9 192.5ZM636.9 192.5L636.9 192.8L637.1 192.9L637.3 192.5ZM661.5 191.5L661.5 195.4L661.9 195.4L661.9 191.5ZM658.3 191.5L658.3 194.8L658.5 195.1L658.9 195.4L659.9 195.4L660.1 195.3L660.4 195L660.5 194L660 194L660 194.8L659.6 195.1L659.1 195.1L658.8 194.8L658.8 191.5ZM624.5 191.5L624.5 195.4L624.9 195.4L624.9 191.5ZM617.4 191.5L616.7 191.9L616.6 192.1L616.6 192.8L617.5 193.8L617.5 194.3L617.8 194.4L617.8 193.6L617 192.8L616.9 192.3L617.4 191.9L617.9 191.9L618.5 192.2L618.5 191.7L617.8 191.5ZM662.6 190.5L662.1 190.9L661.6 190.9L661.4 190.6L661 190.6L660.8 190.9L660.8 191.1L661.1 190.7L661.9 191.1L662.5 190.9ZM700.8 57.4L700.7 57.7L701 57.7L701 57.5ZM700.2 57.4L700.2 57.7L700.4 57.7L700.4 57.5ZM680.5 57.4L680.4 57.7L680.7 57.7L680.7 57.5ZM679.8 57.4L679.8 57.7L680 57.7L680 57.5ZM678.9 57.4L678.8 57.7L679.2 57.7L679.2 57.5ZM678.3 57.4L678.2 57.7L678.5 57.7L678.5 57.5ZM630 56.4L630 56.9L630.3 56.9L630.3 56.4ZM668.7 55.6L668.5 55.6L668.6 56.4L668.3 57L667.8 57.6L666.6 57.9L666.6 58.3L667 58.3L667.8 58L668.6 57.5L668.9 56.7L668.9 56ZM647 55.6L646.8 55.6L646.9 56.4L646.7 57L646.2 57.6L645 57.9L645 58.3L645.4 58.3L646.2 58L646.9 57.5L647.2 56.7L647.2 56ZM637.7 55.7L637.5 55.6L637.3 55.7L637.4 55.8L637.4 56.7L637.2 57.2L636.9 57.5L636.2 57.8L635.4 57.9L635.4 58.3L636.4 58.1L637.1 57.8L637.5 57.4L637.7 56.9ZM652.5 55.2L652.1 55.2L652.3 55.6L652.3 56.6L651.6 57.4L651.3 57.4L651.2 57.5L650.5 57.4L650.1 56.9L650.1 56.1L650.2 55.8L649.8 55.8L649.8 56.4L649.7 56.5L649.8 57.2L650.2 57.6L650.6 57.8L651.4 57.8L652.2 57.5L652.4 57.3L652.7 56.5L652.7 55.8ZM684.5 55.5L684.2 55.5L684.2 56.2L684.1 56.4L683.8 56.6L683.2 56.6L682.7 56.3L683.1 55.7L683.1 55.3L682.8 55.1L681.9 55.1L681.6 55.3L681.5 55.6L681.9 56.3L681.5 56.6L680.8 56.6L680.5 56.4L680.5 55.5L680 55.5L680 56.3L679.6 56.6L679.3 56.6L678.8 56.3L678.8 55.5L678.5 55.5L678.4 56.4L678.1 56.6L677.4 56.5L677.1 56.1L677.1 55.6L676.7 55.6L676.8 55.7L676.8 56.7L676.5 57.2L675.9 57.7L674.8 57.9L674.8 58.3L675.5 58.3L676.4 57.8L676.9 57.4L677.2 56.8L677.4 56.9L678.4 56.9L678.6 56.7L678.9 56.9L679.9 56.9L680.3 56.7L680.6 56.9L681.6 56.9L682.3 56.5L683 56.9L684.1 56.9L684.3 56.8L684.5 56.4ZM682 55.6L682.2 55.4L682.4 55.4L682.7 55.6L682.3 56ZM641 54.8L640.5 54.8L641 55.3L641.2 55.7L641.2 56.1L640.6 56.6L639.9 56.5L639.9 56.8L640.1 56.9L640.8 56.9L641.2 56.7L641.6 56.3L641.5 55.3ZM632.3 54.8L632.8 55.3L633 56.1L632.4 56.6L631.7 56.6L631.7 56.9L632.7 56.9L633.1 56.6L633.7 56.9L634.7 56.9L635.1 56.4L635.1 55.5L634.8 55.5L634.8 56.1L634.6 56.5L633.9 56.6L633.5 56.3L633.4 55.6L632.8 54.8ZM651.1 54.6L650.9 54.6L650.9 55L651.1 54.9ZM696.1 55.2L695.6 54.5L695 54.5L694.6 54.9L694.5 55.2L694.6 55.7L695 56.1L695.5 56.1L695.6 56.2L695.3 56.5L695 56.5L694.9 56.6L693.8 56.6L693.4 56.3L693.5 56.2L693.5 55.6L693.2 55.3L692.8 55.2L692.2 55.2L691.3 55.7L690.9 56.3L690.6 56.1L690.6 55.7L690.2 55.7L690.2 56.2L690 56.5L689.8 56.6L689.2 56.6L688.8 56.3L688.7 55.6L688.1 54.8L687.6 54.8L688.1 55.3L688.4 56.1L687.7 56.6L687 56.6L687 56.9L688 56.9L688.5 56.6L689 56.9L690 56.9L690.4 56.6L690.9 56.9L692.3 56.9L692.8 56.7L693.3 56.7L693.6 56.9L695.2 56.9L695.6 56.8L695.9 56.5L696.1 55.8ZM695.5 56.1L695.6 56L695.7 56.1L695.6 56.2ZM693.2 56L692.5 56.5L692 56.5L691.8 56.6L691.3 56.6L691.2 56.5L691.7 55.8L692.3 55.5L692.7 55.5L692.9 55.6ZM694.9 55.2L695.1 55L695.5 55L695.7 55.2L695.7 55.5L695.5 55.7L695.1 55.7L694.9 55.5ZM664.6 54.5L664.6 54.8L664.8 54.9L665 54.5ZM664.3 54.5L664.1 54.5L664.1 54.9L664.3 54.8ZM684.6 54.4L684.5 54.8L684.9 54.8L684.9 54.5ZM684 54.4L683.9 54.8L684.2 54.8L684.2 54.5ZM661.5 54.4L661.3 54.8L661.7 54.8L661.7 54.5ZM634.9 54.4L634.8 54.8L635.1 54.8L635.1 54.5ZM682.4 54.2L682.2 54.2L682.2 54.5L682.4 54.4ZM664.3 53.9L664.3 54.1L664.5 54.2L664.6 53.9ZM695.6 53.7L695.5 54L695.8 54L695.8 53.8ZM694.9 53.7L694.8 54L695.1 54L695.1 53.8ZM701.8 53.1L701.8 56.9L702.1 56.9L702.1 53.1ZM698.7 53.1L698.7 56.4L699.2 56.9L700.3 56.9L700.5 56.8L700.7 56.5L700.8 55.5L700.4 55.5L700.4 56.3L700.2 56.5L699.5 56.6L699.2 56.4L699.1 56.1L699.1 53.1ZM669.8 53.1L669.8 56.4L670.2 56.9L672 56.9L672.2 56.8L672.5 56.4L672.5 55.7L672.1 55.1L671.5 54.5L671.5 54.3L672.2 53.9L673.2 53.6L673.3 53.4L673.3 53.1L672.3 53.4L671.2 54L671.1 54.5L672.2 56L672.1 56.4L671.6 56.6L670.5 56.6L670.2 56.4L670.1 56.1L670.1 53.1ZM659.7 53.1L659.7 56.5L659.9 56.8L660.1 56.9L661.2 56.9L661.5 56.7L661.8 56.9L662.9 56.9L663.3 56.6L663.6 56.9L664.3 56.9L664.7 56.6L665.2 56.9L665.6 56.9L666 56.6L666.3 56L666.3 55.1L665.8 55.1L665.8 56.3L665.5 56.6L665 56.2L664.8 55.4L664.5 55.5L664.4 56.3L664.1 56.6L663.5 56.3L663.4 55.5L663.3 55.4L663.1 55.5L663.1 56.1L663 56.3L662.6 56.6L662.1 56.6L661.7 56.3L661.7 55.5L661.3 55.5L661.3 56.1L661.1 56.5L660.9 56.6L660.4 56.6L660 56.3L660 53.1ZM653.7 53.1L653.7 56.5L653.9 56.8L654.1 56.9L655.2 56.9L655.7 56.6L656 56.9L656.6 56.9L656.9 56.8L657.1 56.5L657.5 56.9L658 56.9L658.5 56.5L658.6 56.3L658.6 55.1L658.5 55L658.3 55L658.3 56.1L658.2 56.4L657.7 56.6L657.3 56.1L657.3 55.4L657 55.4L656.9 55.6L656.9 56.2L656.4 56.6L656.1 56.5L655.9 56.2L655.9 55.4L655.4 55.4L655.4 56.2L654.9 56.6L654.2 56.5L654 56.2L654 53.1ZM644.2 53.1L644.2 56.9L644.5 56.9L644.5 53.1ZM638.7 53.1L638.7 56.9L639 56.9L639 53.1ZM629.9 53.1L629.2 53.4L629.1 53.7L629.1 54.3L630 55.3L630 55.8L630.3 56L630.3 55.2L629.5 54.3L629.4 53.9L629.9 53.4L630.4 53.4L631 53.8L631 53.3L630.3 53.1ZM701.1 52.6L701.5 52.3L702.2 52.7L702.9 52.3L702.9 52.2L702.7 52.2L702.5 52.5L701.9 52.5L701.6 52.2L701.4 52.2ZM735.5 262.4L735.4 262.7L735.7 262.7L735.7 262.5ZM734.8 262.4L734.8 262.7L735 262.7L735 262.5ZM703.4 262.4L703.2 262.5L703.2 262.7L703.4 262.7ZM698.6 262.4L698.4 262.7L698.8 262.7L698.8 262.5ZM697.9 262.4L697.8 262.7L698.1 262.7L698.1 262.5ZM677.3 262.4L677.2 262.7L677.5 262.7L677.5 262.5ZM676.6 262.4L676.5 262.7L676.8 262.7L676.8 262.5ZM675.6 262.4L675.5 262.7L675.8 262.7L675.8 262.5ZM674.9 262.4L674.9 262.7L675.2 262.7L675.2 262.5ZM655.1 261.4L655.1 261.9L655.4 261.9L655.4 261.4ZM726.4 260.6L726.2 260.6L726.3 261.6L725.9 262.3L725.1 262.8L724.3 262.9L724.3 263.2L724.7 263.2L725.5 263L725.9 262.8L726.4 262.4L726.6 261.8L726.6 260.8ZM686.8 260.6L686.6 260.6L686.7 261.6L686.4 262.3L685.5 262.8L684.7 262.9L684.7 263.2L685.1 263.2L685.9 263L686.4 262.8L686.8 262.4L687 261.8L687 260.8ZM687.2 263.2L687.9 263.2L688.7 263L689.1 262.7L689.6 261.9L690.8 261.9L691 261.8L691.3 262L692.1 262L692.6 261.5L692.6 261L692.3 260.6L692.1 260.5L691.3 260.5L690.9 260.8L690.8 261.3L690.5 261.6L689.7 261.6L689.5 261.4L689.4 260.7L688.9 260.4L688.5 260.4L687.9 260.8L687.9 261.5L688.5 261.9L688.9 261.9L689 262.1L688.5 262.7L687.2 262.9ZM691.6 260.8L691.9 260.8L692.1 261L692.1 261.5L691.9 261.7L691.6 261.7L691.2 261.5L691.2 261.1ZM688.5 260.8L688.9 260.8L689.1 261.1L689.1 261.5L689 261.6L688.5 261.5L688.2 261.1ZM710.1 260.3L710 260.1L709.6 260.1L709.8 260.9L709.9 261L709.8 261.6L709.3 262.3L708.8 262.5L708 262.4L707.5 261.8L707.6 260.8L707.3 260.8L707.2 260.9L707.2 262L707.3 262.3L708.1 262.8L708.9 262.8L709.5 262.6L709.9 262.3L710.2 261.6ZM699.3 261.9L700.2 261.9L700.8 261.6L701.2 261.9L702.5 261.9L703.3 261.6L704.3 260.8L704.5 260.8L704.7 260.7L704.7 260.4L703.2 259.9L702.2 259.9L702.2 260.3L702.3 260.4L703.4 260.4L704 260.6L702.8 261.5L701.5 261.6L701 261.1L701 260.7L700.7 260L700.3 259.7L699.9 259.7L700.3 260.1L700.6 260.6L700.6 261.1L700.2 261.5L699.3 261.6ZM695.7 259.7L696.2 260.4L696.3 261L696.1 261.4L695.7 261.6L695.1 261.6L695.1 261.9L696 261.9L696.4 261.6L696.7 261.6L696.8 261.8L697 261.9L698 261.9L698.4 261.4L698.4 260.5L698.1 260.5L698 261.4L697.7 261.6L697.3 261.6L696.8 261.3L696.7 260.6L696.3 259.9L696.1 259.7ZM683.8 259.7L683.4 259.7L684 260.5L684 261.1L683.7 261.5L683.4 261.6L682.8 261.5L682.8 261.8L683 261.9L683.7 261.9L684.4 261.5L684.5 260.6L684 259.8ZM672.2 261.9L673.1 261.9L673.6 261.6L674 261.9L675 261.9L675.4 261.7L675.7 261.9L676.7 261.9L677.2 261.4L677.2 260.5L676.8 260.5L676.7 261.4L676.4 261.6L675.9 261.6L675.6 261.4L675.6 260.5L675.2 260.5L675.2 261.3L674.7 261.6L674.4 261.6L673.8 261.1L673.7 260.5L673.2 259.7L672.7 259.7L673.2 260.1L673.4 260.6L673.4 261.1L673.1 261.5L672.2 261.6ZM708.3 259.6L708.3 259.9L708.5 259.9L708.5 259.6ZM722.6 259.5L722.4 259.5L722.4 259.8L722.6 259.7ZM721.7 259.5L721.7 259.8L722 259.8L722 259.5ZM669.7 261.1L669.5 260.7L668.8 260L667.8 259.5L667.8 259.8L668.1 260L667.7 260.4L667.7 261L667.8 261.1L667.8 261.5L667.7 261.6L667.1 261.6L666.6 261.3L666.5 261L666.5 260L666.4 259.9L666.2 259.9L666.2 261L666.1 261.4L665.6 261.6L665.2 261L665.2 260.4L664.8 260.4L664.7 260.6L664.7 261.1L664.3 261.6L664 261.5L663.7 261.1L663.7 260.4L663.3 260.4L663.3 261.1L662.7 261.6L662.3 261.6L662 261.4L662 260.5L661.5 260.5L661.5 261.3L661.1 261.6L660.7 261.6L660.3 261.3L660.3 260.5L660 260.5L660 261L659.7 261.5L659.1 261.6L658.6 261.3L658.5 260.6L658 259.7L657.4 259.7L658 260.3L658.2 261L657.5 261.6L656.9 261.6L656.9 261.9L657.9 261.9L658.3 261.6L658.9 261.9L659.9 261.9L660.1 261.7L660.4 261.9L661.4 261.9L661.7 261.7L662.1 261.9L663.1 261.9L663.5 261.6L664 261.9L664.5 261.9L664.7 261.8L665 261.5L665.4 261.9L666 261.9L666.4 261.7L666.7 261.9L668.1 261.9L668.3 261.8L668.5 262L669.3 262.1L669.5 262L669.7 261.7ZM669.1 260.7L669.4 261.1L669.4 261.6L669.2 261.8L668.8 261.8L668.7 261.5L668.9 261.3L668.9 260.8ZM668.2 260.4L668.5 260.4L668.7 260.7L668.4 261.3L668.1 261L668.1 260.5ZM719.1 259.4L719 259.7L719.3 259.7L719.3 259.5ZM680.4 259.4L680.3 259.7L680.6 259.7L680.6 259.5ZM679.7 259.4L679.6 259.7L679.9 259.7L679.9 259.5ZM662 259.4L661.9 259.7L662.2 259.7L662.2 259.5ZM661.3 259.4L661.3 259.7L661.5 259.7L661.5 259.5ZM660.1 259.4L660 259.7L660.3 259.7L660.3 259.5ZM722.3 258.8L722.1 258.8L722.1 259.1L722.3 259ZM736.5 258L736.5 261.9L736.9 261.9L736.9 258ZM733.4 258L733.4 261.3L733.5 261.6L733.9 261.9L734.9 261.9L735.1 261.8L735.4 261.5L735.5 260.5L735 260.5L735 261.3L734.6 261.6L734.2 261.6L733.8 261.3L733.8 258ZM727.6 258L727.6 261.5L727.7 261.7L728.1 261.9L729.7 261.9L730.3 261.5L730.4 260.8L729.3 259.3L729.7 258.9L730.9 258.5L731 258.4L731 258L729.5 258.7L729.3 258.7L728.9 259L728.9 259.6L729.9 260.8L729.9 261.3L729.5 261.6L728.3 261.6L727.9 261.3L727.9 258ZM717.3 258L717.3 261.4L717.7 261.9L718.8 261.9L719 261.8L719.3 261.8L719.4 261.9L720.5 261.9L721 261.6L721.3 261.9L722 261.9L722.2 261.8L722.4 261.5L722.6 261.8L723.3 261.9L723.8 261.5L723.9 261.1L723.9 260L723.5 260L723.5 261.3L723.2 261.6L722.7 261.3L722.6 261L722.6 260.5L722.5 260.4L722.2 260.5L722.2 261L721.7 261.6L721.3 261.4L721.1 260.8L721.1 260.4L720.7 260.5L720.7 261.1L720.2 261.6L719.7 261.6L719.4 261.4L719.3 261.1L719.3 260.5L719 260.5L719 261.1L718.7 261.5L718.5 261.6L717.9 261.5L717.6 261L717.6 258ZM711.2 258L711.2 261.4L711.6 261.9L712.9 261.9L713.3 261.6L713.6 261.9L714.3 261.9L714.6 261.6L715.2 261.9L715.6 261.9L716.1 261.6L716.3 260.9L716.3 260L716.2 259.9L715.9 260L715.9 261.3L715.5 261.6L715.1 261.4L714.9 260.4L714.5 260.4L714.4 261.3L714 261.6L713.5 261.3L713.4 260.4L713.1 260.4L713.1 261L712.7 261.5L712.5 261.6L712 261.6L711.8 261.5L711.5 261L711.5 258ZM678.3 258L678.3 261.5L678.4 261.7L678.7 261.9L679.8 261.9L680.3 261.4L680.3 260.5L679.9 260.5L679.8 261.4L679.5 261.6L678.9 261.6L678.6 261.3L678.6 258ZM655 258L654.3 258.4L654.2 258.6L654.2 259.3L655.1 260.3L655.1 260.8L655.4 260.9L655.4 260.1L654.6 259.3L654.5 258.8L655 258.4L655.5 258.4L656.1 258.7L656.1 258.3L655.4 258ZM737.6 257L737.1 257.4L736.6 257.4L736.4 257.2L736 257.2L735.8 257.4L735.8 257.6L736.1 257.3L736.9 257.6L737.5 257.4ZM557.3 325.2L557.1 325.5L557.5 325.5L557.5 325.3ZM556.6 325.2L556.6 325.5L556.8 325.5L556.8 325.3ZM503.2 325.2L503.2 325.5L503.4 325.5L503.4 325.2ZM482 324.2L482 324.8L482.3 324.8L482.3 324.2ZM548.4 323.5L548.2 323.5L548.3 324.4L548 325.1L547.2 325.6L546.4 325.7L546.4 326.1L546.8 326.1L547.6 325.8L548 325.6L548.4 325.2L548.7 324.7L548.7 323.7ZM524.9 323.5L524.7 323.5L524.8 324.2L524.6 324.9L524.1 325.4L522.9 325.7L522.9 326.1L523.3 326.1L524.1 325.8L524.8 325.3L525.1 324.6L525.1 323.8ZM519.3 323.5L519.1 323.5L519.1 323.8L519.2 323.9L519.1 324.8L518.5 325.4L518 325.6L517.3 325.7L517.3 326.1L517.7 326.1L518.5 325.8L519.2 325.3L519.6 324.7L519.6 323.7ZM511.8 326.1L512.6 326.1L513.4 325.7L513.9 325.3L514.1 324.8L515.3 324.8L515.5 324.7L515.8 324.9L516.5 324.9L516.8 324.8L517 324.4L517 323.8L516.9 323.6L516.5 323.4L515.8 323.4L515.5 323.6L515.1 324.3L514.9 324.4L514.2 324.4L514 323.7L513.5 323.3L513 323.3L512.6 323.6L512.5 323.9L512.6 324.4L512.8 324.7L513.5 324.8L513.6 324.9L513.2 325.4L512.8 325.6L511.8 325.7ZM516 323.7L516.3 323.7L516.5 323.9L516.5 324.3L516.3 324.6L516 324.6L515.7 324.3L515.7 324ZM512.9 323.9L513.1 323.7L513.4 323.7L513.8 324.2L513.5 324.4L513.3 324.4L512.9 324.1ZM532.5 323L532.2 323L532.4 323.7L532.4 324.2L532.2 324.8L531.9 325.1L531.4 325.3L530.6 325.2L530.3 324.9L530.2 324.6L530.3 323.7L530 323.7L529.9 323.9L529.9 324.8L530.1 325.2L530.7 325.6L531.5 325.6L532.1 325.4L532.5 325L532.8 324.6L532.8 323.5ZM511.4 323L511 323L511.2 323.5L511.2 324.4L510.5 325.2L510.2 325.2L510.1 325.3L509.5 325.2L509 324.8L509 323.9L509.1 323.7L508.7 323.7L508.7 324.2L508.6 324.3L508.7 325L509.1 325.4L509.6 325.6L510.3 325.6L511.1 325.3L511.3 325.1L511.6 324.3L511.6 323.7ZM526.9 322.6L526.4 322.6L527 323.3L527.1 323.9L526.9 324.2L526.4 324.4L525.9 324.3L525.9 324.7L526 324.8L527 324.7L527.4 324.2L527.4 323.4ZM487.9 324.8L488.7 324.8L489.3 324.4L489.7 324.8L490.8 324.8L491.2 324.4L491.5 324.8L492.2 324.8L492.5 324.4L493 324.8L493.5 324.8L493.7 324.7L494 324.2L494.1 322.9L493.7 322.9L493.7 324.1L493.3 324.4L492.8 324L492.7 323.3L492.4 323.4L492.3 324.1L491.9 324.4L491.4 324.1L491.3 323.4L491.2 323.3L491 323.4L491 323.9L490.9 324.1L490.4 324.4L490 324.4L489.5 324L489.4 323.4L488.8 322.6L488.4 322.6L488.8 323L489 323.5L489 324L488.7 324.3L487.9 324.4ZM484.2 322.6L484.8 323.2L485 323.9L484.3 324.4L483.7 324.4L483.7 324.8L484.6 324.8L485.1 324.4L485.6 324.8L486.6 324.8L487 324.2L487 323.4L486.7 323.4L486.7 323.9L486.5 324.3L485.8 324.4L485.4 324.1L485.3 323.5L484.8 322.6ZM530.9 322.5L530.9 322.7L531.2 322.8L531.3 322.5ZM519 322.5L519 322.7L519.2 322.8L519.3 322.5ZM510 322.5L509.8 322.5L509.8 322.8L510 322.7ZM544.8 322.4L544.6 322.4L544.6 322.7L544.8 322.6ZM543.9 322.4L543.9 322.7L544.1 322.7L544.1 322.4ZM506 322.7L505.6 322.4L505.2 322.4L504.6 322.8L504.6 323.5L504.7 323.7L505.1 323.9L505.5 323.9L505.6 323.8L505.7 323.9L505.4 324.3L505.1 324.4L503.9 324.4L503.5 324.1L503.5 323.4L503.1 323.4L503.1 324.1L502.8 324.4L502 324.4L501.8 323.7L501.4 323.3L501 323.3L500.5 323.5L500.4 323.7L500.4 324.3L500.5 324.6L501 324.8L501.4 324.8L501.5 325L501 325.5L499.8 325.7L499.8 326.1L500.4 326.1L501.3 325.7L501.7 325.3L502 324.8L503 324.8L503.3 324.6L503.7 324.8L505.3 324.8L505.8 324.6L506.1 323.9L506.1 322.9ZM500.8 323.9L501 323.7L501.3 323.7L501.5 323.9L501.6 324.3L501.5 324.4L501.2 324.4L500.8 324.1ZM505.2 322.8L505.6 322.8L505.8 323.2L505.6 323.6L505.3 323.6L504.9 323.2ZM492.5 322.4L492.5 322.6L492.7 322.7L492.8 322.4ZM492.2 322.4L491.9 322.4L491.9 322.7L492.2 322.6ZM541.4 322.3L541.4 322.6L541.6 322.6L541.6 322.4ZM486.8 322.3L486.7 322.6L487 322.6L487 322.4ZM544.5 321.8L544.3 321.8L544.3 322.1L544.5 322ZM492.2 321.8L492.2 322L492.4 322.1L492.5 321.8ZM505.6 321.5L505.6 321.9L505.8 321.9L505.8 321.7ZM505.2 321.5L504.9 321.7L504.9 321.9L505.2 321.9ZM558.2 321L558.2 324.8L558.6 324.8L558.6 321ZM555.2 321L555.2 324.1L555.3 324.4L555.7 324.8L556.7 324.8L556.9 324.7L557.1 324.3L557.3 323.4L556.8 323.4L556.8 324.1L556.4 324.4L556 324.4L555.6 324.1L555.6 321ZM549.6 321L549.6 324.3L549.7 324.6L550.1 324.8L551.7 324.8L551.9 324.7L552.3 324.1L552.3 323.7L552.1 323.3L551.3 322.4L551.3 322.1L551.7 321.9L553 321.4L553.1 321.3L553.1 321L551.6 321.5L550.9 322L550.9 322.5L551.9 323.7L551.9 324.1L551.5 324.4L550.3 324.4L549.9 324.1L549.9 321ZM539.6 321L539.6 324.2L540.1 324.8L541.1 324.8L541.5 324.6L541.8 324.8L542.8 324.8L543.2 324.4L543.5 324.8L544.1 324.8L544.4 324.7L544.6 324.3L544.8 324.7L545.4 324.8L546 324.3L546.1 324L546.1 322.9L545.7 322.9L545.7 324.1L545.3 324.4L544.9 324.1L544.8 323.9L544.8 323.4L544.7 323.3L544.4 323.4L544.4 323.9L543.9 324.4L543.5 324.2L543.3 323.7L543.3 323.3L543 323.4L543 324L542.4 324.4L542 324.4L541.7 324.2L541.7 323.4L541.2 323.4L541.2 324.1L540.8 324.4L540.2 324.3L540 323.9L540 321ZM533.7 321L533.7 324.1L534.1 324.7L534.3 324.8L535.3 324.8L535.8 324.4L536.1 324.8L536.7 324.8L537.2 324.4L537.6 324.8L538 324.8L538.5 324.4L538.7 323.8L538.7 322.9L538.6 322.8L538.2 322.9L538.2 324.1L537.9 324.4L537.5 324.2L537.3 323.3L537 323.3L536.8 324.1L536.4 324.4L536 324.1L535.9 323.3L535.6 323.3L535.6 323.9L535.2 324.3L535 324.4L534.5 324.4L534.2 324.1L534.2 321ZM520.5 321L520.5 324.8L520.8 324.8L520.8 321ZM499.4 321L499 321L499 324.3L498.8 324.8L498.3 325.2L497.4 325.3L497 325L497 324.1L496.8 324.1L496.6 324.4L496.6 325L497 325.5L498.1 325.6L498.8 325.3L499.3 324.9L499.4 324.6ZM481.9 321L481.2 321.3L481.1 321.5L481.1 322.2L482 323.2L482 323.7L482.3 323.8L482.3 323L481.5 322.2L481.4 321.8L481.9 321.3L482.4 321.3L482.9 321.7L482.9 321.2L482.3 321ZM519.8 320.6L520.2 320.3L520.4 320.5L520.7 320.5L520.8 320.6L521.4 320.4L521.5 320.1L521.1 320.4L520.6 320.4L520.3 320.1L520 320.1L519.8 320.4ZM559.3 320L558.9 320.4L558.3 320.4L558.1 320.1L557.8 320.1L557.6 320.4L557.6 320.6L557.9 320.3L558.6 320.6L559.2 320.4ZM598.2 401.3L598.2 401.7L598.5 401.7L598.5 401.3ZM603.4 400.8L603.3 401.1L603.6 401.1L603.6 400.9ZM602.7 400.8L602.6 401.1L603 401.1L603 400.9ZM567.8 400.8L567.7 401.1L568 401.1L568 400.9ZM567.1 400.8L567 401.1L567.3 401.1L567.3 400.9ZM566.1 400.8L566.1 401.1L566.3 401.1L566.3 400.9ZM565.7 400.8L565.5 400.9L565.5 401.1L565.7 401.1ZM598.6 400.7L598.6 401L598.8 401L598.8 400.8ZM598.1 400.7L597.9 400.8L597.9 401L598.1 401ZM548.2 399.8L548.2 400.4L548.5 400.4L548.5 399.8ZM577.4 399.1L577.2 399L577 399.1L577.1 399.3L577.1 400.1L576.9 400.6L576.6 400.9L575.9 401.2L575.1 401.3L575.1 401.7L576.1 401.6L576.8 401.2L577.2 400.8L577.4 400.4ZM598.6 398.9L598.1 398.9L598.1 399.7L597.8 400L597.2 400L596.9 399.7L596.8 399.1L596.7 399L596.4 399L596.5 399.3L596.5 400.1L596.4 400.4L595.7 401L595.3 401.2L594.5 401.3L594.5 401.7L595.5 401.6L596.1 401.2L596.6 400.8L596.8 400.2L597 400.4L598 400.4L598.2 400.2L598.6 399.7ZM593.8 398.9L593.2 398.8L592.6 399.3L592.6 399.9L593.2 400.4L593.6 400.4L593.7 400.6L593.2 401.1L592 401.3L592 401.7L593.2 401.6L593.9 401L594.2 400.6L594.2 399.4ZM593.2 399.3L593.5 399.3L593.8 399.6L593.8 399.9L593.7 400L593.2 399.9L593 399.6ZM577.7 401.7L578.4 401.7L579.3 401.3L579.8 400.9L580 400.4L581.2 400.4L581.4 400.2L581.7 400.5L582.5 400.5L582.7 400.4L582.9 400L582.9 399.4L582.8 399.1L582.5 398.9L581.7 398.9L581.4 399.1L581.1 399.9L580.9 400L580.1 400L579.9 399.3L579.4 398.8L578.9 398.8L578.4 399.1L578.3 399.5L578.4 400L578.7 400.2L579.4 400.4L579.5 400.5L579.1 401L578.7 401.2L577.7 401.3ZM582 399.3L582.3 399.3L582.5 399.5L582.5 399.9L582.3 400.1L582 400.1L581.6 399.9L581.6 399.6ZM578.8 399.5L579 399.3L579.3 399.3L579.6 399.8L579.4 400L579.2 400L578.8 399.7ZM585.9 398.6L585.6 398.9L585.6 399.3L585.5 399.4L585.6 400.1L586 400.5L586.7 400.5L587.1 400.2L587.5 399.8L587.5 399.5L587.2 399L586.8 398.7ZM586.1 398.9L586.8 399.1L587.1 399.6L586.7 400.1L586.1 400.1L585.9 399.9L585.9 399.1ZM558.7 398.5L558.6 398.4L558.3 398.5L558.3 399.7L558 400L557.9 400L557.4 399.5L557.4 398.8L557 398.8L557 399.5L556.5 400L556.1 399.8L555.9 399.3L555.9 398.8L555.6 398.8L555.6 399.6L555 400L554.5 399.9L554.1 399.4L554.1 398.7L553.8 398.7L553.8 399.1L553.5 399.6L552.7 399.9L552.3 399.9L552.1 400L550.8 399.9L550.4 399.6L550.4 399L550.5 398.9L550.4 398.8L550.1 399L550.1 399.7L550.4 400.1L550.6 400.1L550.9 400.4L552.4 400.4L552.5 400.2L553.2 400.1L553.8 399.8L554.3 400.4L555.3 400.4L555.8 400L556.1 400.4L556.8 400.4L557 400.2L557.2 399.9L557.4 400.2L558.1 400.4L558.6 399.9L558.7 399.6ZM552.1 398.4L552.1 398.6L552.4 398.7L552.4 398.4ZM551.5 398.4L551.5 398.6L551.7 398.7L551.8 398.4ZM588.8 398.1L589.2 398.6L589.4 399L589.4 399.6L589.1 399.9L588.2 400L588.2 400.4L589.1 400.4L589.7 400L590.1 400.4L591.1 400.4L591.4 400.1L591.6 399.4L591.6 398.9L591.2 398.9L591.2 399.7L590.8 400L590.4 400L589.9 399.6L589.9 399.1L589.5 398.5L589.2 398.1ZM574.4 398.1L573.9 398.1L574.5 398.8L574.6 399.5L574.4 399.8L573.9 400L573.4 399.9L573.4 400.2L573.5 400.4L574.5 400.2L574.9 399.8L574.9 398.9ZM562.7 400.4L563.7 400.4L564.1 400L564.7 400.4L565.6 400.4L565.9 400.1L566.2 400.4L567.2 400.4L567.4 400.2L567.7 399.8L567.7 398.9L567.3 398.9L567.3 399.6L567.2 399.8L566.9 400L566.4 400L566.1 399.7L566.1 398.9L565.7 398.9L565.7 399.7L565.3 400L564.9 400L564.5 399.7L564.4 399L563.8 398.1L563.3 398.1L563.8 398.7L564 399.5L563.4 400L562.7 400ZM591.3 397.8L591.3 398.1L591.5 398.1L591.5 397.9ZM570.8 397.8L570.7 398.1L571.1 398.1L571.1 397.9ZM570.2 397.8L570.1 398.1L570.4 398.1L570.4 397.9ZM604.4 396.5L604.4 400.4L604.7 400.4L604.7 396.5ZM601.3 396.5L601.3 399.9L601.4 400.1L601.8 400.4L602.9 400.4L603.3 399.8L603.3 398.9L603 398.9L602.9 399.8L602.5 400L602 400L601.6 399.7L601.6 396.5ZM568.8 396.5L568.8 399.8L569.2 400.4L570.3 400.4L570.5 400.2L570.7 399.8L570.7 398.9L570.4 398.9L570.4 399.6L570.2 399.9L569.5 400L569.2 399.8L569.1 399.5L569.1 396.5ZM559.7 396.5L559.7 400.4L560.2 400.4L560.2 396.5ZM548.1 396.5L547.4 396.8L547.3 397L547.3 397.7L548.2 398.7L548.2 399.3L548.5 399.4L548.5 398.6L547.7 397.7L547.6 397.3L548.1 396.8L548.6 396.8L549.2 397.2L549.2 396.7L548.5 396.5ZM603.6 396.1L604.1 395.7L604.3 395.9L604.6 395.9L604.7 396.1L605.3 395.8L605.4 395.6L604.9 395.8L604.5 395.8L604.2 395.6L603.8 395.6L603.6 395.8Z"/>
<path fill="#222" stroke="#222" stroke-width="0.15" d="M467.6 210L467.6 210.3L467.9 210.4L467.9 210ZM468.2 207.9L467.3 207.9L467.3 208.6L467 208.8L466.3 208.8L466 208.5L466 205.5L465.2 205.5L465.2 208.4L464.9 208.8L464.3 208.8L463.9 208.3L463.9 207.6L463.8 207.5L463.1 207.5L462.9 207.7L462.6 207.7L462.1 207.9L461.8 208.3L461.7 208.8L461.8 209L462.1 209.3L463.5 209.2L463.7 209.4L465.3 209.4L465.7 209.2L465.9 209.4L467.8 209.4L468 209.3L468.2 208.8ZM462.6 208.4L462.7 208.3L463 208.3L463.1 208.6L463 208.7L462.7 208.7ZM439.2 239L439.2 239.3L439.4 239.3L439.4 239.1ZM438.8 239L438.6 239.1L438.6 239.3L438.8 239.3ZM442.6 237.3L441.9 237L440.4 236.9L440.4 237.4L441.6 237.5L441.7 237.5L441.5 237.7L440.6 238.1L439.6 238.1L439.4 237.8L439.4 237.4L438.6 237.4L438.6 237.9L438.4 238.1L437.9 238.1L437.6 237.7L437.5 237.5L436.8 237.5L436.9 237.6L436.9 238.4L436.8 238.5L436.2 239.1L435.3 239.2L435.3 239.6L435.8 239.6L435.9 239.5L436.7 239.4L437 239.3L437.5 238.8L437.6 238.5L438.8 238.5L439 238.4L439.3 238.5L440.7 238.5L440.8 238.5L441.2 238.5L442.6 237.7ZM441.3 236.3L441.3 236.6L441.5 236.6L441.5 236.4ZM662 210.4L662 210.7L662.3 210.8L662.3 210.4ZM662.6 208.3L661.7 208.3L661.7 209L661.4 209.2L660.7 209.2L660.4 208.9L660.4 205.9L659.6 205.9L659.6 208.8L659.3 209.2L658.7 209.2L658.3 208.7L658.3 208L658.2 207.9L657.5 207.9L657.3 208.1L657 208.1L656.5 208.3L656.2 208.7L656.1 209.2L656.2 209.4L656.5 209.7L657.9 209.6L658.1 209.8L659.7 209.8L660.1 209.6L660.3 209.8L662.1 209.8L662.4 209.7L662.6 209.2ZM657 208.8L657.1 208.7L657.4 208.7L657.5 209L657.4 209.1L657.1 209.1ZM634.2 245L634.2 245.3L634.4 245.3L634.4 245.1ZM633.8 245L633.6 245.1L633.6 245.3L633.8 245.3ZM637.6 243.3L636.9 243L635.4 242.9L635.4 243.4L636.6 243.5L636.7 243.5L636.5 243.7L635.6 244.1L634.6 244.1L634.4 243.8L634.4 243.4L633.6 243.4L633.6 243.9L633.4 244.1L632.9 244.1L632.6 243.7L632.5 243.5L631.8 243.5L631.9 243.6L631.9 244.4L631.8 244.5L631.2 245.1L630.3 245.2L630.3 245.6L630.8 245.6L630.9 245.5L631.7 245.4L632 245.3L632.5 244.8L632.6 244.5L633.8 244.5L634 244.4L634.3 244.5L635.7 244.5L635.8 244.5L636.2 244.5L637.6 243.7ZM636.3 242.3L636.3 242.6L636.5 242.6L636.5 242.4ZM700.2 117.8L700.2 118.1L700.5 118.2L700.5 117.8ZM700.8 115.7L699.9 115.7L699.9 116.4L699.6 116.6L698.9 116.6L698.6 116.3L698.6 113.3L697.8 113.3L697.8 116.2L697.5 116.6L696.9 116.6L696.5 116.1L696.5 115.4L696.4 115.3L695.7 115.3L695.5 115.5L695.2 115.5L694.7 115.7L694.4 116.1L694.3 116.6L694.4 116.8L694.7 117.1L696.1 117L696.3 117.2L697.9 117.2L698.3 117L698.5 117.2L700.4 117.2L700.6 117.1L700.8 116.6ZM695.2 116.2L695.3 116.1L695.6 116.1L695.7 116.4L695.6 116.5L695.3 116.5ZM802 72L802 72.3L802.2 72.3L802.2 72.1ZM801.6 72L801.4 72.1L801.4 72.3L801.6 72.3ZM805.4 70.3L804.7 70L803.2 69.9L803.2 70.4L804.4 70.5L804.5 70.5L804.3 70.7L803.4 71.1L802.4 71.1L802.2 70.8L802.2 70.4L801.4 70.4L801.4 70.9L801.2 71.1L800.7 71.1L800.4 70.7L800.3 70.5L799.6 70.5L799.7 70.6L799.7 71.4L799.6 71.5L799 72.1L798.1 72.2L798.1 72.6L798.6 72.6L798.7 72.5L799.5 72.4L799.8 72.3L800.3 71.8L800.4 71.5L801.6 71.5L801.8 71.4L802.1 71.5L803.5 71.5L803.6 71.5L804 71.5L805.4 70.7ZM804.1 69.3L804.1 69.6L804.3 69.6L804.3 69.4ZM765.8 236L765.8 236.3L766 236.3L766 236.1ZM765.4 236L765.2 236.1L765.2 236.3L765.4 236.3ZM769.2 234.3L768.5 234L767 233.9L767 234.4L768.2 234.5L768.3 234.5L768.1 234.7L767.2 235.1L766.2 235.1L766 234.8L766 234.4L765.2 234.4L765.2 234.9L765 235.1L764.5 235.1L764.2 234.7L764.1 234.5L763.4 234.5L763.5 234.6L763.5 235.4L763.4 235.5L762.8 236.1L761.9 236.2L761.9 236.6L762.4 236.6L762.5 236.5L763.3 236.4L763.6 236.3L764.1 235.8L764.2 235.5L765.4 235.5L765.6 235.4L765.9 235.5L767.3 235.5L767.4 235.5L767.8 235.5L769.2 234.7ZM767.9 233.3L767.9 233.6L768.1 233.6L768.1 233.4ZM695.3 281L695.3 281.3L695.6 281.4L695.6 281ZM695.9 278.9L695 278.9L695 279.6L694.7 279.8L694 279.8L693.7 279.5L693.7 276.5L692.9 276.5L692.9 279.4L692.6 279.8L692 279.8L691.6 279.3L691.6 278.6L691.5 278.5L690.8 278.5L690.6 278.7L690.3 278.7L689.8 278.9L689.5 279.3L689.4 279.8L689.5 280L689.8 280.3L691.2 280.2L691.4 280.4L693 280.4L693.4 280.2L693.6 280.4L695.5 280.4L695.7 280.3L695.9 279.8ZM690.3 279.4L690.4 279.3L690.7 279.3L690.8 279.6L690.7 279.7L690.4 279.7ZM576.2 333.5L576.2 333.8L576.4 333.8L576.4 333.6ZM575.8 333.5L575.6 333.6L575.6 333.8L575.8 333.8ZM579.6 331.8L578.9 331.5L577.4 331.4L577.4 331.9L578.6 332L578.7 332L578.5 332.2L577.6 332.6L576.6 332.6L576.4 332.3L576.4 331.9L575.6 331.9L575.6 332.4L575.4 332.6L574.9 332.6L574.6 332.2L574.5 332L573.8 332L573.9 332.1L573.9 332.9L573.8 333L573.2 333.6L572.3 333.7L572.3 334.1L572.8 334.1L572.9 334L573.7 333.9L574 333.8L574.5 333.3L574.6 333L575.8 333L576 332.9L576.3 333L577.7 333L577.8 333L578.2 333L579.6 332.2ZM578.3 330.8L578.3 331.1L578.5 331.1L578.5 330.9ZM511.2 375.7L511.2 376L511.5 376.1L511.5 375.7ZM511.8 373.6L510.9 373.6L510.9 374.3L510.6 374.5L509.9 374.5L509.6 374.2L509.6 371.2L508.8 371.2L508.8 374.1L508.5 374.5L507.9 374.5L507.5 374L507.5 373.3L507.4 373.2L506.7 373.2L506.5 373.4L506.2 373.4L505.7 373.6L505.4 374L505.3 374.5L505.4 374.7L505.7 375L507.1 374.9L507.3 375.1L508.9 375.1L509.3 374.9L509.5 375.1L511.4 375.1L511.6 375L511.8 374.5ZM506.2 374.1L506.3 374L506.6 374L506.7 374.3L506.6 374.4L506.3 374.4ZM664.9 422.8L664.9 423.1L665.2 423.2L665.2 422.8ZM665.5 420.7L664.6 420.7L664.6 421.4L664.3 421.6L663.6 421.6L663.3 421.3L663.3 418.3L662.5 418.3L662.5 421.2L662.2 421.6L661.6 421.6L661.2 421.1L661.2 420.4L661.1 420.3L660.4 420.3L660.2 420.5L659.9 420.5L659.4 420.7L659.1 421.1L659 421.6L659.1 421.8L659.4 422.1L660.8 422L661 422.2L662.6 422.2L663 422L663.2 422.2L665 422.2L665.3 422.1L665.5 421.6ZM659.9 421.2L660 421.1L660.3 421.1L660.4 421.4L660.3 421.5L660 421.5ZM499.8 448.8L499.8 449.1L500 449.1L500 448.9ZM499.4 448.8L499.2 448.9L499.2 449.1L499.4 449.1ZM503.2 447.1L502.5 446.8L501 446.7L501 447.2L502.2 447.3L502.3 447.3L502.1 447.5L501.2 447.9L500.2 447.9L500 447.6L500 447.2L499.2 447.2L499.2 447.7L499 447.9L498.5 447.9L498.2 447.5L498.1 447.3L497.4 447.3L497.5 447.4L497.5 448.2L497.4 448.3L496.8 448.9L495.9 449L495.9 449.4L496.4 449.4L496.5 449.3L497.3 449.2L497.6 449.1L498.1 448.6L498.2 448.3L499.4 448.3L499.6 448.2L499.9 448.3L501.3 448.3L501.4 448.3L501.8 448.3L503.2 447.5ZM501.9 446.1L501.9 446.4L502.1 446.4L502.1 446.2Z"/>
<path fill="#222" stroke="#222" stroke-width="0.3" d="M21.5 84.4L20.8 85L20.7 86.2L21.3 87L22.3 87.4L22.2 87.7L21.3 87.7L21.2 87.8L21.2 88.6L22 88.6L22.5 88.9L22.5 89.3L21.3 90L21.2 90.2L21.2 91.1L21.3 91.4L22 91.7L22.7 91.6L22.8 91.4L23.4 91.6L23.4 92L23.5 92.1L23.5 93.1L23.2 93.6L22.3 93.6L22.2 93.5L22.2 94.4L22.5 94.5L23.4 94.5L23.9 94.3L24.4 93.6L24.4 92L24.2 91.8L24.2 91.4L23.9 90.8L23.4 90.4L23 90.4L22.5 90.8L22 90.7L23.4 89.6L23.4 88.5L23 88.1L23 87.9L23.4 87.6L23.4 85.6L23.2 85.5L23.2 85L22.7 84.5L22.3 84.4ZM22.3 86.6L21.5 85.9L21.5 85.6L21.8 85.2L22.3 85.6L22.5 85.9L22.5 86.5ZM19.7 87.6L20 87.6L20.2 87.3L19.7 87.2ZM19.5 76.4L20 76.6L20 76.2L19.7 76.2ZM19.5 77.1L20 77.1L20 76.9L19.7 76.9ZM18.3 79.6L18.8 79.7L18.8 79.3L18.5 79.3ZM18.3 80.3L18.8 80.3L18.8 80L18.5 80ZM17.5 83.4L22.5 83.4L23 83.3L23.4 82.9L23.4 80.5L23 79.9L23.4 79.1L23.4 77L23 76.7L23.4 76.4L23.4 74.9L23.2 74.7L23.5 74.2L23.5 73.2L23.2 72.7L22.8 72.6L21.8 72.6L21.5 72.7L21 73.3L21 74.1L21.7 74.7L22.2 74.8L22.5 75.2L22.5 75.9L22.2 76.2L21.2 76.2L21.2 77.1L22 77.1L22.5 77.5L22.5 78.6L22.2 78.8L21.8 78.5L20.5 78.5L20 78.8L19.7 79.3L19.8 80.7L20.3 81.1L21.5 81.2L22.2 80.8L22.5 81L22.5 82.2L22.2 82.5L17.5 82.5ZM22.2 74L21.8 73.7L22.2 73.4L22.5 73.4L22.7 73.5L22.7 73.9ZM20.5 79.9L20.5 79.7L20.8 79.4L21.5 79.4L21.8 79.7L21.8 79.9L21.3 80.3L21 80.3Z"/>
<path fill="#2a2a2a" stroke="#2a2a2a" stroke-width="0.15" d="M23 242.5L23.2 242.5L23.4 242.3L23 242.3ZM22.8 215.8L23.2 215.9L23.2 215.6L23 215.6ZM22.8 216.4L23.2 216.4L23.2 216.2L23 216.2ZM22.8 238.6L23.2 238.7L23.2 238.4L23 238.4ZM22.8 239.1L23.2 239.2L23.2 238.9L23 238.9ZM22.8 283.9L23.2 283.9L23.2 283.7L23 283.7ZM22.8 284.4L23.2 284.4L23.2 284.2L23 284.2ZM20.6 161L20.5 161.1L20.5 161.7L20.6 161.8L20.7 161.7L22 161.7L22.4 161.9L23.1 162.8L23.1 163.5L23.8 163.5L23.8 162.6L23.5 161.9L23.1 161.4L22.5 161.1L21.7 160.9ZM20.6 184L20.5 184.1L20.5 184.7L20.6 184.8L20.7 184.7L22 184.7L22.4 184.9L23.1 185.8L23.1 186.5L23.8 186.5L23.8 185.6L23.5 184.9L23.1 184.4L22.5 184.1L21.7 183.9ZM20.5 233.1L20.5 233.7L21.4 233.6L22.3 233.8L23 234.5L23.1 235.4L23.8 235.4L23.8 234.6L23.2 233.5L22.8 233.2L22 232.9L20.9 232.9ZM20.6 235.7L20.5 235.8L20.5 236.4L20.6 236.5L20.9 236.4L21.8 236.4L22.1 236.5L23 237.2L23.1 238.2L23.8 238.2L23.8 237.3L23.4 236.4L22.3 235.7ZM20.3 215.7L20.3 216.4L21 216.4L21.4 216.6L21.4 217.2L21 217.5L20.5 217.6L20.5 218.3L21.4 218.2L22.3 218.4L23 219.1L23.1 220L23.8 220L23.8 219.4L23.7 219.3L23.5 218.5L23.1 218L22.1 217.5L22.1 216.1L22 215.9L21.6 215.7ZM20.3 242L20.3 242.8L21.2 242.8L21.4 243.1L21.4 243.4L20.9 243.7L20.3 244.2L20.5 245.2L20.7 245.4L21.4 245.4L21.8 245.2L22.1 245.4L22.1 245.7L22.3 245.8L22.3 246.7L21.8 247.1L21.3 247.1L21.2 247L21.2 247.8L22 247.9L22.8 247.4L23 247.1L23 245.7L22.8 245.6L22.8 245.2L22.4 244.5L21.8 244.4L21.6 244.5L21.4 244.7L21 244.5L21.2 244.3L22.1 243.7L22.1 242.4L22 242.2L21.4 242ZM20.3 283.7L20.3 284.4L21 284.4L21.4 284.7L21.4 285L20.7 285.4L20.3 285.8L20.3 286.6L20.5 286.8L21 287.1L21.3 287.1L21.8 286.8L22.1 287L22.1 287.3L22.3 287.4L22.3 288.3L22 288.7L21.3 288.7L21.2 288.6L21.2 289.4L21.4 289.5L22.1 289.5L22.5 289.3L23 288.7L23 287.3L22.8 287.2L22.8 286.8L22.5 286.3L22.1 286L21.8 286L21.4 286.3L21 286.2L22.1 285.3L22.1 284L21.7 283.8ZM20.6 181.2L20.2 181.6L20.2 182.7L20.9 183.1L21.6 183.1L22.1 182.6L22.1 182L22.3 181.9L22.8 182.3L23 182.6L23.1 183.7L23.8 183.7L23.7 182.2L23.2 181.5L22.4 181.1L20.9 181.1ZM21 182.4L20.7 182.1L21.3 181.8L21.4 181.9L21.4 182.3ZM20.5 266.3L20.2 266.6L20.2 267.8L20.3 268L20.7 268.2L21.6 268.2L22.1 267.7L22.1 267.1L22.4 267L23 267.6L23.1 268.8L23.8 268.8L23.7 267.2L23.1 266.4L22.3 266.1L21 266.1ZM21 267.5L20.7 267.3L20.7 267.1L21 266.9L21.3 266.9L21.4 267L21.4 267.3ZM20 207.5L20 208.2L20.6 208.3L21.2 208.7L21.4 209.3L21.4 210.2L20.9 210.8L20.2 210.7L20.2 211.3L20.5 211.5L21.4 211.5L21.8 211.2L22.1 210.6L22 208.6L21.7 208L21 207.5ZM19.9 228.9L20.7 228.9L20.7 227.6L20 227.6L19.9 227.6ZM19.8 168.7L19.8 169.5L20.3 169.3L21.7 169.3L22.3 169.6L22.5 170.1L22.5 170.5L21.8 171.1L20.9 171.1L20.7 171L20.7 171.7L21.4 171.7L21.6 171.8L22.5 171.6L23 171.4L23.2 170.8L23.2 169.8L23 169.1L22.5 168.8L21.7 168.5L20.5 168.5ZM19.8 222.2L19.8 222.9L20.6 222.7L21.4 222.7L21.8 222.8L22.4 223.2L22.5 223.5L22.5 224L22 224.5L21.7 224.6L20.7 224.5L20.7 225.2L21 225.3L22.1 225.3L22.7 225.1L23.2 224.3L23.2 223.2L23 222.6L22.4 222.2L21.8 222L20.3 222ZM21.3 270.7L21.2 270.8L20.7 270.8L20.3 271.1L20.2 272.1L20.6 272.5L21.3 272.7L21.4 272.9L21.4 273.5L21 273.8L20.9 273.7L20 273.7L20 274L19.8 274.5L19.8 275L19.6 275.1L19.6 276.2L20.3 276.2L20.5 274.8L20.6 274.7L21.2 275.2L21.4 275.9L21.4 277L20.9 277.3L20.3 277.3L20.3 278L21 278L21.4 278.3L21.4 279L20.6 279.2L20.2 279.5L20.2 280.8L20.9 281.2L21.6 281.2L22.1 280.7L22.1 280L22.3 279.9L23 280.5L23.1 281.8L23.8 281.8L23.8 280.8L23.7 280.7L23.5 279.9L23 279.3L22.1 279L22.1 277.9L21.8 277.7L22.1 277.4L22.1 275.8L22 275.7L22 275.2L21.3 274.3L21.6 274.2L22.1 273.7L22.1 272.7L22 272.6L22.3 272.2L22.3 271.3L21.8 270.8L21.4 270.8ZM21.4 272L21.2 272L20.9 271.8L20.9 271.6L21.3 271.4L21.6 271.6L21.6 271.9ZM21 280.4L20.7 280.1L21.3 279.8L21.4 279.9L21.4 280.3ZM19.5 209.2L19.5 209.4L19.9 209.4L19.8 209.2ZM19.5 209.8L19.5 210L19.9 210L19.8 209.8ZM19.2 161.5L19.6 161.6L19.6 161.3L19.4 161.3ZM19.2 170.6L19.5 170.6L19.6 170.4L19.2 170.3ZM19.6 186.7L19.2 187.1L19.2 188.3L19.6 188.7L20.3 188.7L20.6 188.5L20.9 187.9L21.3 187.6L21.6 187.6L22 188L22.1 189.2L21.7 189.6L20.9 189.5L20.9 190.2L21.4 190.4L22.1 190.3L22.7 189.9L22.8 189.6L22.8 188.3L22.4 187.3L22 186.9L21.3 186.8L20.6 187.2L20.3 187.8L20 188L19.8 187.8L19.8 187.5L20 187.2L20 186.7ZM19.2 224L19.5 224L19.6 223.8L19.2 223.8ZM19.2 236.2L19.6 236.3L19.6 236L19.4 236ZM19.1 178L19.4 178L19.5 177.8L19.1 177.8ZM19.1 252L19.4 252L19.5 251.8L19.1 251.7ZM19.1 252.6L19.4 252.6L19.5 252.4L19.1 252.3ZM18.9 277.4L19.4 277.5L19.4 277.2L19.1 277.2ZM18.9 278L19.4 278.1L19.4 277.8L19.1 277.8ZM18.2 252.3L18.5 252.3L18.7 252.1L18.2 252ZM18.1 175.2L18.1 175.4L18.5 175.4L18.4 175.2ZM17.3 160.1L21.4 160.1L22 160L22.1 159.8L22.1 158.1L22 158L22.1 156.8L21.7 156.3L22.1 155.9L22.1 155.2L21.7 154.7L21.4 154.6L19.6 154.6L19.6 155.2L19.8 155.3L20.9 155.3L21.3 155.5L21.3 155.8L20.9 156L20.2 156L20.2 156.7L21.2 156.8L21.4 157L21.4 157.2L20.9 157.5L20.2 157.5L20.2 158.2L20.7 158.2L21.3 158.4L21.4 158.6L21.4 159.2L21.2 159.4L17.3 159.4ZM17.3 167.6L21.7 167.6L22.1 167.3L22.1 165.8L22 165.5L22.3 165.2L22.3 164.3L21.8 163.8L21 163.7L20.7 163.8L20.2 164.3L20.2 165L20.5 165.4L21.4 165.9L21.4 166.6L21 166.9L17.3 166.9ZM21.3 165L20.9 164.8L20.9 164.6L21.2 164.4L21.6 164.6L21.6 164.8ZM17.3 180.2L21.6 180.2L22.1 179.9L22.1 178.1L21.8 177.9L22.1 177.6L22.1 175L21.7 174.4L21.2 174.2L19.9 174.2L19.4 174.4L19.1 174.7L19.1 175.9L19.2 176.1L19.6 176.3L20.5 176.3L20.7 176.2L21 175.8L21 175.2L21.2 175.1L21.4 175.3L21.4 177.2L21 177.5L20.3 177.5L20.3 178.3L21.2 178.3L21.4 178.6L21.4 179.2L20.9 179.5L17.3 179.5ZM19.9 175.6L19.6 175.4L19.6 175.2L19.9 175L20.2 175L20.5 175.2L20.5 175.4L20.2 175.6ZM17.3 193.6L22.1 193.6L22.1 192.8L17.3 192.8ZM17.7 201.8L18 201.8L21.2 200.7L21.4 200.9L21.4 201.7L22.1 201.7L22.1 200.6L21.7 199.9L21.7 199.7L22 199.6L22.1 199.4L22.1 195.3L22 195.2L22 194.8L21.7 194.5L21.3 194.3L20.6 194.3L20.2 194.6L19.9 195.1L19.9 195.8L20.5 196.5L21 196.9L20.9 197L17.3 197L17.3 197.7L21.3 197.7L21.4 197.8L21.4 198.8L20.9 199.1L17.3 199.1L17.3 199.8L20 199.8L20.7 200L20.5 200.2L18 201L17.7 201.2ZM20.9 195.1L21.3 195.3L21.4 195.6L21.4 196.1L21.3 196.2L20.6 195.6L20.6 195.3ZM17.3 206.6L21.6 206.6L22.1 206.3L22.1 204.7L22 204.6L22 204.2L21.7 203.8L21.7 203.5L21.2 202.6L20.5 202.6L20.9 203.3L20.9 203.8L20.5 204.1L20 204.1L19.8 203.9L19.5 203.5L19.5 203.2L18.8 203.2L18.8 203.5L18.9 203.6L19.1 204.4L19.6 204.8L20.6 204.8L21.2 204.5L21.4 204.7L21.4 205.6L20.9 205.9L17.3 205.9ZM17.3 214.8L22.1 214.8L22.1 214L17.3 214ZM17.3 221.1L22.1 221.1L22.1 220.3L17.3 220.3ZM17.3 232.1L22.1 232.1L22.1 231.3L17.3 231.3ZM17.3 241.1L21.6 241.1L22.1 240.8L22.1 238.9L22 238.7L21.6 238.5L20.3 238.5L20.3 239.1L20.9 239.1L21.4 239.4L21.4 240.1L20.9 240.4L17.3 240.4ZM22 263.7L22.8 263.2L23 262.9L23 261.5L22.8 261.4L22.8 261.1L22.4 260.4L21.8 260.3L21.6 260.4L21.4 260.6L21 260.4L21.2 260.2L22.1 259.6L22.1 258.5L21.8 258.3L22.1 258L22.1 255.7L22 255.6L22 255.2L22.1 255.1L22.1 253.8L22 253.7L22.1 252.5L21.7 252.1L22.1 251.5L22.1 250.9L22 250.6L21.4 250.3L19.8 250.2L19.8 251L21 251L21.3 251.2L21.3 251.4L21 251.6L20.2 251.7L20.2 252.3L20.3 252.4L20.9 252.4L21.4 252.7L21 253.1L20.2 253.3L20.2 253.8L20.3 253.9L20.9 253.9L21.4 254.2L21.4 254.8L19.1 256.1L18.8 256.1L18.4 255.6L18 254.6L17.8 254.5L17.3 254.5L17.3 254.7L18.1 256.6L18.5 257L19.2 257L20.7 256.1L21.2 256L21.4 256.2L21.4 257.6L21 257.9L17.3 257.9L17.3 258.7L21.2 258.7L21.3 258.8L21.4 259.3L20.5 259.9L20.3 260.1L20.3 260.8L20.7 261.3L21.4 261.3L21.7 261.1L22.1 261.3L22.3 262.5L21.8 262.9L21.3 262.9L21.2 262.8L21.2 263.6ZM17.3 282.8L22.1 282.8L22.1 282.1L17.3 282.1Z"/>
<clipPath id="c3"><rect x="0" y="292.5" width="40" height="92.3"/></clipPath>
<path fill="#3a3a3a" stroke="#3a3a3a" stroke-width="0.2" clip-path="url(#c3)" d="M22.6 346.6L23 346.7L23 346.4L22.7 346.4ZM22.6 347.2L23 347.3L23 347L22.7 347ZM22.6 365.1L23 365.1L23 364.9L22.7 364.9ZM22.6 365.6L23 365.7L23 365.4L22.7 365.4ZM22.6 368L23 368.1L23 367.8L22.7 367.8ZM20.5 303.2L20.6 303.5L20.7 303.4L21.9 303.4L22.2 303.5L23 304.1L23.2 305.1L23.6 305.1L23.6 304.6L23.2 303.8L22.4 303.2L21.5 303L21 303ZM20.6 320.9L20.5 321.1L20.6 321.3L20.7 321.2L21.8 321.2L22.3 321.4L22.7 321.6L23.1 322.2L23.2 322.9L23.6 322.9L23.5 322L23.1 321.5L22.6 321.1L22.1 320.9ZM20.5 360.8L20.6 361.1L20.7 361L21.9 361L22.2 361.1L23 361.8L23.2 362.7L23.6 362.7L23.5 361.9L22.8 361L22.2 360.7L21.7 360.7L21.5 360.6L21 360.6ZM20.6 362.9L20.5 363.1L20.6 363.3L20.9 363.2L21.8 363.2L22.3 363.4L23.1 364.2L23.2 364.9L23.6 364.9L23.5 364L23.1 363.5L22.6 363.1L22.1 362.9ZM20.3 346.7L20.3 347L21.4 347.1L21.7 347.4L21.5 347.9L21 348.2L20.5 348.2L20.5 348.6L20.6 348.5L21.8 348.5L22.3 348.7L23 349.2L23.2 350.2L23.6 350.2L23.6 349.6L23.1 348.8L22.6 348.4L21.9 348.1L22.1 347.9L22.1 347.1L21.4 346.7ZM20.3 367.8L20.3 368.1L21.4 368.2L21.7 368.4L21.7 368.6L20.6 369.3L20.6 369.7L21.1 370L21.7 370L21.9 369.7L22.3 370L22.4 370.2L22.4 371.2L22.2 371.6L21.8 371.7L21 371.6L21 371.9L21.3 372L22.1 372L22.6 371.7L22.8 371.4L22.8 370.1L22.6 369.7L22.2 369.4L21.7 369.4L21.4 369.7L21 369.5L21.9 368.9L22.1 368.7L22.1 368.2L21.4 367.8ZM20.3 319.1L20.2 319.7L20.6 320L21 320.1L21.7 320L21.9 319.9L22.1 319.2L22.2 319.1L22.4 319.2L23.1 319.9L23.2 320.7L23.6 320.7L23.5 319.7L23.2 319.3L22.7 318.9L22.1 318.7L21.1 318.7L20.7 318.8ZM21 319.8L20.7 319.6L20.7 319.3L21 319.1L21.5 319.1L21.7 319.2L21.5 319.6L21.3 319.8ZM20.3 357.4L20.6 357.4L20.6 356.3L20.2 356.3L20.2 357.3ZM20.1 339.7L20.1 340L20.6 340L21.3 340.4L21.5 340.9L21.5 341.4L21.7 341.5L21.5 342.5L21.1 342.9L20.5 342.9L20.2 342.8L20.2 343.1L20.3 343.2L21.3 343.2L21.8 342.9L22.1 342.5L21.9 340.8L21.5 340.1L20.9 339.7ZM19.9 309.3L19.9 309.6L20.6 309.4L21.9 309.5L22.6 310L22.6 310.3L22.7 310.3L22.6 310.9L22.3 311.2L22.1 311.3L20.9 311.3L20.7 311.2L20.7 311.6L21.9 311.7L22.6 311.5L23.1 310.8L23.1 310.2L22.8 309.7L22.2 309.2L21.8 309.1L21.3 309.1L21.1 309L21 309.1L20.3 309.1ZM19.9 351.9L19.9 352.2L20.7 352L21.4 352L22.1 352.2L22.4 352.4L22.7 352.9L22.6 353.6L22.2 353.8L21.8 353.9L20.7 353.8L20.7 354.1L21 354.2L22.1 354.2L22.6 354L23.1 353.5L23.1 352.8L22.8 352.2L22.3 351.9L21.8 351.7L20.5 351.7ZM19.7 341.4L19.9 341.4L20.1 341.2L19.7 341.2ZM19.7 342L19.9 342L20.1 341.8L19.7 341.7ZM19.9 323.2L19.7 323.3L19.5 324L19.8 324.5L20.2 324.7L20.5 324.7L21 324.4L21.3 323.7L21.5 323.5L21.8 323.5L22.1 323.7L22.4 324.5L22.4 325.2L22.3 325.4L21.9 325.6L21.1 325.5L21.1 325.8L21.3 325.9L22.2 325.9L22.7 325.6L23 325L22.8 324.8L22.8 324.3L22.4 323.5L21.8 323.2L21.3 323.2L20.6 324.2L20.3 324.3L19.9 324L19.9 323.6L20.3 323.3L20.3 323.1ZM19.3 303.5L19.5 303.5L19.7 303.3L19.3 303.2ZM19.3 310.7L19.5 310.7L19.7 310.5L19.3 310.4ZM19.3 353.3L19.5 353.3L19.7 353.1L19.3 353ZM19.3 363.1L19.3 363.3L19.7 363.3L19.5 363.1ZM19.8 374.2L19.4 374.4L19.1 374.7L19.1 375L19.4 375.4L19.7 375.5L20.6 375.5L21 375.1L21 374.8L20.9 374.7L21 374.6L21.5 374.8L21.5 375.1L21.7 375.2L21.7 376.2L21.5 376.4L21.1 376.5L20.3 376.5L20.3 376.8L21.1 376.8L21.4 376.9L21.7 377.2L21.5 377.5L20.7 377.9L20.6 378L20.7 378.5L21.3 378.8L22.1 378.4L22.4 378.9L22.4 379.9L22.3 380.1L21.8 380.5L21 380.3L21 380.6L21.1 380.7L21.9 380.8L22.3 380.7L22.7 380.3L22.8 380L22.8 378.9L22.6 378.4L22.2 378.1L21.7 378.1L21.4 378.4L21 378.2L21.8 377.8L22.1 377.5L22.1 376.9L21.9 376.8L21.9 376.5L22.1 376.4L22.1 374.9L21.9 374.7L21 374.2ZM19.9 375.2L19.7 375L19.7 374.8L19.9 374.6L20.3 374.6L20.6 374.8L20.6 374.9L20.2 375.2ZM19 316.4L19.4 316.5L19.4 316.2L19.1 316.2ZM19 376.7L19.4 376.8L19.4 376.5L19.1 376.5ZM18.1 314.6L18.5 314.7L18.5 314.4L18.2 314.4ZM18.1 374.9L18.5 375L18.5 374.8L18.2 374.8ZM17.4 302.2L21.4 302.2L22.1 301.9L22.1 300.8L21.7 300.5L22.1 300.2L22.1 299.6L21.7 299.3L22.1 298.9L22.1 298.5L21.7 298.1L20.9 297.9L19.8 297.9L19.7 298L19.8 298.3L21.3 298.3L21.7 298.6L21.4 299L20.2 299.1L20.2 299.4L21.3 299.5L21.7 299.9L21.3 300.3L20.2 300.4L20.2 300.6L21 300.6L21.5 300.9L21.7 301.1L21.7 301.6L21.5 301.8L21 302L17.4 302ZM17.4 308.2L21.5 308.2L21.8 308.1L22.1 307.8L22.1 306.8L21.9 306.7L22.2 306.4L22.2 305.7L21.8 305.4L20.7 305.4L20.3 305.6L20.3 306.4L20.7 306.7L21.3 306.8L21.7 307L21.7 307.6L21.3 307.9L17.4 307.9ZM20.9 306.3L20.7 305.9L21.1 305.6L21.5 305.6L21.8 305.8L21.7 306.4L21.4 306.5ZM17.4 317.9L21.4 317.9L22.1 317.5L22.1 316.6L21.9 316.5L21.9 316.2L22.1 316.1L22.1 314.6L21.9 314.3L21.5 314L21 313.8L19.8 313.8L19.4 314L19.1 314.3L19.1 314.7L19.4 315.1L19.7 315.1L20.6 315.1L21 314.8L21 314.4L20.9 314.3L21 314.2L21.5 314.5L21.5 314.8L21.7 314.9L21.7 315.8L21.5 316L21.1 316.2L20.3 316.2L20.3 316.5L21.1 316.5L21.5 316.7L21.7 316.8L21.5 317.4L21 317.6L17.4 317.6ZM19.9 314.9L19.7 314.7L19.7 314.4L19.9 314.2L20.3 314.2L20.6 314.4L20.6 314.6L20.2 314.9ZM17.4 328.4L22.1 328.4L22.1 328.1L17.4 328.1ZM18 335L21 334L21.4 334.1L21.7 334.5L21.7 334.9L22.1 334.8L21.9 334.1L21.3 333.5L21.3 333.4L22.1 332.9L22.1 330.3L21.8 329.7L21.5 329.5L21.1 329.3L20.3 329.4L19.9 329.8L19.9 330.4L20.3 331L21.1 331.5L21 331.6L17.4 331.6L17.4 331.9L21.4 331.9L21.7 332.1L21.7 332.8L21 333.1L17.4 333.1L17.4 333.5L20.2 333.5L20.7 333.7L20.2 334L19.9 334L18.8 334.5L18 334.6L17.8 334.7ZM20.6 329.6L21 329.6L21.4 329.9L21.5 330.6L21.7 330.7L21.7 331.2L21.5 331.2L20.6 330.7L20.3 330.3L20.3 329.9ZM17.4 338.9L21.3 338.9L21.9 338.6L22.1 338.4L22.1 337.5L21 335.8L20.6 335.8L21 336.4L21 336.7L20.6 337.1L19.8 337.1L19.4 336.8L19.3 336.2L18.9 336.2L18.9 336.6L19.1 337.1L19.4 337.3L20.1 337.5L21 337.3L21.3 337L21.7 337.7L21.7 338.2L21.3 338.5L17.4 338.5ZM17.4 345.8L22.1 345.8L22.1 345.5L17.4 345.5ZM17.4 350.8L22.1 350.8L22.1 350.5L17.4 350.5ZM17.4 359.9L22.1 359.9L22.1 359.6L17.4 359.6ZM17.4 366.8L21.5 366.8L21.8 366.7L22.1 366.5L22.1 365.5L21.4 365.1L20.3 365.1L20.3 365.4L21.4 365.5L21.7 365.8L21.7 366.3L21.3 366.6L17.4 366.6Z"/>
<path fill="#222" stroke="#222" stroke-width="0.3" d="M23 444L23.3 444L23.4 443.7L23 443.7ZM22.9 419.6L23.3 419.7L23.3 419.4L23 419.4ZM22.9 420.3L23.3 420.4L23.3 420L23 420ZM22.9 425L23.3 425.1L23.3 424.8L23 424.8ZM22.9 425.7L23.3 425.8L23.3 425.5L23 425.5ZM20.6 434.5L20.5 434.6L20.5 435.3L20.6 435.4L20.9 435.3L21.9 435.3L22.2 435.4L23 436.2L23.1 437.3L23.8 437.3L23.8 436.3L23.4 435.3L22.3 434.5ZM20.3 419.5L20.3 420.3L20.9 420.3L21.4 420.6L21.4 421.3L21 421.6L20.5 421.7L20.5 422.6L20.6 422.5L21.9 422.5L22.4 422.8L23.1 423.8L23.1 424.6L23.8 424.6L23.8 423.8L23.7 423.7L23.6 422.9L23.3 422.4L22.2 421.6L22.2 419.9L22 419.7L21.6 419.5ZM20.9 397.8L20.3 398.2L20.2 399.3L20.7 399.8L21.3 400.1L21.4 400.3L21.4 401L20.9 401.4L20.5 401.5L20.5 402.3L20.7 402.2L21.9 402.2L22.2 402.3L23 403.1L23.1 404.2L23.8 404.2L23.8 403.6L23.7 403.5L23.6 402.6L23.3 402.1L22.6 401.5L22.2 401.4L22.2 400.1L22 399.8L22.3 399.4L22.3 398.4L22 397.9L21.7 397.8ZM21.2 399.2L20.9 398.8L21.2 398.6L21.4 398.6L21.6 398.7L21.6 399.1ZM20.3 424.9L20.3 425.7L21 425.7L21.4 426L21.4 426.7L21.3 426.9L20.9 427.2L20.2 427.2L20 427.3L20 428.1L20.6 428.1L21 428.4L21.4 429.3L21.4 430.2L21.3 430.5L20.9 430.9L20.5 430.9L20.3 430.8L20.2 430.9L20.2 431.6L20.7 431.8L21.2 431.8L21.9 431.4L22.2 430.7L22.2 428.8L21.7 427.8L21.7 427.6L22.2 427.2L22.2 425.3L22 425.1L21.6 424.9ZM22.2 418.6L22.3 418.4L22.3 417.7L21.9 416.7L22.2 416.4L22.2 415.3L22 415L22.3 414.6L22.3 413.6L22.2 413.3L21.7 412.9L20.9 412.9L20.5 413.2L20.2 413.6L20.2 414.4L20.3 414.6L21.4 415.4L21.4 416.1L21.2 416.4L20.6 416.5L19.5 417.1L19.5 418L20 417.6L20.6 417.3L21 417.3L21.6 417.9L21.4 418.6ZM21.4 414.3L21.2 414.3L20.9 414.1L21.2 413.7L21.6 413.9ZM19.5 429.4L19.8 429.4L19.9 429.2L19.5 429.1ZM19.5 430.1L19.8 430.1L19.9 429.9L19.5 429.7ZM19.5 450.2L20.5 449.5L21.2 449.5L21.6 450.1L21.4 450.7L22.2 450.7L22.3 450.5L22.2 449.3L22 449L21.4 448.7L20.2 448.8L19.5 449.3ZM19.2 408.6L19.5 408.6L19.6 408.4L19.2 408.3ZM19.6 451.5L19.2 452L19.2 453.3L19.6 453.8L20.3 453.8L20.6 453.6L20.9 452.9L21.3 452.5L21.6 452.5L22 453L22.2 454.3L21.7 454.8L20.9 454.7L20.9 455.5L21.4 455.7L22.2 455.6L22.7 455.1L22.9 454.8L22.9 453.3L22.4 452.2L22 451.8L21.3 451.6L20.6 452.1L20.3 452.8L20 453L19.8 452.8L19.8 452.4L20 452.1L20 451.5ZM21.2 439.3L20.7 439.5L19.9 440L19.2 440.9L18.9 442L19.6 442L19.8 441.8L20.3 442.3L21 442.3L21.3 442L21.4 442.2L21.4 443.1L21 443.4L20.3 443.4L20.3 444.3L21.2 444.3L21.4 444.6L21.4 445.2L21.3 445.4L20.5 445.8L20.5 446.6L20.9 446.4L22.2 446.6L23 447.4L23.1 448.5L23.8 448.5L23.8 447.8L23.7 447.7L23.6 446.8L23.3 446.3L22.7 445.9L22.2 445.7L22.2 444.1L21.9 443.7L22.2 443.5L22.2 441.7L22 441.5L22.4 440.9L22.4 440.1L22.3 439.8L21.9 439.5ZM20.9 440.2L21 440.1L21.4 440.1L21.7 440.4L21.7 440.6L21.6 440.7ZM20.6 441.5L20.5 441.1L20.9 441L21.2 441.4L21 441.5ZM18.9 464.2L19.3 464.3L19.3 463.9L19 463.9ZM18.9 464.8L19.3 465L19.3 464.6L19 464.6ZM18.1 461.5L18.1 461.7L18.5 461.7L18.3 461.5ZM17.2 404.1L17.9 405.8L17.9 406.2L18.3 406.8L19 407L20.9 405.8L21.2 405.8L21.4 406.1L21.4 407.5L21 407.9L20.5 408L20.5 408.9L20.6 408.8L22 408.8L22.4 409L23.1 410L23.1 410.8L23.8 410.8L23.8 410L23.7 409.9L23.6 409.1L23.3 408.6L22.2 407.9L22.2 405.5L21.9 404.9L21.6 404.8L20.9 404.8L18.9 405.9L18.5 405.6L17.9 404.1ZM17.2 438.4L22.2 438.4L22.2 437.6L17.2 437.6ZM17.2 459.3L22.2 459.3L22.2 458.4L17.2 458.4ZM17.2 467.1L21.4 467.1L22 466.9L22.2 466.6L22.2 464.7L21.9 464.4L22.2 464.2L22.2 461.2L21.7 460.6L21.2 460.3L19.9 460.3L19.3 460.6L19 460.9L19 462.2L19.2 462.5L19.6 462.7L20.5 462.7L20.7 462.6L21 462.1L21 461.5L21.2 461.3L21.4 461.6L21.4 463.7L21 464.1L20.3 464.1L20.3 464.8L20.9 464.8L21.4 465.2L21.4 466L21.2 466.2L17.2 466.2ZM19.9 461.9L19.6 461.7L19.6 461.5L19.9 461.2L20.2 461.2L20.5 461.5L20.5 461.7L20.2 461.9Z"/>
<path fill="#1a1a1a" stroke="#1a1a1a" stroke-width="0.25" d="M470.2 103.2L470.5 103.2L470.7 103L470.2 102.9ZM467.1 88.1L466.6 88.5L466.6 89.9L467.5 90.4L468.4 90.4L469.1 89.8L469.1 89L469.3 88.9L470 89.3L470.2 89.7L470.3 91.1L471.2 91.1L471 89.2L470.5 88.4L469.4 88L467.5 88ZM467.7 89.5L467.3 89.1L468 88.8L468.2 88.9L468.2 89.3ZM467.7 93.3L467.3 93.4L466.6 94L466.6 94.8L467 95.3L468.2 95.9L468.2 96.6L467.8 96.9L467 97.2L467 98L467.5 97.9L469.1 98L470.2 98.8L470.3 100L471.2 100L471.2 99.3L471 99.2L470.9 98.2L470.5 97.8L469.8 97.3L469.1 97L469.1 95.8L468.9 95.7L468.9 95.4L469.3 95.1L469.3 94L469.1 93.7L468.4 93.3ZM468 94.8L467.5 94.6L467.5 94.4L467.8 94.1L468.4 94.4L468.4 94.6ZM467.7 107.2L468.6 107.1L468.9 106.7L468.7 105.3L469.1 105.1L469.1 103.3L468.7 103L469.1 102.8L469.1 100.8L468.9 100.5L468.2 100.3L466.8 100.3L466.8 101.2L467.8 101.2L468.2 101.6L468.2 102.3L467.7 102.7L466.8 102.7L466.8 103.5L467.8 103.6L468.2 103.8L468.2 104.4L467.3 104.9L466.2 104.9L466.1 105L466.1 105.7L466.4 105.9L466.4 106.3L466.8 106.7ZM467.5 106.3L467.3 106.2L467.3 105.8L467.8 105.7L468 105.8L468 106.2ZM465.7 85.5L465.7 86.4L466.8 85.8L467.7 85.7L468.4 86.3L468.4 86.9L468.2 87L469.1 87L469.3 86.9L469.3 86L468.9 85.4L468.4 85L467.3 84.9ZM465 100.5L465.5 100.5L465.5 100.3L465.2 100.3ZM465 101L465.2 101.2L465.5 101.2L465.5 101Z"/>
<path fill="#222" d="M92 50.8L91.4 50.8L91.4 52.6L90.9 53.1L90.1 52.5L90 51.3L89.5 51.5L89.3 52.6L88.9 53.1L88.1 52.6L87.9 51.5L87.8 51.3L87.5 51.5L87.5 52.3L87.3 52.6L86.7 53.1L85.9 53.1L85.6 53L85.3 52.5L85.1 51.7L84.7 51.7L84.8 53.1L84.5 53.8L83.7 54.6L83.1 55L82 55.1L82 55.6L82.8 55.6L84 55.1L84.8 54.5L85.3 53.5L85.6 53.6L87.2 53.6L87.8 53.1L88.2 53.6L89.2 53.6L89.8 53.1L90.4 53.6L91.1 53.6L91.4 53.5L91.8 52.8ZM89.7 50L89.7 50.3L90 50.5L90.1 50ZM89.2 50L88.9 50L88.9 50.5L89.2 50.3ZM75.3 50.2L75 50.7L75 51.7L75.3 51.8L75.4 52.2L74.7 53.1L74.7 54.5L75.3 55.3L76.2 55.6L77.8 55.6L77.9 55.5L79.3 55.6L79.5 55.5L80.1 55.5L81.2 54.6L81.5 54L81.5 52.2L81.1 51.5L80.1 51.3L79.3 52L79.3 53L79.8 53.5L80.9 53.8L80.1 54.8L78.9 55L78.7 55.1L78.4 54.8L77.5 55.1L76.2 55.1L75.7 55L75.1 54.1L75.3 53.1L76.4 52.2L77.8 51.8L77.8 51.3L77 51.3L76.4 51.7L75.7 51.7L75.4 51.3L75.4 50.8L75.9 50.3L77 50.2L77 49.7L76.2 49.7ZM80.1 52L80.6 52L81.1 52.5L81.1 53L80.9 53.1L80.1 53L79.8 52.5ZM89.2 49L89.2 49.3L89.5 49.5L89.7 49Z"/>
<text x="915.6" y="495" font-family="Liberation Sans" font-size="5.3" fill="#c4c4c4" textLength="22.4" lengthAdjust="spacingAndGlyphs">Powered by</text>
<circle cx="922.7" cy="503.5" r="6" fill="none" stroke="#f8d5ac" stroke-width="2.2"/>
<text x="933.7" y="503.2" font-family="Liberation Sans" font-size="5.6" font-weight="bold" fill="#cfcfcf" textLength="13.2" lengthAdjust="spacingAndGlyphs">Signavio</text>
</g></svg></div>
</body></html>
